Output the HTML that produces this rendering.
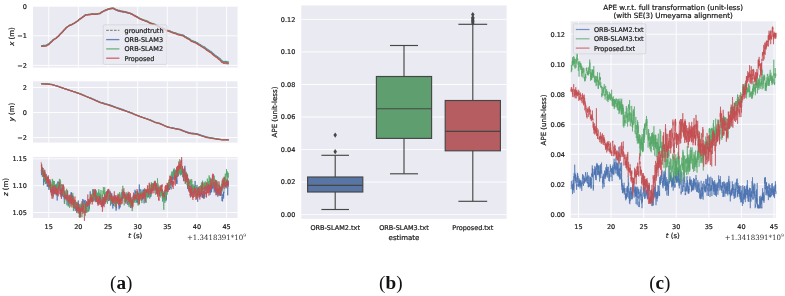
<!DOCTYPE html>
<html><head><meta charset="utf-8"><title>Figure</title>
<style>
html,body{margin:0;padding:0;background:#fff;}
svg{display:block;font-family:"DejaVu Sans","Liberation Sans",sans-serif;fill:#1c1c1c;}
text{stroke:#1c1c1c;stroke-width:0.22px;}
.cap{stroke:none;}
</style></head><body>
<svg width="785" height="296" viewBox="0 0 785 296">
<rect width="785" height="296" fill="#fff"/>
<rect x="33.0" y="6" width="204.5" height="61.5" fill="#EAEAF2"/>
<line x1="48.75" y1="6" x2="48.75" y2="67.5" stroke="#fff" stroke-width="0.9"/>
<line x1="78.39" y1="6" x2="78.39" y2="67.5" stroke="#fff" stroke-width="0.9"/>
<line x1="108.03" y1="6" x2="108.03" y2="67.5" stroke="#fff" stroke-width="0.9"/>
<line x1="137.68" y1="6" x2="137.68" y2="67.5" stroke="#fff" stroke-width="0.9"/>
<line x1="167.32" y1="6" x2="167.32" y2="67.5" stroke="#fff" stroke-width="0.9"/>
<line x1="196.96" y1="6" x2="196.96" y2="67.5" stroke="#fff" stroke-width="0.9"/>
<line x1="226.60" y1="6" x2="226.60" y2="67.5" stroke="#fff" stroke-width="0.9"/>
<line x1="33.0" y1="6.30" x2="237.5" y2="6.30" stroke="#fff" stroke-width="0.9"/>
<line x1="33.0" y1="35.80" x2="237.5" y2="35.80" stroke="#fff" stroke-width="0.9"/>
<line x1="33.0" y1="65.40" x2="237.5" y2="65.40" stroke="#fff" stroke-width="0.9"/>
<polyline points="41.2,46.4 42.0,46.3 42.8,46.2 43.5,46.2 44.2,46.0 45.0,45.8 45.8,45.6 46.5,45.4 47.2,45.2 48.0,44.7 48.8,44.2 49.5,43.6 50.2,43.1 51.0,42.5 51.8,42.0 52.5,41.4 53.2,40.8 54.0,40.2 54.8,39.5 55.5,38.9 56.2,38.3 57.0,37.7 57.8,37.0 58.5,36.3 59.2,35.5 60.0,34.8 60.8,34.0 61.5,33.3 62.2,32.5 63.0,31.6 63.8,30.6 64.5,29.7 65.2,28.8 66.0,27.8 66.8,27.0 67.5,26.6 68.2,26.1 69.0,25.6 69.8,25.3 70.5,24.9 71.2,24.6 72.0,24.3 72.8,23.8 73.5,23.3 74.2,22.8 75.0,22.3 75.8,21.8 76.5,21.2 77.2,20.7 78.0,20.2 78.8,19.6 79.5,19.0 80.2,18.4 81.0,17.8 81.8,17.2 82.5,16.7 83.2,16.3 84.0,15.9 84.8,15.4 85.5,15.0 86.2,14.8 87.0,14.7 87.8,14.6 88.5,14.5 89.2,14.4 90.0,14.4 90.8,14.3 91.5,14.2 92.2,14.2 93.0,14.1 93.8,14.0 94.5,14.0 95.2,13.9 96.0,13.8 96.8,13.7 97.5,13.6 98.2,13.5 99.0,13.4 99.8,13.2 100.5,12.9 101.2,12.4 102.0,12.0 102.8,11.5 103.5,11.1 104.2,10.6 105.0,10.2 105.8,9.7 106.5,9.3 107.2,8.9 108.0,8.8 108.8,8.6 109.5,8.4 110.2,8.3 111.0,8.4 111.8,8.5 112.5,8.6 113.2,8.8 114.0,9.0 114.8,9.2 115.5,9.4 116.2,9.6 117.0,9.8 117.8,10.0 118.5,10.2 119.2,10.4 120.0,10.6 120.8,10.8 121.5,11.0 122.2,11.2 123.0,11.4 123.8,11.5 124.5,11.7 125.2,11.9 126.0,12.0 126.8,12.2 127.5,12.4 128.2,12.5 129.0,12.7 129.8,13.2 130.5,13.6 131.2,14.1 132.0,14.6 132.8,15.0 133.5,15.4 134.2,15.7 135.0,16.0 135.8,16.3 136.5,16.6 137.2,16.9 138.0,17.3 138.8,17.7 139.5,18.1 140.2,18.4 141.0,18.8 141.8,19.2 142.5,19.6 143.2,19.9 144.0,20.3 144.8,20.7 145.5,21.0 146.2,21.3 147.0,21.6 147.8,21.9 148.5,22.2 149.2,22.5 150.0,22.8 150.8,23.1 151.5,23.4 152.2,23.7 153.0,24.0 153.8,24.3 154.5,24.6 155.2,24.9 156.0,25.3 156.8,25.7 157.5,26.1 158.2,26.4 159.0,26.8 159.8,27.2 160.5,27.5 161.2,27.9 162.0,28.2 162.8,28.6 163.5,28.9 164.2,29.3 165.0,29.6 165.8,30.0 166.5,30.3 167.2,30.7 168.0,31.0 168.8,31.2 169.5,31.5 170.2,31.7 171.0,32.0 171.8,32.2 172.5,32.5 173.2,32.7 174.0,33.0 174.8,33.2 175.5,33.4 176.2,33.6 177.0,33.9 177.8,34.1 178.5,34.3 179.2,34.5 180.0,34.7 180.8,34.9 181.5,35.1 182.2,35.3 183.0,35.5 183.8,35.7 184.5,36.1 185.2,36.6 186.0,37.0 186.8,37.5 187.5,37.9 188.2,38.4 189.0,38.9 189.8,39.3 190.5,39.8 191.2,40.2 192.0,40.7 192.8,41.1 193.5,41.6 194.2,42.1 195.0,42.6 195.8,43.0 196.5,43.5 197.2,44.0 198.0,44.5 198.8,44.9 199.5,45.4 200.2,45.9 201.0,46.4 201.8,46.8 202.5,47.3 203.2,47.8 204.0,48.3 204.8,48.8 205.5,49.3 206.2,49.8 207.0,50.4 207.8,50.9 208.5,51.4 209.2,51.9 210.0,52.4 210.8,52.9 211.5,53.4 212.2,53.9 213.0,54.4 213.8,54.9 214.5,55.5 215.2,56.0 216.0,56.7 216.8,57.3 217.5,58.0 218.2,58.6 219.0,59.3 219.8,59.9 220.5,60.6 221.2,61.2 222.0,61.9 222.8,62.5 223.5,63.2 224.2,63.6 225.0,63.7 225.8,63.8 226.5,63.9 227.2,63.9 228.0,64.0 228.8,64.1" fill="none" stroke="#8c8c8c" stroke-width="0.9" stroke-opacity="1" stroke-linejoin="round" stroke-dasharray="2.2,1.2"/>
<polyline points="41.2,45.7 42.0,45.6 42.8,45.6 43.5,45.5 44.2,45.4 45.0,45.3 45.8,45.3 46.5,45.1 47.2,44.6 48.0,44.2 48.8,43.9 49.5,43.2 50.2,42.5 51.0,41.8 51.8,41.2 52.5,40.4 53.2,39.7 54.0,39.2 54.8,38.7 55.5,38.4 56.2,38.0 57.0,37.3 57.8,36.6 58.5,36.1 59.2,35.3 60.0,34.3 60.8,33.5 61.5,33.0 62.2,32.1 63.0,31.4 63.8,30.3 64.5,29.6 65.2,28.9 66.0,28.0 66.8,27.3 67.5,26.7 68.2,26.3 69.0,25.7 69.8,25.2 70.5,25.2 71.2,24.7 72.0,24.4 72.8,23.9 73.5,23.5 74.2,23.3 75.0,22.7 75.8,22.2 76.5,21.6 77.2,21.2 78.0,20.7 78.8,19.9 79.5,19.2 80.2,18.8 81.0,18.4 81.8,17.7 82.5,17.2 83.2,16.6 84.0,16.2 84.8,15.5 85.5,14.8 86.2,14.8 87.0,14.7 87.8,14.8 88.5,14.5 89.2,14.5 90.0,14.6 90.8,14.3 91.5,14.1 92.2,13.8 93.0,14.1 93.8,14.2 94.5,14.0 95.2,14.2 96.0,14.1 96.8,14.3 97.5,13.9 98.2,13.7 99.0,13.6 99.8,13.6 100.5,13.2 101.2,12.4 102.0,12.0 102.8,11.6 103.5,11.2 104.2,10.9 105.0,10.5 105.8,10.3 106.5,9.9 107.2,9.8 108.0,9.4 108.8,9.3 109.5,8.9 110.2,8.8 111.0,8.8 111.8,8.5 112.5,8.5 113.2,8.5 114.0,8.9 114.8,9.4 115.5,9.8 116.2,10.2 117.0,10.5 117.8,10.9 118.5,11.1 119.2,10.9 120.0,11.3 120.8,11.7 121.5,11.7 122.2,11.8 123.0,12.0 123.8,12.0 124.5,12.1 125.2,12.1 126.0,12.5 126.8,12.7 127.5,12.8 128.2,13.1 129.0,13.1 129.8,13.4 130.5,13.6 131.2,14.0 132.0,14.2 132.8,14.8 133.5,14.9 134.2,15.6 135.0,15.9 135.8,16.3 136.5,16.9 137.2,16.8 138.0,17.6 138.8,18.1 139.5,18.6 140.2,18.8 141.0,19.1 141.8,19.6 142.5,19.9 143.2,20.0 144.0,20.4 144.8,20.7 145.5,20.9 146.2,21.2 147.0,21.5 147.8,21.9 148.5,22.3 149.2,22.7 150.0,23.0 150.8,23.4 151.5,23.5 152.2,23.8 153.0,23.9 153.8,24.1 154.5,24.3 155.2,24.5 156.0,25.2 156.8,25.5 157.5,25.7 158.2,26.2 159.0,27.0 159.8,27.2 160.5,27.3 161.2,27.6 162.0,27.9 162.8,28.3 163.5,28.4 164.2,29.0 165.0,29.2 165.8,29.7 166.5,30.2 167.2,30.4 168.0,30.5 168.8,30.6 169.5,31.1 170.2,31.2 171.0,31.6 171.8,31.8 172.5,32.2 173.2,32.5 174.0,32.6 174.8,32.9 175.5,33.0 176.2,33.2 177.0,33.7 177.8,34.0 178.5,34.2 179.2,34.4 180.0,34.4 180.8,34.7 181.5,34.9 182.2,34.9 183.0,35.2 183.8,35.5 184.5,36.2 185.2,36.7 186.0,36.9 186.8,37.6 187.5,37.8 188.2,38.2 189.0,38.6 189.8,39.1 190.5,39.8 191.2,40.3 192.0,40.7 192.8,40.8 193.5,41.3 194.2,41.5 195.0,41.7 195.8,42.1 196.5,42.5 197.2,42.9 198.0,43.2 198.8,43.8 199.5,44.3 200.2,44.6 201.0,45.2 201.8,45.7 202.5,46.1 203.2,46.5 204.0,46.8 204.8,47.3 205.5,47.9 206.2,48.7 207.0,49.1 207.8,49.6 208.5,50.2 209.2,50.5 210.0,51.1 210.8,51.4 211.5,52.1 212.2,52.7 213.0,53.6 213.8,54.1 214.5,54.7 215.2,55.3 216.0,55.9 216.8,56.3 217.5,56.5 218.2,57.5 219.0,58.0 219.8,58.6 220.5,59.2 221.2,60.2 222.0,60.9 222.8,61.2 223.5,61.7 224.2,61.9 225.0,61.5 225.8,61.3 226.5,61.6 227.2,62.0 228.0,62.0 228.8,62.2" fill="none" stroke="#4C72B0" stroke-width="1.3" stroke-opacity="0.92" stroke-linejoin="round"/>
<polyline points="41.2,46.2 42.0,46.1 42.8,46.2 43.5,46.1 44.2,46.0 45.0,45.9 45.8,45.9 46.5,45.7 47.2,45.1 48.0,44.7 48.8,44.4 49.5,43.6 50.2,42.9 51.0,42.1 51.8,41.5 52.5,40.6 53.2,39.9 54.0,39.3 54.8,38.8 55.5,38.4 56.2,38.0 57.0,37.3 57.8,36.6 58.5,36.0 59.2,35.2 60.0,34.2 60.8,33.4 61.5,32.9 62.2,32.1 63.0,31.3 63.8,30.2 64.5,29.5 65.2,28.8 66.0,27.9 66.8,27.2 67.5,26.6 68.2,26.2 69.0,25.6 69.8,25.1 70.5,25.1 71.2,24.6 72.0,24.3 72.8,23.8 73.5,23.4 74.2,23.2 75.0,22.6 75.8,22.1 76.5,21.5 77.2,21.1 78.0,20.6 78.8,19.8 79.5,19.1 80.2,18.7 81.0,18.3 81.8,17.6 82.5,17.1 83.2,16.5 84.0,16.1 84.8,15.4 85.5,14.7 86.2,14.7 87.0,14.6 87.8,14.7 88.5,14.4 89.2,14.4 90.0,14.5 90.8,14.2 91.5,14.0 92.2,13.7 93.0,14.0 93.8,14.1 94.5,13.9 95.2,14.1 96.0,14.0 96.8,14.1 97.5,13.8 98.2,13.5 99.0,13.5 99.8,13.4 100.5,13.1 101.2,12.3 102.0,11.9 102.8,11.4 103.5,11.0 104.2,10.7 105.0,10.3 105.8,10.1 106.5,9.6 107.2,9.5 108.0,9.2 108.8,9.0 109.5,8.6 110.2,8.5 111.0,8.4 111.8,8.0 112.5,8.1 113.2,8.0 114.0,8.4 114.8,8.9 115.5,9.2 116.2,9.6 117.0,9.9 117.8,10.3 118.5,10.5 119.2,10.3 120.0,10.7 120.8,11.1 121.5,11.1 122.2,11.2 123.0,11.4 123.8,11.5 124.5,11.6 125.2,11.6 126.0,12.0 126.8,12.2 127.5,12.4 128.2,12.6 129.0,12.8 129.8,13.1 130.5,13.2 131.2,13.7 132.0,13.9 132.8,14.5 133.5,14.7 134.2,15.4 135.0,15.7 135.8,16.1 136.5,16.7 137.2,16.6 138.0,17.4 138.8,17.9 139.5,18.3 140.2,18.5 141.0,18.8 141.8,19.2 142.5,19.5 143.2,19.6 144.0,19.9 144.8,20.1 145.5,20.4 146.2,20.6 147.0,20.9 147.8,21.3 148.5,21.7 149.2,22.2 150.0,22.5 150.8,23.0 151.5,23.1 152.2,23.5 153.0,23.6 153.8,23.9 154.5,24.1 155.2,24.4 156.0,25.1 156.8,25.4 157.5,25.7 158.2,26.2 159.0,26.9 159.8,27.2 160.5,27.3 161.2,27.6 162.0,27.9 162.8,28.3 163.5,28.4 164.2,29.0 165.0,29.3 165.8,29.8 166.5,30.3 167.2,30.5 168.0,30.6 168.8,30.7 169.5,31.2 170.2,31.3 171.0,31.7 171.8,31.9 172.5,32.3 173.2,32.6 174.0,32.8 174.8,33.0 175.5,33.2 176.2,33.4 177.0,33.8 177.8,34.2 178.5,34.4 179.2,34.5 180.0,34.6 180.8,34.9 181.5,35.1 182.2,35.1 183.0,35.4 183.8,35.8 184.5,36.4 185.2,36.9 186.0,37.1 186.8,37.8 187.5,38.0 188.2,38.5 189.0,38.9 189.8,39.3 190.5,40.1 191.2,40.6 192.0,41.0 192.8,41.1 193.5,41.6 194.2,41.8 195.0,42.0 195.8,42.4 196.5,42.8 197.2,43.2 198.0,43.6 198.8,44.2 199.5,44.6 200.2,45.0 201.0,45.6 201.8,46.1 202.5,46.5 203.2,46.9 204.0,47.2 204.8,47.8 205.5,48.4 206.2,49.1 207.0,49.5 207.8,50.1 208.5,50.7 209.2,51.0 210.0,51.5 210.8,51.9 211.5,52.5 212.2,53.2 213.0,54.1 213.8,54.6 214.5,55.2 215.2,55.8 216.0,56.4 216.8,56.8 217.5,57.1 218.2,58.0 219.0,58.5 219.8,59.2 220.5,59.8 221.2,60.8 222.0,61.5 222.8,61.7 223.5,62.3 224.2,62.5 225.0,62.1 225.8,61.9 226.5,62.2 227.2,62.6 228.0,62.6 228.8,62.8" fill="none" stroke="#55A868" stroke-width="1.3" stroke-opacity="0.92" stroke-linejoin="round"/>
<polyline points="41.2,46.4 42.0,46.3 42.8,46.4 43.5,46.3 44.2,46.2 45.0,46.1 45.8,46.1 46.5,45.9 47.2,45.3 48.0,45.0 48.8,44.6 49.5,43.8 50.2,43.1 51.0,42.3 51.8,41.7 52.5,40.8 53.2,40.1 54.0,39.5 54.8,39.0 55.5,38.7 56.2,38.2 57.0,37.5 57.8,36.8 58.5,36.2 59.2,35.4 60.0,34.4 60.8,33.7 61.5,33.1 62.2,32.3 63.0,31.5 63.8,30.4 64.5,29.7 65.2,29.0 66.0,28.1 66.8,27.4 67.5,26.8 68.2,26.4 69.0,25.8 69.8,25.4 70.5,25.3 71.2,24.8 72.0,24.6 72.8,24.1 73.5,23.6 74.2,23.4 75.0,22.8 75.8,22.3 76.5,21.7 77.2,21.3 78.0,20.8 78.8,20.0 79.5,19.3 80.2,19.0 81.0,18.6 81.8,17.8 82.5,17.4 83.2,16.8 84.0,16.4 84.8,15.7 85.5,15.0 86.2,14.9 87.0,14.8 87.8,14.9 88.5,14.6 89.2,14.6 90.0,14.7 90.8,14.4 91.5,14.2 92.2,13.9 93.0,14.2 93.8,14.4 94.5,14.1 95.2,14.3 96.0,14.2 96.8,14.4 97.5,14.0 98.2,13.8 99.0,13.7 99.8,13.7 100.5,13.3 101.2,12.5 102.0,12.1 102.8,11.6 103.5,11.3 104.2,10.9 105.0,10.5 105.8,10.3 106.5,9.8 107.2,9.7 108.0,9.4 108.8,9.2 109.5,8.8 110.2,8.7 111.0,8.6 111.8,8.3 112.5,8.3 113.2,8.2 114.0,8.7 114.8,9.1 115.5,9.5 116.2,9.9 117.0,10.1 117.8,10.5 118.5,10.7 119.2,10.5 120.0,11.0 120.8,11.3 121.5,11.3 122.2,11.5 123.0,11.7 123.8,11.7 124.5,11.8 125.2,11.8 126.0,12.2 126.8,12.5 127.5,12.6 128.2,12.9 129.0,13.0 129.8,13.3 130.5,13.4 131.2,13.9 132.0,14.1 132.8,14.8 133.5,14.9 134.2,15.6 135.0,15.9 135.8,16.3 136.5,16.9 137.2,16.9 138.0,17.7 138.8,18.2 139.5,18.7 140.2,18.9 141.0,19.2 141.8,19.7 142.5,20.0 143.2,20.1 144.0,20.5 144.8,20.8 145.5,21.0 146.2,21.3 147.0,21.6 147.8,22.0 148.5,22.4 149.2,22.8 150.0,23.1 150.8,23.6 151.5,23.6 152.2,23.9 153.0,24.0 153.8,24.3 154.5,24.5 155.2,24.8 156.0,25.4 156.8,25.7 157.5,26.0 158.2,26.5 159.0,27.2 159.8,27.5 160.5,27.6 161.2,28.0 162.0,28.2 162.8,28.6 163.5,28.8 164.2,29.3 165.0,29.6 165.8,30.1 166.5,30.6 167.2,30.9 168.0,31.0 168.8,31.1 169.5,31.6 170.2,31.7 171.0,32.1 171.8,32.4 172.5,32.7 173.2,33.1 174.0,33.2 174.8,33.5 175.5,33.6 176.2,33.9 177.0,34.3 177.8,34.7 178.5,34.9 179.2,35.0 180.0,35.1 180.8,35.4 181.5,35.6 182.2,35.7 183.0,35.9 183.8,36.3 184.5,37.0 185.2,37.4 186.0,37.7 186.8,38.4 187.5,38.6 188.2,39.1 189.0,39.5 189.8,39.9 190.5,40.7 191.2,41.2 192.0,41.6 192.8,41.7 193.5,42.3 194.2,42.5 195.0,42.7 195.8,43.0 196.5,43.4 197.2,43.9 198.0,44.3 198.8,44.9 199.5,45.3 200.2,45.7 201.0,46.3 201.8,46.8 202.5,47.2 203.2,47.6 204.0,47.9 204.8,48.5 205.5,49.1 206.2,49.9 207.0,50.3 207.8,50.8 208.5,51.4 209.2,51.8 210.0,52.3 210.8,52.6 211.5,53.3 212.2,54.0 213.0,54.9 213.8,55.4 214.5,56.0 215.2,56.6 216.0,57.2 216.8,57.6 217.5,57.9 218.2,58.9 219.0,59.4 219.8,60.1 220.5,60.7 221.2,61.7 222.0,62.4 222.8,62.6 223.5,63.2 224.2,63.4 225.0,63.0 225.8,62.9 226.5,63.1 227.2,63.5 228.0,63.5 228.8,63.8" fill="none" stroke="#C44E52" stroke-width="1.3" stroke-opacity="0.95" stroke-linejoin="round"/>
<text x="26.90" y="8.60" font-size="6.5" text-anchor="end" >0</text>
<text x="26.90" y="38.10" font-size="6.5" text-anchor="end" >−1</text>
<text x="26.90" y="67.70" font-size="6.5" text-anchor="end" >−2</text>
<text transform="translate(13.9,36.5) rotate(-90)" font-size="7" text-anchor="middle"><tspan font-style="italic">x</tspan> (m)</text>
<rect x="103.2" y="24.8" width="63.8" height="39.6" rx="1.3" fill="#EAEAF2" fill-opacity="0.8" stroke="#cccccc" stroke-width="0.6"/>
<line x1="106.2" y1="30.3" x2="119.4" y2="30.3" stroke="#8c8c8c" stroke-width="1.2" stroke-dasharray="2.6,1.3"/>
<line x1="106.2" y1="39.6" x2="119.4" y2="39.6" stroke="#4C72B0" stroke-width="1.3" stroke-opacity="0.85"/>
<line x1="106.2" y1="48.9" x2="119.4" y2="48.9" stroke="#55A868" stroke-width="1.3" stroke-opacity="0.85"/>
<line x1="106.2" y1="58.2" x2="119.4" y2="58.2" stroke="#C44E52" stroke-width="1.3" stroke-opacity="0.85"/>
<text x="124.50" y="32.70" font-size="6.5" text-anchor="start" >groundtruth</text>
<text x="124.50" y="42.00" font-size="6.5" text-anchor="start" >ORB-SLAM3</text>
<text x="124.50" y="51.30" font-size="6.5" text-anchor="start" >ORB-SLAM2</text>
<text x="124.50" y="60.60" font-size="6.5" text-anchor="start" >Proposed</text>
<rect x="33.0" y="81.3" width="204.5" height="61.3" fill="#EAEAF2"/>
<line x1="48.75" y1="81.3" x2="48.75" y2="142.6" stroke="#fff" stroke-width="0.9"/>
<line x1="78.39" y1="81.3" x2="78.39" y2="142.6" stroke="#fff" stroke-width="0.9"/>
<line x1="108.03" y1="81.3" x2="108.03" y2="142.6" stroke="#fff" stroke-width="0.9"/>
<line x1="137.68" y1="81.3" x2="137.68" y2="142.6" stroke="#fff" stroke-width="0.9"/>
<line x1="167.32" y1="81.3" x2="167.32" y2="142.6" stroke="#fff" stroke-width="0.9"/>
<line x1="196.96" y1="81.3" x2="196.96" y2="142.6" stroke="#fff" stroke-width="0.9"/>
<line x1="226.60" y1="81.3" x2="226.60" y2="142.6" stroke="#fff" stroke-width="0.9"/>
<line x1="33.0" y1="87.50" x2="237.5" y2="87.50" stroke="#fff" stroke-width="0.9"/>
<line x1="33.0" y1="112.50" x2="237.5" y2="112.50" stroke="#fff" stroke-width="0.9"/>
<line x1="33.0" y1="137.50" x2="237.5" y2="137.50" stroke="#fff" stroke-width="0.9"/>
<polyline points="41.2,83.7 42.0,83.7 42.8,83.8 43.5,83.8 44.2,83.8 45.0,83.8 45.8,83.9 46.5,83.9 47.2,83.9 48.0,84.0 48.8,84.1 49.5,84.2 50.2,84.3 51.0,84.4 51.8,84.5 52.5,84.6 53.2,84.9 54.0,85.1 54.8,85.3 55.5,85.5 56.2,85.7 57.0,85.9 57.8,86.1 58.5,86.4 59.2,86.6 60.0,86.9 60.8,87.1 61.5,87.4 62.2,87.7 63.0,87.9 63.8,88.2 64.5,88.4 65.2,88.7 66.0,88.9 66.8,89.2 67.5,89.4 68.2,89.7 69.0,89.9 69.8,90.2 70.5,90.4 71.2,90.7 72.0,90.9 72.8,91.2 73.5,91.4 74.2,91.7 75.0,92.0 75.8,92.2 76.5,92.5 77.2,92.7 78.0,93.0 78.8,93.3 79.5,93.5 80.2,93.8 81.0,94.1 81.8,94.4 82.5,94.8 83.2,95.1 84.0,95.4 84.8,95.7 85.5,96.0 86.2,96.3 87.0,96.6 87.8,97.0 88.5,97.3 89.2,97.6 90.0,97.9 90.8,98.2 91.5,98.6 92.2,98.9 93.0,99.2 93.8,99.6 94.5,99.9 95.2,100.3 96.0,100.6 96.8,100.9 97.5,101.3 98.2,101.6 99.0,102.0 99.8,102.3 100.5,102.6 101.2,102.8 102.0,103.0 102.8,103.2 103.5,103.5 104.2,103.7 105.0,103.9 105.8,104.1 106.5,104.4 107.2,104.6 108.0,104.8 108.8,105.0 109.5,105.2 110.2,105.5 111.0,105.8 111.8,106.0 112.5,106.3 113.2,106.5 114.0,106.8 114.8,107.1 115.5,107.3 116.2,107.6 117.0,107.9 117.8,108.1 118.5,108.4 119.2,108.6 120.0,108.9 120.8,109.2 121.5,109.4 122.2,109.7 123.0,110.0 123.8,110.2 124.5,110.5 125.2,110.7 126.0,111.0 126.8,111.3 127.5,111.5 128.2,111.8 129.0,112.1 129.8,112.3 130.5,112.6 131.2,112.9 132.0,113.2 132.8,113.5 133.5,113.8 134.2,114.1 135.0,114.4 135.8,114.7 136.5,115.0 137.2,115.3 138.0,115.6 138.8,115.9 139.5,116.2 140.2,116.5 141.0,116.8 141.8,117.0 142.5,117.3 143.2,117.5 144.0,117.8 144.8,118.1 145.5,118.3 146.2,118.6 147.0,118.9 147.8,119.1 148.5,119.4 149.2,119.6 150.0,119.9 150.8,120.2 151.5,120.6 152.2,120.9 153.0,121.3 153.8,121.6 154.5,122.0 155.2,122.3 156.0,122.5 156.8,122.7 157.5,122.8 158.2,123.0 159.0,123.2 159.8,123.4 160.5,123.7 161.2,124.1 162.0,124.4 162.8,124.7 163.5,125.1 164.2,125.4 165.0,125.8 165.8,126.1 166.5,126.4 167.2,126.8 168.0,127.0 168.8,127.2 169.5,127.3 170.2,127.5 171.0,127.6 171.8,127.8 172.5,128.0 173.2,128.1 174.0,128.3 174.8,128.4 175.5,128.6 176.2,128.8 177.0,128.9 177.8,129.1 178.5,129.2 179.2,129.3 180.0,129.5 180.8,129.8 181.5,130.1 182.2,130.4 183.0,130.7 183.8,131.0 184.5,131.3 185.2,131.6 186.0,131.9 186.8,132.1 187.5,132.4 188.2,132.6 189.0,132.9 189.8,133.1 190.5,133.3 191.2,133.4 192.0,133.5 192.8,133.6 193.5,133.7 194.2,133.7 195.0,133.8 195.8,133.9 196.5,134.0 197.2,134.2 198.0,134.5 198.8,134.7 199.5,135.0 200.2,135.3 201.0,135.5 201.8,135.8 202.5,136.1 203.2,136.3 204.0,136.5 204.8,136.7 205.5,137.0 206.2,137.2 207.0,137.4 207.8,137.5 208.5,137.6 209.2,137.8 210.0,137.9 210.8,138.0 211.5,138.1 212.2,138.3 213.0,138.4 213.8,138.5 214.5,138.6 215.2,138.7 216.0,138.8 216.8,139.0 217.5,139.1 218.2,139.2 219.0,139.3 219.8,139.4 220.5,139.5 221.2,139.6 222.0,139.7 222.8,139.7 223.5,139.7 224.2,139.7 225.0,139.7 225.8,139.7 226.5,139.7 227.2,139.7 228.0,139.7 228.8,139.7" fill="none" stroke="#8c8c8c" stroke-width="0.9" stroke-opacity="1" stroke-linejoin="round" stroke-dasharray="2.2,1.2"/>
<polyline points="41.2,83.6 42.0,83.6 42.8,83.6 43.5,83.7 44.2,83.7 45.0,83.7 45.8,83.8 46.5,83.8 47.2,83.9 48.0,84.0 48.8,84.1 49.5,84.2 50.2,84.3 51.0,84.4 51.8,84.5 52.5,84.7 53.2,84.9 54.0,85.1 54.8,85.4 55.5,85.6 56.2,85.8 57.0,86.0 57.8,86.2 58.5,86.5 59.2,86.8 60.0,87.0 60.8,87.3 61.5,87.5 62.2,87.8 63.0,88.1 63.8,88.3 64.5,88.6 65.2,88.8 66.0,89.1 66.8,89.3 67.5,89.6 68.2,89.8 69.0,90.1 69.8,90.3 70.5,90.5 71.2,90.8 72.0,91.0 72.8,91.3 73.5,91.5 74.2,91.8 75.0,92.0 75.8,92.3 76.5,92.6 77.2,92.8 78.0,93.1 78.8,93.3 79.5,93.6 80.2,93.8 81.0,94.1 81.8,94.4 82.5,94.7 83.2,95.0 84.0,95.3 84.8,95.7 85.5,96.0 86.2,96.3 87.0,96.6 87.8,96.9 88.5,97.2 89.2,97.5 90.0,97.8 90.8,98.1 91.5,98.4 92.2,98.7 93.0,99.1 93.8,99.4 94.5,99.7 95.2,100.0 96.0,100.4 96.8,100.7 97.5,101.0 98.2,101.3 99.0,101.7 99.8,102.0 100.5,102.3 101.2,102.5 102.0,102.7 102.8,102.9 103.5,103.1 104.2,103.3 105.0,103.6 105.8,103.8 106.5,104.0 107.2,104.2 108.0,104.5 108.8,104.7 109.5,104.9 110.2,105.1 111.0,105.4 111.8,105.7 112.5,105.9 113.2,106.2 114.0,106.5 114.8,106.7 115.5,107.0 116.2,107.3 117.0,107.5 117.8,107.8 118.5,108.1 119.2,108.3 120.0,108.6 120.8,108.9 121.5,109.2 122.2,109.4 123.0,109.7 123.8,110.0 124.5,110.2 125.2,110.5 126.0,110.8 126.8,111.1 127.5,111.3 128.2,111.6 129.0,111.9 129.8,112.2 130.5,112.5 131.2,112.8 132.0,113.1 132.8,113.4 133.5,113.7 134.2,114.0 135.0,114.4 135.8,114.7 136.5,115.0 137.2,115.3 138.0,115.6 138.8,115.9 139.5,116.2 140.2,116.5 141.0,116.8 141.8,117.1 142.5,117.3 143.2,117.6 144.0,117.9 144.8,118.2 145.5,118.4 146.2,118.7 147.0,119.0 147.8,119.2 148.5,119.5 149.2,119.8 150.0,120.0 150.8,120.4 151.5,120.7 152.2,121.1 153.0,121.4 153.8,121.8 154.5,122.1 155.2,122.4 156.0,122.6 156.8,122.8 157.5,123.0 158.2,123.2 159.0,123.4 159.8,123.6 160.5,123.8 161.2,124.2 162.0,124.5 162.8,124.8 163.5,125.2 164.2,125.5 165.0,125.8 165.8,126.2 166.5,126.5 167.2,126.8 168.0,127.0 168.8,127.2 169.5,127.3 170.2,127.5 171.0,127.6 171.8,127.8 172.5,127.9 173.2,128.1 174.0,128.2 174.8,128.4 175.5,128.5 176.2,128.6 177.0,128.8 177.8,128.9 178.5,129.1 179.2,129.2 180.0,129.3 180.8,129.6 181.5,129.9 182.2,130.2 183.0,130.5 183.8,130.8 184.5,131.1 185.2,131.3 186.0,131.6 186.8,131.9 187.5,132.1 188.2,132.3 189.0,132.6 189.8,132.8 190.5,132.9 191.2,133.0 192.0,133.1 192.8,133.2 193.5,133.3 194.2,133.4 195.0,133.5 195.8,133.6 196.5,133.7 197.2,133.8 198.0,134.1 198.8,134.4 199.5,134.7 200.2,134.9 201.0,135.2 201.8,135.5 202.5,135.7 203.2,135.9 204.0,136.2 204.8,136.4 205.5,136.6 206.2,136.9 207.0,137.1 207.8,137.2 208.5,137.4 209.2,137.5 210.0,137.6 210.8,137.8 211.5,137.9 212.2,138.0 213.0,138.2 213.8,138.3 214.5,138.4 215.2,138.6 216.0,138.7 216.8,138.8 217.5,138.9 218.2,139.0 219.0,139.2 219.8,139.3 220.5,139.4 221.2,139.5 222.0,139.6 222.8,139.7 223.5,139.7 224.2,139.7 225.0,139.7 225.8,139.7 226.5,139.7 227.2,139.7 228.0,139.7 228.8,139.7" fill="none" stroke="#4C72B0" stroke-width="1.25" stroke-opacity="0.92" stroke-linejoin="round"/>
<polyline points="41.2,83.6 42.0,83.6 42.8,83.6 43.5,83.6 44.2,83.7 45.0,83.7 45.8,83.7 46.5,83.8 47.2,83.8 48.0,83.9 48.8,84.0 49.5,84.1 50.2,84.2 51.0,84.3 51.8,84.4 52.5,84.6 53.2,84.8 54.0,85.1 54.8,85.3 55.5,85.5 56.2,85.7 57.0,86.0 57.8,86.2 58.5,86.5 59.2,86.7 60.0,87.0 60.8,87.3 61.5,87.6 62.2,87.8 63.0,88.1 63.8,88.4 64.5,88.6 65.2,88.9 66.0,89.2 66.8,89.4 67.5,89.7 68.2,89.9 69.0,90.2 69.8,90.4 70.5,90.7 71.2,90.9 72.0,91.1 72.8,91.4 73.5,91.7 74.2,91.9 75.0,92.2 75.8,92.4 76.5,92.7 77.2,92.9 78.0,93.2 78.8,93.4 79.5,93.7 80.2,94.0 81.0,94.3 81.8,94.6 82.5,94.9 83.2,95.1 84.0,95.4 84.8,95.7 85.5,96.0 86.2,96.3 87.0,96.6 87.8,96.9 88.5,97.2 89.2,97.5 90.0,97.8 90.8,98.2 91.5,98.5 92.2,98.8 93.0,99.1 93.8,99.5 94.5,99.8 95.2,100.1 96.0,100.5 96.8,100.8 97.5,101.1 98.2,101.5 99.0,101.8 99.8,102.1 100.5,102.4 101.2,102.6 102.0,102.9 102.8,103.1 103.5,103.3 104.2,103.6 105.0,103.8 105.8,104.0 106.5,104.3 107.2,104.5 108.0,104.7 108.8,105.0 109.5,105.2 110.2,105.5 111.0,105.8 111.8,106.0 112.5,106.3 113.2,106.6 114.0,106.9 114.8,107.1 115.5,107.4 116.2,107.7 117.0,108.0 117.8,108.3 118.5,108.5 119.2,108.8 120.0,109.1 120.8,109.4 121.5,109.6 122.2,109.9 123.0,110.2 123.8,110.4 124.5,110.7 125.2,111.0 126.0,111.2 126.8,111.5 127.5,111.8 128.2,112.0 129.0,112.3 129.8,112.6 130.5,112.8 131.2,113.1 132.0,113.4 132.8,113.7 133.5,114.0 134.2,114.3 135.0,114.6 135.8,114.9 136.5,115.2 137.2,115.4 138.0,115.7 138.8,116.0 139.5,116.3 140.2,116.6 141.0,116.8 141.8,117.1 142.5,117.3 143.2,117.5 144.0,117.8 144.8,118.0 145.5,118.3 146.2,118.5 147.0,118.8 147.8,119.0 148.5,119.3 149.2,119.5 150.0,119.8 150.8,120.1 151.5,120.5 152.2,120.8 153.0,121.1 153.8,121.5 154.5,121.8 155.2,122.1 156.0,122.3 156.8,122.5 157.5,122.7 158.2,122.9 159.0,123.1 159.8,123.3 160.5,123.6 161.2,124.0 162.0,124.3 162.8,124.7 163.5,125.0 164.2,125.4 165.0,125.7 165.8,126.1 166.5,126.4 167.2,126.8 168.0,127.0 168.8,127.2 169.5,127.4 170.2,127.6 171.0,127.7 171.8,127.9 172.5,128.1 173.2,128.3 174.0,128.4 174.8,128.6 175.5,128.8 176.2,128.9 177.0,129.1 177.8,129.3 178.5,129.4 179.2,129.6 180.0,129.7 180.8,130.0 181.5,130.3 182.2,130.6 183.0,130.9 183.8,131.2 184.5,131.5 185.2,131.8 186.0,132.1 186.8,132.4 187.5,132.6 188.2,132.9 189.0,133.1 189.8,133.3 190.5,133.5 191.2,133.5 192.0,133.6 192.8,133.7 193.5,133.8 194.2,133.9 195.0,134.0 195.8,134.0 196.5,134.1 197.2,134.3 198.0,134.5 198.8,134.8 199.5,135.0 200.2,135.3 201.0,135.5 201.8,135.8 202.5,136.0 203.2,136.2 204.0,136.4 204.8,136.6 205.5,136.9 206.2,137.1 207.0,137.3 207.8,137.4 208.5,137.5 209.2,137.6 210.0,137.7 210.8,137.9 211.5,138.0 212.2,138.1 213.0,138.2 213.8,138.4 214.5,138.5 215.2,138.6 216.0,138.7 216.8,138.8 217.5,138.9 218.2,139.1 219.0,139.2 219.8,139.3 220.5,139.4 221.2,139.5 222.0,139.7 222.8,139.7 223.5,139.7 224.2,139.7 225.0,139.7 225.8,139.7 226.5,139.8 227.2,139.8 228.0,139.8 228.8,139.8" fill="none" stroke="#55A868" stroke-width="1.25" stroke-opacity="0.92" stroke-linejoin="round"/>
<polyline points="41.2,83.9 42.0,83.9 42.8,84.0 43.5,84.0 44.2,84.0 45.0,84.0 45.8,84.1 46.5,84.1 47.2,84.1 48.0,84.2 48.8,84.3 49.5,84.4 50.2,84.5 51.0,84.6 51.8,84.7 52.5,84.8 53.2,85.1 54.0,85.3 54.8,85.5 55.5,85.7 56.2,85.9 57.0,86.1 57.8,86.3 58.5,86.6 59.2,86.8 60.0,87.1 60.8,87.3 61.5,87.6 62.2,87.9 63.0,88.1 63.8,88.4 64.5,88.6 65.2,88.9 66.0,89.1 66.8,89.4 67.5,89.6 68.2,89.9 69.0,90.1 69.8,90.4 70.5,90.6 71.2,90.9 72.0,91.1 72.8,91.4 73.5,91.6 74.2,91.9 75.0,92.1 75.8,92.4 76.5,92.7 77.2,92.9 78.0,93.2 78.8,93.5 79.5,93.7 80.2,94.0 81.0,94.3 81.8,94.6 82.5,94.9 83.2,95.3 84.0,95.6 84.8,95.9 85.5,96.2 86.2,96.5 87.0,96.8 87.8,97.2 88.5,97.5 89.2,97.8 90.0,98.1 90.8,98.4 91.5,98.8 92.2,99.1 93.0,99.4 93.8,99.8 94.5,100.1 95.2,100.5 96.0,100.8 96.8,101.1 97.5,101.5 98.2,101.8 99.0,102.1 99.8,102.5 100.5,102.8 101.2,103.0 102.0,103.2 102.8,103.4 103.5,103.6 104.2,103.9 105.0,104.1 105.8,104.3 106.5,104.5 107.2,104.8 108.0,105.0 108.8,105.2 109.5,105.4 110.2,105.7 111.0,105.9 111.8,106.2 112.5,106.5 113.2,106.7 114.0,107.0 114.8,107.3 115.5,107.5 116.2,107.8 117.0,108.0 117.8,108.3 118.5,108.6 119.2,108.8 120.0,109.1 120.8,109.4 121.5,109.6 122.2,109.9 123.0,110.1 123.8,110.4 124.5,110.7 125.2,110.9 126.0,111.2 126.8,111.5 127.5,111.7 128.2,112.0 129.0,112.2 129.8,112.5 130.5,112.8 131.2,113.1 132.0,113.4 132.8,113.7 133.5,114.0 134.2,114.3 135.0,114.6 135.8,114.9 136.5,115.2 137.2,115.5 138.0,115.8 138.8,116.1 139.5,116.4 140.2,116.7 141.0,116.9 141.8,117.2 142.5,117.5 143.2,117.7 144.0,118.0 144.8,118.3 145.5,118.5 146.2,118.8 147.0,119.0 147.8,119.3 148.5,119.6 149.2,119.8 150.0,120.1 150.8,120.4 151.5,120.8 152.2,121.1 153.0,121.5 153.8,121.8 154.5,122.2 155.2,122.5 156.0,122.7 156.8,122.9 157.5,123.0 158.2,123.2 159.0,123.4 159.8,123.6 160.5,123.9 161.2,124.3 162.0,124.6 162.8,124.9 163.5,125.3 164.2,125.6 165.0,126.0 165.8,126.3 166.5,126.6 167.2,127.0 168.0,127.2 168.8,127.4 169.5,127.5 170.2,127.7 171.0,127.8 171.8,128.0 172.5,128.2 173.2,128.3 174.0,128.5 174.8,128.6 175.5,128.8 176.2,128.9 177.0,129.1 177.8,129.2 178.5,129.4 179.2,129.5 180.0,129.7 180.8,130.0 181.5,130.3 182.2,130.6 183.0,130.9 183.8,131.2 184.5,131.5 185.2,131.8 186.0,132.1 186.8,132.3 187.5,132.6 188.2,132.8 189.0,133.1 189.8,133.3 190.5,133.5 191.2,133.6 192.0,133.7 192.8,133.8 193.5,133.8 194.2,133.9 195.0,134.0 195.8,134.1 196.5,134.2 197.2,134.4 198.0,134.7 198.8,134.9 199.5,135.2 200.2,135.5 201.0,135.7 201.8,136.0 202.5,136.2 203.2,136.5 204.0,136.7 204.8,136.9 205.5,137.2 206.2,137.4 207.0,137.6 207.8,137.7 208.5,137.8 209.2,138.0 210.0,138.1 210.8,138.2 211.5,138.3 212.2,138.5 213.0,138.6 213.8,138.7 214.5,138.8 215.2,138.9 216.0,139.0 216.8,139.2 217.5,139.3 218.2,139.4 219.0,139.5 219.8,139.6 220.5,139.7 221.2,139.8 222.0,139.9 222.8,139.9 223.5,139.9 224.2,139.9 225.0,139.9 225.8,139.9 226.5,139.9 227.2,139.9 228.0,139.9 228.8,139.9" fill="none" stroke="#C44E52" stroke-width="1.25" stroke-opacity="0.95" stroke-linejoin="round"/>
<text x="26.90" y="89.80" font-size="6.5" text-anchor="end" >2</text>
<text x="26.90" y="114.80" font-size="6.5" text-anchor="end" >0</text>
<text x="26.90" y="139.80" font-size="6.5" text-anchor="end" >−2</text>
<text transform="translate(13.9,112) rotate(-90)" font-size="7" text-anchor="middle"><tspan font-style="italic">y</tspan> (m)</text>
<rect x="33.0" y="157" width="204.5" height="61" fill="#EAEAF2"/>
<line x1="48.75" y1="157" x2="48.75" y2="218" stroke="#fff" stroke-width="0.9"/>
<line x1="78.39" y1="157" x2="78.39" y2="218" stroke="#fff" stroke-width="0.9"/>
<line x1="108.03" y1="157" x2="108.03" y2="218" stroke="#fff" stroke-width="0.9"/>
<line x1="137.68" y1="157" x2="137.68" y2="218" stroke="#fff" stroke-width="0.9"/>
<line x1="167.32" y1="157" x2="167.32" y2="218" stroke="#fff" stroke-width="0.9"/>
<line x1="196.96" y1="157" x2="196.96" y2="218" stroke="#fff" stroke-width="0.9"/>
<line x1="226.60" y1="157" x2="226.60" y2="218" stroke="#fff" stroke-width="0.9"/>
<line x1="33.0" y1="158.80" x2="237.5" y2="158.80" stroke="#fff" stroke-width="0.9"/>
<line x1="33.0" y1="185.70" x2="237.5" y2="185.70" stroke="#fff" stroke-width="0.9"/>
<line x1="33.0" y1="212.50" x2="237.5" y2="212.50" stroke="#fff" stroke-width="0.9"/>
<polyline points="41.2,170.6 41.4,170.6 41.5,170.5 41.6,170.3 41.7,171.3 41.8,170.8 42.0,169.6 42.1,168.7 42.2,170.4 42.3,168.6 42.4,170.7 42.6,168.9 42.7,170.3 42.8,171.9 42.9,170.7 43.0,175.2 43.2,175.0 43.3,172.4 43.4,174.2 43.5,173.8 43.6,169.7 43.8,173.7 43.9,174.9 44.0,177.0 44.1,175.6 44.2,177.1 44.4,176.9 44.5,178.6 44.6,177.3 44.7,177.1 44.8,179.6 45.0,177.5 45.1,177.3 45.2,176.2 45.3,180.8 45.4,180.5 45.6,179.2 45.7,179.4 45.8,179.2 45.9,179.3 46.0,179.6 46.2,179.3 46.3,180.6 46.4,182.3 46.5,181.6 46.6,181.0 46.8,180.3 46.9,179.8 47.0,182.0 47.1,180.7 47.2,180.8 47.4,180.5 47.5,180.4 47.6,181.6 47.7,183.6 47.8,181.2 48.0,182.4 48.1,181.4 48.2,182.5 48.3,180.7 48.4,182.3 48.6,180.5 48.7,182.4 48.8,180.0 48.9,182.1 49.0,184.0 49.2,182.1 49.3,182.1 49.4,185.2 49.5,184.9 49.6,183.9 49.8,186.9 49.9,189.6 50.0,186.8 50.1,186.4 50.2,184.9 50.4,186.3 50.5,184.9 50.6,185.2 50.7,188.1 50.8,185.6 51.0,187.9 51.1,188.8 51.2,186.4 51.3,186.3 51.4,187.5 51.6,184.2 51.7,183.4 51.8,182.3 51.9,185.2 52.0,187.7 52.2,187.9 52.3,186.1 52.4,187.8 52.5,187.5 52.6,187.9 52.8,187.3 52.9,188.5 53.0,187.9 53.1,187.4 53.2,188.7 53.4,188.6 53.5,188.8 53.6,189.1 53.7,191.9 53.8,189.6 54.0,189.4 54.1,187.2 54.2,190.6 54.3,185.7 54.4,186.3 54.6,188.6 54.7,187.7 54.8,186.1 54.9,184.3 55.0,185.9 55.2,185.8 55.3,186.9 55.4,189.5 55.5,188.0 55.6,186.2 55.8,185.6 55.9,187.0 56.0,187.1 56.1,185.6 56.2,187.8 56.4,186.3 56.5,190.4 56.6,190.4 56.7,190.5 56.8,188.6 57.0,189.9 57.1,188.6 57.2,188.3 57.3,189.1 57.4,187.3 57.6,186.7 57.7,190.5 57.8,188.5 57.9,188.5 58.0,190.5 58.2,187.5 58.3,187.7 58.4,188.7 58.5,188.4 58.6,186.1 58.8,186.0 58.9,185.7 59.0,184.0 59.1,184.2 59.2,187.0 59.4,186.8 59.5,184.0 59.6,188.7 59.7,189.1 59.8,189.6 60.0,187.7 60.1,187.4 60.2,186.9 60.3,191.6 60.4,188.0 60.6,190.8 60.7,189.5 60.8,189.9 60.9,188.0 61.0,190.7 61.2,192.8 61.3,190.1 61.4,192.3 61.5,190.8 61.6,188.7 61.8,190.8 61.9,191.3 62.0,191.6 62.1,191.2 62.2,191.5 62.4,190.6 62.5,189.0 62.6,189.6 62.7,191.2 62.8,192.8 63.0,189.9 63.1,193.0 63.2,193.0 63.3,192.0 63.4,193.5 63.6,192.0 63.7,194.7 63.8,191.7 63.9,193.6 64.0,194.2 64.2,193.7 64.3,195.8 64.4,195.2 64.5,196.8 64.6,196.2 64.8,195.4 64.9,196.1 65.0,196.5 65.1,198.0 65.2,196.0 65.4,196.8 65.5,196.1 65.6,199.6 65.7,196.7 65.8,194.9 66.0,197.0 66.1,197.3 66.2,194.6 66.3,195.8 66.4,195.0 66.6,193.6 66.7,196.2 66.8,194.1 66.9,192.7 67.0,194.5 67.2,193.4 67.3,194.4 67.4,194.4 67.5,195.4 67.6,194.0 67.8,198.6 67.9,195.9 68.0,196.1 68.1,196.2 68.2,196.9 68.4,196.7 68.5,199.9 68.6,197.4 68.7,197.2 68.8,198.7 69.0,199.3 69.1,201.3 69.2,202.0 69.3,200.6 69.4,200.1 69.6,201.0 69.7,201.9 69.8,196.8 69.9,200.5 70.0,200.2 70.2,202.5 70.3,200.6 70.4,201.6 70.5,199.3 70.6,199.3 70.8,202.2 70.9,201.0 71.0,200.0 71.1,199.5 71.2,198.6 71.4,200.1 71.5,201.1 71.6,201.8 71.7,201.2 71.8,201.3 72.0,203.4 72.1,204.3 72.2,204.2 72.3,205.7 72.4,203.4 72.6,202.2 72.7,203.4 72.8,204.0 72.9,203.8 73.0,205.3 73.2,204.5 73.3,206.9 73.4,205.5 73.5,206.8 73.6,205.3 73.8,204.6 73.9,204.7 74.0,205.8 74.1,205.6 74.2,206.3 74.4,206.9 74.5,205.8 74.6,207.5 74.7,204.8 74.8,206.8 75.0,207.7 75.1,205.6 75.2,207.1 75.3,207.4 75.4,206.3 75.6,206.1 75.7,204.9 75.8,204.5 75.9,205.6 76.0,205.4 76.2,205.4 76.3,204.7 76.4,206.5 76.5,206.8 76.6,206.5 76.8,207.3 76.9,208.6 77.0,206.1 77.1,206.9 77.2,206.4 77.4,206.5 77.5,206.3 77.6,205.9 77.7,207.6 77.8,207.7 78.0,207.6 78.1,206.8 78.2,205.2 78.3,208.5 78.4,209.9 78.6,209.8 78.7,209.8 78.8,208.0 78.9,210.9 79.0,210.5 79.2,207.1 79.3,211.9 79.4,209.1 79.5,209.1 79.6,209.9 79.8,212.9 79.9,209.6 80.0,210.5 80.1,211.3 80.2,210.6 80.4,208.3 80.5,208.5 80.6,207.6 80.7,208.5 80.8,210.2 81.0,209.4 81.1,209.7 81.2,210.5 81.3,207.7 81.4,208.2 81.6,209.8 81.7,207.8 81.8,208.9 81.9,207.2 82.0,205.9 82.2,205.2 82.3,203.9 82.4,202.7 82.5,205.0 82.6,204.5 82.8,205.2 82.9,203.9 83.0,205.1 83.1,205.3 83.2,204.2 83.4,203.1 83.5,205.2 83.6,206.2 83.7,205.3 83.8,204.0 84.0,204.2 84.1,205.3 84.2,201.2 84.3,204.5 84.4,206.1 84.6,207.0 84.7,208.7 84.8,207.5 84.9,205.1 85.0,203.9 85.2,204.8 85.3,202.7 85.4,203.9 85.5,205.2 85.6,207.0 85.8,204.8 85.9,205.1 86.0,206.2 86.1,207.6 86.2,205.8 86.4,206.3 86.5,203.0 86.6,203.9 86.7,203.0 86.8,203.5 87.0,205.0 87.1,202.1 87.2,203.8 87.3,206.0 87.4,203.9 87.6,201.8 87.7,204.8 87.8,202.8 87.9,203.5 88.0,201.7 88.2,203.5 88.3,201.9 88.4,204.2 88.5,201.2 88.6,202.3 88.8,203.0 88.9,201.6 89.0,203.9 89.1,202.6 89.2,201.3 89.4,203.3 89.5,202.4 89.6,204.4 89.7,202.5 89.8,202.0 90.0,202.7 90.1,203.1 90.2,203.1 90.3,200.3 90.4,200.4 90.6,200.8 90.7,198.4 90.8,197.2 90.9,198.6 91.0,198.9 91.2,198.3 91.3,196.5 91.4,195.8 91.5,198.2 91.6,197.3 91.8,197.5 91.9,197.9 92.0,198.5 92.1,197.7 92.2,198.7 92.4,195.3 92.5,196.9 92.6,196.7 92.7,199.4 92.8,197.7 93.0,197.6 93.1,197.8 93.2,197.2 93.3,198.8 93.4,195.4 93.6,194.8 93.7,194.7 93.8,199.0 93.9,196.8 94.0,195.4 94.2,196.2 94.3,198.3 94.4,196.3 94.5,197.0 94.6,200.2 94.8,199.4 94.9,199.5 95.0,197.2 95.1,198.6 95.2,197.3 95.4,195.9 95.5,196.1 95.6,192.4 95.7,196.7 95.8,196.3 96.0,197.6 96.1,198.0 96.2,196.6 96.3,195.1 96.4,198.0 96.6,195.9 96.7,196.5 96.8,196.4 96.9,197.0 97.0,195.3 97.2,199.4 97.3,198.7 97.4,199.8 97.5,201.2 97.6,198.9 97.8,197.2 97.9,199.5 98.0,199.4 98.1,199.2 98.2,200.4 98.4,198.7 98.5,200.6 98.6,199.0 98.7,201.6 98.8,200.8 99.0,200.5 99.1,201.4 99.2,200.3 99.3,200.4 99.4,198.7 99.6,200.8 99.7,203.2 99.8,203.0 99.9,201.2 100.0,200.0 100.2,197.9 100.3,200.6 100.4,199.5 100.5,201.4 100.6,201.3 100.8,202.5 100.9,201.5 101.0,201.5 101.1,199.5 101.2,200.2 101.4,203.7 101.5,200.6 101.6,200.8 101.7,202.0 101.8,202.5 102.0,199.9 102.1,200.7 102.2,202.3 102.3,201.3 102.4,200.8 102.6,202.7 102.7,200.0 102.8,199.7 102.9,198.8 103.0,202.4 103.2,198.7 103.3,200.1 103.4,199.3 103.5,202.1 103.6,201.3 103.8,202.3 103.9,198.7 104.0,201.3 104.1,198.0 104.2,197.2 104.4,198.4 104.5,196.9 104.6,195.7 104.7,197.6 104.8,195.5 105.0,196.1 105.1,197.4 105.2,199.0 105.3,202.7 105.4,200.7 105.6,199.6 105.7,199.9 105.8,197.0 105.9,194.9 106.0,196.6 106.2,195.8 106.3,194.8 106.4,200.1 106.5,199.3 106.6,199.9 106.8,200.3 106.9,199.9 107.0,199.2 107.1,199.7 107.2,199.6 107.4,199.0 107.5,200.1 107.6,197.7 107.7,200.1 107.8,198.3 108.0,198.9 108.1,196.7 108.2,200.4 108.3,198.0 108.4,196.5 108.6,195.9 108.7,197.6 108.8,197.4 108.9,196.5 109.0,197.8 109.2,196.5 109.3,198.2 109.4,196.4 109.5,197.1 109.6,198.4 109.8,199.8 109.9,195.5 110.0,197.0 110.1,196.4 110.2,197.3 110.4,195.6 110.5,196.4 110.6,196.6 110.7,196.4 110.8,197.1 111.0,198.0 111.1,196.2 111.2,198.1 111.3,198.4 111.4,199.1 111.6,199.2 111.7,197.1 111.8,198.0 111.9,199.1 112.0,199.5 112.2,199.2 112.3,198.3 112.4,200.3 112.5,199.7 112.6,199.9 112.8,200.2 112.9,203.1 113.0,202.1 113.1,202.3 113.2,199.7 113.4,200.4 113.5,199.5 113.6,200.0 113.7,203.4 113.8,201.2 114.0,199.9 114.1,199.8 114.2,200.5 114.3,200.9 114.4,198.5 114.6,197.3 114.7,199.9 114.8,200.5 114.9,201.4 115.0,203.6 115.2,202.6 115.3,203.0 115.4,200.5 115.5,202.6 115.6,203.0 115.8,201.1 115.9,200.1 116.0,199.7 116.1,201.9 116.2,198.0 116.4,198.6 116.5,198.4 116.6,198.2 116.7,196.9 116.8,197.8 117.0,198.3 117.1,200.1 117.2,200.0 117.3,199.6 117.4,202.6 117.6,203.0 117.7,201.4 117.8,203.0 117.9,203.5 118.0,200.6 118.2,202.6 118.3,200.1 118.4,201.6 118.5,202.2 118.6,201.7 118.8,198.7 118.9,199.7 119.0,199.5 119.1,199.3 119.2,201.2 119.4,197.6 119.5,200.6 119.6,198.6 119.7,200.3 119.8,198.2 120.0,198.3 120.1,199.8 120.2,200.4 120.3,199.2 120.4,200.1 120.6,198.1 120.7,196.7 120.8,199.2 120.9,199.3 121.0,198.7 121.2,199.0 121.3,200.4 121.4,198.4 121.5,197.6 121.6,198.2 121.8,199.6 121.9,196.2 122.0,198.9 122.1,195.6 122.2,194.8 122.4,197.7 122.5,194.6 122.6,192.5 122.7,193.9 122.8,195.6 123.0,196.6 123.1,193.9 123.2,194.8 123.3,195.4 123.4,193.8 123.6,194.4 123.7,193.5 123.8,192.9 123.9,193.2 124.0,193.2 124.2,192.9 124.3,193.9 124.4,195.6 124.5,197.0 124.6,197.2 124.8,199.0 124.9,200.4 125.0,199.3 125.1,201.9 125.2,199.0 125.4,201.2 125.5,198.5 125.6,201.6 125.7,201.4 125.8,195.9 126.0,198.3 126.1,200.6 126.2,199.8 126.3,200.2 126.4,199.1 126.6,198.1 126.7,198.6 126.8,197.8 126.9,199.1 127.0,196.8 127.2,200.7 127.3,199.6 127.4,202.3 127.5,200.7 127.6,199.4 127.8,200.8 127.9,199.3 128.0,199.2 128.1,199.2 128.2,200.1 128.4,201.9 128.5,201.7 128.6,200.6 128.7,202.3 128.8,201.2 129.0,201.6 129.1,203.1 129.2,203.4 129.3,202.5 129.4,202.7 129.6,202.5 129.7,202.2 129.8,201.1 129.9,202.0 130.0,200.4 130.2,202.3 130.3,201.3 130.4,203.0 130.5,203.7 130.6,202.7 130.8,205.3 130.9,203.0 131.0,204.9 131.1,204.0 131.2,202.3 131.4,201.9 131.5,203.3 131.6,202.4 131.7,201.3 131.8,198.9 132.0,197.1 132.1,198.9 132.2,196.8 132.3,200.5 132.4,200.8 132.6,200.2 132.7,200.7 132.8,200.4 132.9,197.0 133.0,195.8 133.2,197.4 133.3,194.5 133.4,196.6 133.5,199.8 133.6,195.6 133.8,197.5 133.9,195.0 134.0,196.6 134.1,196.0 134.2,197.7 134.4,197.7 134.5,199.4 134.6,198.7 134.7,199.6 134.8,196.5 135.0,198.6 135.1,198.0 135.2,200.2 135.3,198.2 135.4,200.8 135.6,197.4 135.7,199.1 135.8,200.2 135.9,198.7 136.0,198.7 136.2,198.7 136.3,197.2 136.4,198.1 136.5,200.8 136.6,198.5 136.8,195.1 136.9,194.6 137.0,195.9 137.1,197.4 137.2,195.1 137.4,194.8 137.5,196.4 137.6,196.6 137.7,194.9 137.8,194.7 138.0,193.6 138.1,194.5 138.2,192.7 138.3,196.7 138.4,194.6 138.6,196.7 138.7,198.2 138.8,197.6 138.9,194.4 139.0,195.2 139.2,196.1 139.3,194.5 139.4,194.3 139.5,195.4 139.6,195.2 139.8,197.7 139.9,192.7 140.0,193.6 140.1,194.3 140.2,193.6 140.4,194.5 140.5,193.8 140.6,194.1 140.7,197.1 140.8,192.6 141.0,195.2 141.1,193.6 141.2,194.6 141.3,194.3 141.4,193.2 141.6,192.8 141.7,194.7 141.8,192.7 141.9,191.5 142.0,196.0 142.2,195.9 142.3,190.8 142.4,193.6 142.5,196.2 142.6,193.2 142.8,191.9 142.9,191.5 143.0,189.7 143.1,189.4 143.2,189.6 143.4,192.0 143.5,191.1 143.6,193.3 143.7,192.8 143.8,193.7 144.0,192.6 144.1,192.5 144.2,191.9 144.3,190.8 144.4,190.4 144.6,190.4 144.7,190.7 144.8,191.1 144.9,190.6 145.0,191.2 145.2,189.6 145.3,193.0 145.4,192.7 145.5,192.8 145.6,193.7 145.8,193.7 145.9,194.1 146.0,193.6 146.1,196.0 146.2,193.6 146.4,191.3 146.5,193.8 146.6,189.9 146.7,191.3 146.8,192.5 147.0,192.1 147.1,189.2 147.2,191.4 147.3,194.2 147.4,192.1 147.6,191.1 147.7,191.9 147.8,193.5 147.9,191.8 148.0,190.9 148.2,191.2 148.3,192.7 148.4,190.0 148.5,189.8 148.6,189.7 148.8,188.4 148.9,188.8 149.0,190.1 149.1,192.1 149.2,189.5 149.4,190.4 149.5,190.6 149.6,191.2 149.7,192.9 149.8,190.0 150.0,190.4 150.1,189.8 150.2,190.4 150.3,191.7 150.4,190.8 150.6,188.2 150.7,189.1 150.8,189.7 150.9,190.2 151.0,189.2 151.2,190.7 151.3,188.3 151.4,188.9 151.5,193.0 151.6,188.9 151.8,190.6 151.9,191.3 152.0,190.1 152.1,188.2 152.2,188.8 152.4,188.5 152.5,188.6 152.6,187.3 152.7,190.1 152.8,189.2 153.0,189.3 153.1,188.9 153.2,189.1 153.3,188.5 153.4,186.1 153.6,187.7 153.7,188.1 153.8,187.4 153.9,187.8 154.0,186.1 154.2,185.9 154.3,188.0 154.4,185.0 154.5,185.9 154.6,184.7 154.8,186.4 154.9,183.8 155.0,185.7 155.1,188.0 155.2,189.2 155.4,188.1 155.5,188.3 155.6,187.8 155.7,186.8 155.8,187.6 156.0,187.4 156.1,187.6 156.2,189.0 156.3,187.4 156.4,185.6 156.6,185.9 156.7,185.6 156.8,186.6 156.9,189.3 157.0,187.9 157.2,187.3 157.3,189.3 157.4,190.4 157.5,187.6 157.6,187.8 157.8,187.6 157.9,187.0 158.0,186.3 158.1,187.9 158.2,187.5 158.4,187.5 158.5,189.1 158.6,189.5 158.7,187.1 158.8,189.1 159.0,190.2 159.1,189.3 159.2,190.4 159.3,188.2 159.4,188.8 159.6,192.8 159.7,191.2 159.8,190.7 159.9,191.4 160.0,191.3 160.2,189.7 160.3,187.4 160.4,190.7 160.5,191.5 160.6,191.3 160.8,192.1 160.9,193.0 161.0,190.6 161.1,191.4 161.2,195.9 161.4,193.5 161.5,191.5 161.6,193.2 161.7,191.8 161.8,189.8 162.0,191.8 162.1,191.3 162.2,191.1 162.3,193.1 162.4,193.7 162.6,192.3 162.7,193.0 162.8,192.7 162.9,197.4 163.0,193.4 163.2,197.0 163.3,195.8 163.4,195.8 163.5,195.1 163.6,195.5 163.8,195.9 163.9,195.3 164.0,194.1 164.1,195.0 164.2,196.2 164.4,195.6 164.5,195.6 164.6,194.5 164.7,194.8 164.8,194.9 165.0,193.7 165.1,192.2 165.2,192.3 165.3,191.3 165.4,195.9 165.6,192.8 165.7,195.5 165.8,195.8 165.9,197.3 166.0,194.9 166.2,193.2 166.3,192.3 166.4,191.9 166.5,190.8 166.6,190.4 166.8,189.5 166.9,191.9 167.0,187.5 167.1,189.7 167.2,187.6 167.4,189.6 167.5,190.3 167.6,189.7 167.7,190.8 167.8,187.4 168.0,189.7 168.1,187.6 168.2,187.9 168.3,186.8 168.4,182.4 168.6,184.3 168.7,184.5 168.8,186.6 168.9,184.9 169.0,184.4 169.2,182.3 169.3,184.7 169.4,183.7 169.5,182.5 169.6,181.4 169.8,178.7 169.9,182.8 170.0,184.7 170.1,182.0 170.2,182.8 170.4,182.5 170.5,180.8 170.6,184.6 170.7,180.2 170.8,182.5 171.0,181.4 171.1,181.5 171.2,179.7 171.3,179.8 171.4,178.7 171.6,177.5 171.7,178.3 171.8,177.6 171.9,175.7 172.0,175.7 172.2,177.0 172.3,175.3 172.4,175.9 172.5,175.3 172.6,176.7 172.8,177.1 172.9,179.6 173.0,176.0 173.1,176.8 173.2,179.0 173.4,177.1 173.5,177.7 173.6,179.3 173.7,177.1 173.8,174.9 174.0,175.2 174.1,177.0 174.2,177.7 174.3,176.9 174.4,178.3 174.6,179.2 174.7,179.8 174.8,177.2 174.9,178.0 175.0,177.2 175.2,174.1 175.3,175.4 175.4,177.6 175.5,176.3 175.6,173.7 175.8,176.0 175.9,177.8 176.0,177.8 176.1,172.7 176.2,177.3 176.4,172.9 176.5,174.5 176.6,173.8 176.7,173.3 176.8,172.9 177.0,171.2 177.1,174.0 177.2,172.4 177.3,170.2 177.4,175.3 177.6,172.0 177.7,172.7 177.8,169.9 177.9,174.2 178.0,174.7 178.2,174.5 178.3,172.4 178.4,170.7 178.5,170.9 178.6,168.4 178.8,168.3 178.9,170.5 179.0,169.5 179.1,170.5 179.2,170.0 179.4,172.1 179.5,169.8 179.6,168.1 179.7,169.5 179.8,166.6 180.0,168.0 180.1,169.3 180.2,164.8 180.3,165.0 180.4,163.9 180.6,165.8 180.7,167.1 180.8,164.9 180.9,167.2 181.0,167.1 181.2,165.8 181.3,166.0 181.4,169.4 181.5,169.9 181.6,167.3 181.8,167.3 181.9,168.8 182.0,167.5 182.1,169.6 182.2,170.1 182.4,170.3 182.5,169.9 182.6,169.1 182.7,170.2 182.8,168.2 183.0,169.9 183.1,170.1 183.2,171.1 183.3,170.0 183.4,170.5 183.6,171.6 183.7,168.9 183.8,170.6 183.9,171.0 184.0,174.0 184.2,175.4 184.3,174.6 184.4,172.1 184.5,173.1 184.6,169.5 184.8,173.1 184.9,170.2 185.0,168.7 185.1,175.4 185.2,173.9 185.4,172.1 185.5,172.1 185.6,171.8 185.7,173.7 185.8,172.5 186.0,173.4 186.1,176.9 186.2,177.3 186.3,177.0 186.4,176.2 186.6,179.7 186.7,176.4 186.8,177.5 186.9,175.5 187.0,176.8 187.2,180.5 187.3,177.6 187.4,179.5 187.5,178.3 187.6,177.5 187.8,178.8 187.9,179.4 188.0,179.6 188.1,181.0 188.2,181.6 188.4,180.4 188.5,180.1 188.6,181.3 188.7,181.4 188.8,182.6 189.0,184.7 189.1,182.4 189.2,182.3 189.3,180.6 189.4,179.9 189.6,179.9 189.7,179.7 189.8,179.1 189.9,180.3 190.0,181.7 190.2,181.6 190.3,182.9 190.4,182.6 190.5,185.4 190.6,184.9 190.8,186.2 190.9,185.7 191.0,186.6 191.1,185.0 191.2,187.1 191.4,189.5 191.5,184.6 191.6,187.0 191.7,187.9 191.8,185.8 192.0,186.8 192.1,188.2 192.2,186.5 192.3,187.9 192.4,186.9 192.6,186.9 192.7,188.4 192.8,189.0 192.9,190.7 193.0,191.5 193.2,189.8 193.3,192.5 193.4,190.1 193.5,188.0 193.6,186.1 193.8,187.6 193.9,188.4 194.0,190.5 194.1,187.2 194.2,190.2 194.4,191.2 194.5,186.1 194.6,188.4 194.7,189.2 194.8,188.7 195.0,191.2 195.1,188.7 195.2,191.0 195.3,192.9 195.4,191.0 195.6,192.0 195.7,192.8 195.8,192.0 195.9,193.4 196.0,190.4 196.2,192.4 196.3,190.4 196.4,193.4 196.5,192.9 196.6,189.4 196.8,192.3 196.9,190.4 197.0,191.7 197.1,194.3 197.2,190.5 197.4,189.6 197.5,192.0 197.6,189.7 197.7,191.6 197.8,190.0 198.0,189.0 198.1,190.8 198.2,191.5 198.3,191.3 198.4,190.0 198.6,190.5 198.7,189.6 198.8,189.6 198.9,192.6 199.0,189.9 199.2,187.0 199.3,187.3 199.4,189.1 199.5,189.0 199.6,188.3 199.8,189.0 199.9,190.6 200.0,188.5 200.1,188.8 200.2,191.1 200.4,189.0 200.5,190.0 200.6,190.7 200.7,190.7 200.8,190.1 201.0,191.6 201.1,188.0 201.2,186.5 201.3,188.1 201.4,189.0 201.6,187.9 201.7,189.4 201.8,189.7 201.9,187.7 202.0,189.0 202.2,189.2 202.3,188.4 202.4,185.7 202.5,187.5 202.6,188.8 202.8,188.8 202.9,187.7 203.0,190.2 203.1,187.2 203.2,188.7 203.4,190.2 203.5,187.2 203.6,187.2 203.7,190.2 203.8,188.9 204.0,189.4 204.1,190.0 204.2,190.5 204.3,185.3 204.4,186.1 204.6,186.2 204.7,186.1 204.8,187.6 204.9,187.9 205.0,189.8 205.2,188.1 205.3,189.7 205.4,190.0 205.5,188.6 205.6,188.8 205.8,190.8 205.9,190.1 206.0,188.5 206.1,188.4 206.2,187.0 206.4,187.9 206.5,187.5 206.6,185.5 206.7,185.9 206.8,188.7 207.0,188.7 207.1,188.9 207.2,188.1 207.3,188.5 207.4,188.1 207.6,189.5 207.7,187.3 207.8,187.2 207.9,187.6 208.0,187.5 208.2,188.6 208.3,188.7 208.4,190.3 208.5,187.6 208.6,190.5 208.8,188.8 208.9,188.5 209.0,185.2 209.1,186.6 209.2,185.4 209.4,185.0 209.5,182.8 209.6,185.7 209.7,184.3 209.8,184.8 210.0,184.9 210.1,184.4 210.2,187.0 210.3,184.1 210.4,183.2 210.6,184.3 210.7,184.7 210.8,183.6 210.9,183.6 211.0,184.5 211.2,184.9 211.3,186.0 211.4,182.1 211.5,184.1 211.6,182.7 211.8,181.3 211.9,183.1 212.0,180.5 212.1,180.3 212.2,181.1 212.4,181.5 212.5,181.3 212.6,182.0 212.7,182.8 212.8,180.2 213.0,184.3 213.1,181.9 213.2,182.7 213.3,183.0 213.4,182.0 213.6,181.4 213.7,182.0 213.8,181.1 213.9,181.4 214.0,181.7 214.2,179.1 214.3,179.7 214.4,179.4 214.5,182.2 214.6,179.7 214.8,183.2 214.9,182.3 215.0,183.2 215.1,184.8 215.2,185.7 215.4,185.1 215.5,186.3 215.6,184.8 215.7,187.1 215.8,187.5 216.0,186.4 216.1,187.6 216.2,187.0 216.3,186.6 216.4,186.5 216.6,187.4 216.7,189.1 216.8,185.1 216.9,187.6 217.0,186.8 217.2,187.7 217.3,185.6 217.4,189.1 217.5,189.5 217.6,187.6 217.8,187.8 217.9,184.8 218.0,188.8 218.1,189.1 218.2,191.6 218.4,188.0 218.5,189.8 218.6,188.1 218.7,189.4 218.8,187.4 219.0,189.4 219.1,192.6 219.2,189.6 219.3,189.4 219.4,190.0 219.6,189.0 219.7,191.7 219.8,191.9 219.9,189.7 220.0,189.8 220.2,192.0 220.3,192.0 220.4,191.7 220.5,191.8 220.6,187.7 220.8,188.9 220.9,187.5 221.0,187.1 221.1,189.2 221.2,187.4 221.4,191.2 221.5,187.6 221.6,187.3 221.7,189.3 221.8,190.5 222.0,188.6 222.1,186.3 222.2,187.2 222.3,187.4 222.4,185.0 222.6,183.9 222.7,185.6 222.8,185.8 222.9,185.3 223.0,185.2 223.2,185.9 223.3,187.6 223.4,187.0 223.5,188.2 223.6,188.4 223.8,184.6 223.9,187.3 224.0,187.5 224.1,186.1 224.2,186.2 224.4,184.2 224.5,183.1 224.6,185.8 224.7,184.5 224.8,182.4 225.0,186.4 225.1,184.6 225.2,184.7 225.3,181.6 225.4,181.8 225.6,182.3 225.7,182.5 225.8,183.3 225.9,181.4 226.0,185.1 226.2,182.8 226.3,182.5 226.4,183.9 226.5,182.3 226.6,179.7 226.8,183.6 226.9,180.4 227.0,182.7 227.1,183.6 227.2,185.0 227.4,183.5 227.5,185.4 227.6,183.0 227.7,183.8 227.8,182.5 228.0,183.1 228.1,185.6 228.2,182.5 228.3,182.3 228.4,184.7" fill="none" stroke="#8c8c8c" stroke-width="0.7" stroke-opacity="0.8" stroke-linejoin="round"/>
<polyline points="41.2,169.6 41.4,173.3 41.5,175.1 41.6,165.2 41.7,168.4 41.8,169.6 42.0,172.5 42.1,171.7 42.2,174.1 42.3,176.7 42.4,176.1 42.6,174.9 42.7,174.7 42.8,175.2 42.9,174.5 43.0,175.9 43.2,176.7 43.3,175.7 43.4,173.6 43.5,180.3 43.6,185.3 43.8,180.6 43.9,178.6 44.0,182.1 44.1,177.6 44.2,169.9 44.4,176.7 44.5,179.0 44.6,179.5 44.7,181.3 44.8,179.1 45.0,178.4 45.1,174.0 45.2,176.3 45.3,180.2 45.4,184.0 45.6,177.9 45.7,178.1 45.8,180.3 45.9,174.5 46.0,173.9 46.2,179.9 46.3,181.8 46.4,180.3 46.5,178.1 46.6,181.4 46.8,177.6 46.9,183.9 47.0,183.8 47.1,185.4 47.2,186.5 47.4,184.6 47.5,186.6 47.6,185.6 47.7,183.7 47.8,182.9 48.0,178.4 48.1,182.8 48.2,182.6 48.3,181.2 48.4,185.5 48.6,185.0 48.7,184.9 48.8,187.7 48.9,189.9 49.0,185.4 49.2,186.9 49.3,183.1 49.4,186.1 49.5,187.9 49.6,186.3 49.8,184.3 49.9,180.7 50.0,181.6 50.1,183.2 50.2,180.6 50.4,182.5 50.5,187.8 50.6,184.2 50.7,192.5 50.8,185.6 51.0,191.2 51.1,187.9 51.2,191.3 51.3,187.8 51.4,187.4 51.6,188.1 51.7,185.4 51.8,189.0 51.9,190.2 52.0,188.7 52.2,191.8 52.3,191.5 52.4,189.9 52.5,193.7 52.6,184.2 52.8,187.3 52.9,185.1 53.0,188.3 53.1,189.0 53.2,196.6 53.4,189.1 53.5,191.6 53.6,191.3 53.7,184.5 53.8,187.3 54.0,192.2 54.1,191.1 54.2,192.1 54.3,193.3 54.4,188.4 54.6,190.0 54.7,194.3 54.8,193.0 54.9,189.7 55.0,189.7 55.2,189.4 55.3,186.1 55.4,190.4 55.5,190.0 55.6,188.5 55.8,184.7 55.9,188.1 56.0,192.8 56.1,189.4 56.2,195.4 56.4,194.0 56.5,192.3 56.6,193.6 56.7,189.1 56.8,189.1 57.0,188.9 57.1,192.9 57.2,200.5 57.3,188.2 57.4,192.7 57.6,190.9 57.7,189.7 57.8,184.4 57.9,181.5 58.0,188.9 58.2,182.2 58.3,185.4 58.4,182.8 58.5,181.8 58.6,181.8 58.8,185.1 58.9,184.7 59.0,181.9 59.1,185.0 59.2,185.5 59.4,185.1 59.5,186.0 59.6,188.0 59.7,188.1 59.8,188.3 60.0,191.1 60.1,191.4 60.2,191.8 60.3,195.0 60.4,190.5 60.6,192.6 60.7,192.6 60.8,193.7 60.9,187.3 61.0,197.1 61.2,192.9 61.3,188.3 61.4,192.9 61.5,198.5 61.6,194.9 61.8,189.0 61.9,190.8 62.0,191.1 62.1,184.4 62.2,185.5 62.4,185.7 62.5,193.0 62.6,191.1 62.7,196.0 62.8,194.7 63.0,192.1 63.1,197.0 63.2,195.5 63.3,190.6 63.4,194.2 63.6,196.6 63.7,195.5 63.8,198.1 63.9,198.8 64.0,198.6 64.2,200.1 64.3,202.1 64.4,203.5 64.5,199.7 64.6,202.1 64.8,197.9 64.9,198.9 65.0,196.4 65.1,195.0 65.2,197.1 65.4,199.1 65.5,198.1 65.6,192.8 65.7,197.4 65.8,192.5 66.0,193.7 66.1,192.5 66.2,194.2 66.3,198.4 66.4,198.2 66.6,193.9 66.7,197.5 66.8,197.8 66.9,200.2 67.0,205.2 67.2,198.4 67.3,199.1 67.4,198.1 67.5,196.8 67.6,197.9 67.8,198.3 67.9,195.6 68.0,197.8 68.1,202.3 68.2,201.7 68.4,204.0 68.5,202.6 68.6,202.7 68.7,206.2 68.8,201.0 69.0,199.3 69.1,199.0 69.2,198.8 69.3,196.0 69.4,201.1 69.6,201.3 69.7,197.6 69.8,200.3 69.9,200.5 70.0,201.7 70.2,202.5 70.3,197.2 70.4,194.9 70.5,197.3 70.6,195.7 70.8,196.6 70.9,196.5 71.0,197.8 71.1,192.6 71.2,198.3 71.4,192.3 71.5,197.9 71.6,202.3 71.7,194.3 71.8,195.2 72.0,196.7 72.1,196.6 72.2,197.2 72.3,195.9 72.4,198.5 72.6,202.1 72.7,201.4 72.8,198.6 72.9,195.6 73.0,204.8 73.2,200.6 73.3,201.7 73.4,197.0 73.5,199.6 73.6,202.4 73.8,200.5 73.9,207.4 74.0,206.6 74.1,208.7 74.2,205.7 74.4,205.1 74.5,203.4 74.6,203.8 74.7,202.5 74.8,200.7 75.0,203.9 75.1,204.5 75.2,207.1 75.3,203.8 75.4,203.3 75.6,206.9 75.7,210.9 75.8,204.5 75.9,205.8 76.0,204.6 76.2,208.0 76.3,207.7 76.4,206.7 76.5,207.3 76.6,211.8 76.8,212.9 76.9,213.1 77.0,212.1 77.1,207.9 77.2,209.2 77.4,211.2 77.5,206.7 77.6,210.8 77.7,207.8 77.8,209.0 78.0,206.8 78.1,203.8 78.2,205.9 78.3,200.5 78.4,203.1 78.6,203.8 78.7,203.8 78.8,209.1 78.9,206.9 79.0,207.3 79.2,204.2 79.3,207.8 79.4,206.3 79.5,206.9 79.6,208.1 79.8,209.7 79.9,212.8 80.0,209.4 80.1,209.1 80.2,209.9 80.4,216.2 80.5,214.1 80.6,211.3 80.7,210.5 80.8,205.3 81.0,205.7 81.1,207.5 81.2,208.0 81.3,206.5 81.4,206.6 81.6,210.3 81.7,210.7 81.8,204.5 81.9,209.9 82.0,211.5 82.2,206.7 82.3,207.5 82.4,201.8 82.5,204.2 82.6,199.2 82.8,199.0 82.9,202.3 83.0,207.9 83.1,204.6 83.2,204.9 83.4,208.1 83.5,204.9 83.6,208.8 83.7,202.2 83.8,199.7 84.0,202.3 84.1,205.2 84.2,203.2 84.3,204.5 84.4,201.0 84.6,202.5 84.7,204.8 84.8,207.3 84.9,205.2 85.0,202.5 85.2,200.0 85.3,205.0 85.4,206.7 85.5,211.8 85.6,206.5 85.8,211.6 85.9,204.1 86.0,203.7 86.1,203.4 86.2,204.5 86.4,204.5 86.5,202.7 86.6,202.4 86.7,201.9 86.8,202.8 87.0,201.8 87.1,203.6 87.2,207.0 87.3,206.1 87.4,206.3 87.6,205.2 87.7,204.1 87.8,207.2 87.9,203.9 88.0,207.4 88.2,207.5 88.3,205.1 88.4,202.3 88.5,201.0 88.6,204.4 88.8,206.5 88.9,210.7 89.0,205.4 89.1,203.9 89.2,208.7 89.4,202.2 89.5,205.1 89.6,204.7 89.7,199.8 89.8,199.3 90.0,196.2 90.1,193.7 90.2,191.3 90.3,191.6 90.4,198.9 90.6,198.9 90.7,200.9 90.8,198.3 90.9,197.5 91.0,196.0 91.2,195.1 91.3,196.4 91.4,201.6 91.5,202.0 91.6,199.9 91.8,197.8 91.9,199.3 92.0,201.3 92.1,194.9 92.2,200.2 92.4,201.4 92.5,197.1 92.6,199.6 92.7,189.5 92.8,195.8 93.0,193.6 93.1,189.3 93.2,195.4 93.3,197.5 93.4,196.0 93.6,196.3 93.7,191.9 93.8,191.7 93.9,191.8 94.0,194.9 94.2,195.4 94.3,194.6 94.4,196.2 94.5,200.1 94.6,196.5 94.8,200.5 94.9,197.9 95.0,190.0 95.1,190.9 95.2,189.5 95.4,190.3 95.5,195.9 95.6,195.3 95.7,193.8 95.8,199.0 96.0,202.2 96.1,199.4 96.2,197.4 96.3,201.8 96.4,199.8 96.6,198.7 96.7,199.2 96.8,193.2 96.9,194.9 97.0,192.9 97.2,196.3 97.3,196.5 97.4,195.8 97.5,202.7 97.6,197.8 97.8,203.9 97.9,202.8 98.0,200.7 98.1,199.7 98.2,201.2 98.4,200.5 98.5,199.5 98.6,202.2 98.7,196.1 98.8,198.5 99.0,200.6 99.1,195.9 99.2,199.1 99.3,196.8 99.4,197.3 99.6,199.7 99.7,199.1 99.8,200.4 99.9,195.4 100.0,200.1 100.2,199.4 100.3,200.0 100.4,198.3 100.5,197.0 100.6,194.3 100.8,199.5 100.9,202.8 101.0,202.1 101.1,200.6 101.2,199.2 101.4,203.3 101.5,201.6 101.6,198.6 101.7,203.0 101.8,203.6 102.0,201.9 102.1,204.5 102.2,203.1 102.3,196.6 102.4,197.6 102.6,200.1 102.7,200.7 102.8,203.6 102.9,197.1 103.0,201.0 103.2,202.3 103.3,204.0 103.4,206.0 103.5,199.2 103.6,201.0 103.8,201.1 103.9,204.8 104.0,197.9 104.1,203.2 104.2,201.0 104.4,201.1 104.5,193.3 104.6,198.4 104.7,200.7 104.8,196.6 105.0,198.4 105.1,196.9 105.2,195.4 105.3,194.8 105.4,196.2 105.6,193.2 105.7,196.6 105.8,200.0 105.9,198.6 106.0,196.1 106.2,200.4 106.3,192.8 106.4,197.7 106.5,197.0 106.6,200.2 106.8,195.3 106.9,197.6 107.0,196.8 107.1,191.0 107.2,191.8 107.4,194.1 107.5,193.3 107.6,190.2 107.7,191.3 107.8,192.1 108.0,191.3 108.1,194.9 108.2,193.7 108.3,200.2 108.4,199.0 108.6,201.1 108.7,195.3 108.8,193.2 108.9,198.8 109.0,194.8 109.2,200.2 109.3,198.7 109.4,199.8 109.5,199.1 109.6,198.4 109.8,200.3 109.9,196.2 110.0,190.8 110.1,197.8 110.2,192.1 110.4,199.0 110.5,196.5 110.6,199.3 110.7,205.6 110.8,199.8 111.0,197.5 111.1,198.1 111.2,195.6 111.3,199.6 111.4,194.3 111.6,194.3 111.7,197.6 111.8,193.4 111.9,197.0 112.0,201.6 112.2,199.6 112.3,198.3 112.4,203.1 112.5,203.2 112.6,205.8 112.8,208.5 112.9,208.0 113.0,204.5 113.1,202.1 113.2,201.9 113.4,205.7 113.5,199.7 113.6,205.5 113.7,201.7 113.8,199.7 114.0,200.4 114.1,202.9 114.2,194.9 114.3,195.9 114.4,197.7 114.6,200.0 114.7,196.1 114.8,200.6 114.9,197.3 115.0,198.7 115.2,197.7 115.3,198.5 115.4,198.4 115.5,204.7 115.6,203.4 115.8,203.9 115.9,208.4 116.0,208.4 116.1,210.7 116.2,207.9 116.4,205.4 116.5,208.4 116.6,200.7 116.7,202.3 116.8,198.5 117.0,201.5 117.1,203.5 117.2,203.9 117.3,201.0 117.4,200.6 117.6,200.7 117.7,198.7 117.8,198.4 117.9,202.8 118.0,202.4 118.2,196.4 118.3,198.5 118.4,199.8 118.5,199.1 118.6,199.0 118.8,202.1 118.9,200.7 119.0,206.3 119.1,209.3 119.2,203.1 119.4,207.8 119.5,205.4 119.6,203.8 119.7,201.7 119.8,205.0 120.0,204.1 120.1,205.6 120.2,207.4 120.3,204.8 120.4,202.1 120.6,200.1 120.7,198.6 120.8,197.0 120.9,196.9 121.0,199.5 121.2,196.5 121.3,192.4 121.4,199.7 121.5,200.7 121.6,195.2 121.8,197.2 121.9,200.3 122.0,200.3 122.1,198.2 122.2,197.7 122.4,195.9 122.5,195.8 122.6,196.0 122.7,193.1 122.8,198.0 123.0,196.0 123.1,195.0 123.2,192.4 123.3,194.8 123.4,193.2 123.6,197.9 123.7,192.8 123.8,193.2 123.9,198.4 124.0,195.8 124.2,198.3 124.3,192.7 124.4,201.5 124.5,199.7 124.6,196.3 124.8,194.4 124.9,197.0 125.0,198.1 125.1,195.3 125.2,193.8 125.4,195.9 125.5,199.6 125.6,199.5 125.7,195.3 125.8,197.6 126.0,198.5 126.1,200.0 126.2,194.6 126.3,195.9 126.4,199.7 126.6,196.1 126.7,197.0 126.8,196.7 126.9,193.1 127.0,194.1 127.2,194.0 127.3,196.5 127.4,199.0 127.5,196.4 127.6,196.0 127.8,205.0 127.9,200.1 128.0,203.3 128.1,200.1 128.2,198.8 128.4,199.3 128.5,199.1 128.6,193.2 128.7,199.7 128.8,195.2 129.0,197.6 129.1,203.2 129.2,199.0 129.3,202.3 129.4,199.0 129.6,201.9 129.7,202.2 129.8,203.7 129.9,201.8 130.0,200.3 130.2,205.5 130.3,201.2 130.4,204.7 130.5,207.8 130.6,207.0 130.8,207.6 130.9,206.9 131.0,205.5 131.1,203.8 131.2,202.3 131.4,199.6 131.5,204.9 131.6,201.1 131.7,200.4 131.8,204.2 132.0,205.2 132.1,204.7 132.2,200.9 132.3,203.9 132.4,201.3 132.6,201.3 132.7,199.2 132.8,202.0 132.9,199.9 133.0,203.2 133.2,198.4 133.3,196.7 133.4,201.0 133.5,199.3 133.6,201.3 133.8,199.5 133.9,202.9 134.0,200.9 134.1,201.6 134.2,201.6 134.4,200.5 134.5,199.7 134.6,198.5 134.7,197.5 134.8,194.1 135.0,189.8 135.1,192.4 135.2,195.3 135.3,195.1 135.4,193.3 135.6,191.7 135.7,192.7 135.8,191.2 135.9,195.4 136.0,199.2 136.2,200.2 136.3,200.4 136.4,201.5 136.5,200.7 136.6,202.2 136.8,200.3 136.9,201.1 137.0,195.8 137.1,197.4 137.2,201.5 137.4,202.7 137.5,196.5 137.6,203.2 137.7,196.8 137.8,202.2 138.0,199.2 138.1,200.7 138.2,194.7 138.3,194.2 138.4,195.9 138.6,195.0 138.7,193.3 138.8,196.8 138.9,193.3 139.0,191.0 139.2,188.9 139.3,184.5 139.4,190.7 139.5,188.8 139.6,192.8 139.8,196.5 139.9,195.8 140.0,193.8 140.1,196.4 140.2,198.9 140.4,193.3 140.5,194.4 140.6,192.5 140.7,189.2 140.8,189.5 141.0,190.0 141.1,192.9 141.2,192.4 141.3,196.2 141.4,194.1 141.6,199.0 141.7,201.0 141.8,195.2 141.9,199.0 142.0,196.0 142.2,199.7 142.3,194.5 142.4,192.9 142.5,195.1 142.6,194.1 142.8,195.9 142.9,197.7 143.0,194.5 143.1,195.0 143.2,189.6 143.4,193.2 143.5,189.9 143.6,196.2 143.7,195.5 143.8,199.0 144.0,196.4 144.1,203.4 144.2,193.6 144.3,193.6 144.4,190.6 144.6,196.0 144.7,193.8 144.8,196.7 144.9,194.5 145.0,198.0 145.2,194.4 145.3,194.8 145.4,191.7 145.5,189.9 145.6,191.2 145.8,189.5 145.9,192.2 146.0,195.8 146.1,192.0 146.2,197.1 146.4,195.5 146.5,193.3 146.6,194.5 146.7,195.3 146.8,192.2 147.0,191.5 147.1,195.4 147.2,194.0 147.3,192.7 147.4,191.5 147.6,192.4 147.7,192.3 147.8,197.0 147.9,194.9 148.0,193.0 148.2,196.2 148.3,192.3 148.4,192.3 148.5,191.9 148.6,197.3 148.8,189.2 148.9,192.1 149.0,191.0 149.1,191.9 149.2,194.8 149.4,192.7 149.5,192.3 149.6,190.5 149.7,192.8 149.8,193.8 150.0,193.5 150.1,194.5 150.2,192.7 150.3,197.3 150.4,195.1 150.6,193.8 150.7,194.6 150.8,188.2 150.9,195.6 151.0,196.6 151.2,191.7 151.3,188.1 151.4,191.3 151.5,184.9 151.6,190.2 151.8,186.9 151.9,185.3 152.0,188.1 152.1,187.4 152.2,189.1 152.4,191.0 152.5,187.8 152.6,190.6 152.7,187.6 152.8,189.5 153.0,188.5 153.1,186.9 153.2,185.8 153.3,183.2 153.4,185.6 153.6,186.2 153.7,190.6 153.8,190.9 153.9,185.2 154.0,189.5 154.2,187.3 154.3,185.4 154.4,186.2 154.5,186.9 154.6,183.8 154.8,184.6 154.9,185.1 155.0,180.9 155.1,186.9 155.2,186.9 155.4,186.9 155.5,187.8 155.6,190.5 155.7,189.7 155.8,188.8 156.0,185.7 156.1,189.6 156.2,189.1 156.3,192.7 156.4,193.5 156.6,188.2 156.7,189.4 156.8,188.2 156.9,185.6 157.0,192.4 157.2,189.9 157.3,184.9 157.4,189.5 157.5,187.7 157.6,189.7 157.8,188.3 157.9,185.3 158.0,187.1 158.1,188.9 158.2,187.9 158.4,187.9 158.5,190.9 158.6,191.8 158.7,188.2 158.8,190.1 159.0,190.5 159.1,189.6 159.2,194.9 159.3,192.1 159.4,194.4 159.6,194.3 159.7,195.9 159.8,192.6 159.9,192.2 160.0,191.1 160.2,186.7 160.3,192.5 160.4,189.6 160.5,189.8 160.6,191.8 160.8,193.0 160.9,192.9 161.0,192.5 161.1,190.3 161.2,188.9 161.4,188.2 161.5,189.9 161.6,193.4 161.7,191.3 161.8,189.9 162.0,192.6 162.1,195.3 162.2,196.2 162.3,193.9 162.4,191.3 162.6,197.4 162.7,201.5 162.8,198.5 162.9,192.9 163.0,196.2 163.2,192.0 163.3,199.3 163.4,196.6 163.5,194.4 163.6,199.3 163.8,195.7 163.9,197.2 164.0,196.2 164.1,195.0 164.2,198.5 164.4,194.5 164.5,200.3 164.6,196.6 164.7,193.7 164.8,191.8 165.0,198.2 165.1,198.0 165.2,191.4 165.3,197.4 165.4,194.3 165.6,193.9 165.7,195.7 165.8,197.3 165.9,201.3 166.0,197.4 166.2,193.3 166.3,199.7 166.4,197.1 166.5,192.4 166.6,194.0 166.8,192.2 166.9,191.8 167.0,191.5 167.1,192.1 167.2,189.1 167.4,185.6 167.5,188.7 167.6,186.6 167.7,190.8 167.8,185.4 168.0,187.7 168.1,185.3 168.2,184.2 168.3,187.7 168.4,184.6 168.6,182.5 168.7,184.5 168.8,189.3 168.9,183.4 169.0,189.8 169.2,190.0 169.3,186.4 169.4,187.6 169.5,189.4 169.6,185.7 169.8,184.3 169.9,188.0 170.0,188.0 170.1,185.1 170.2,187.9 170.4,185.8 170.5,185.8 170.6,184.2 170.7,187.5 170.8,187.3 171.0,187.2 171.1,189.5 171.2,186.7 171.3,186.0 171.4,183.3 171.6,181.3 171.7,180.3 171.8,178.7 171.9,180.8 172.0,185.2 172.2,177.3 172.3,178.2 172.4,175.6 172.5,177.5 172.6,174.2 172.8,179.9 172.9,177.9 173.0,173.7 173.1,175.0 173.2,174.6 173.4,171.4 173.5,169.6 173.6,170.0 173.7,174.1 173.8,175.8 174.0,176.4 174.1,175.8 174.2,171.3 174.3,176.4 174.4,171.7 174.6,171.6 174.7,174.2 174.8,171.4 174.9,177.6 175.0,177.0 175.2,175.0 175.3,173.6 175.4,174.2 175.5,169.8 175.6,177.6 175.8,176.0 175.9,175.0 176.0,176.4 176.1,180.8 176.2,183.5 176.4,178.1 176.5,183.2 176.6,177.9 176.7,182.0 176.8,180.5 177.0,184.0 177.1,176.2 177.2,174.1 177.3,174.1 177.4,176.8 177.6,171.1 177.7,177.0 177.8,174.3 177.9,172.3 178.0,171.2 178.2,175.7 178.3,174.2 178.4,172.8 178.5,172.5 178.6,174.8 178.8,171.1 178.9,173.2 179.0,169.4 179.1,171.0 179.2,170.3 179.4,169.7 179.5,169.3 179.6,167.4 179.7,169.8 179.8,170.3 180.0,173.1 180.1,170.6 180.2,170.3 180.3,172.9 180.4,175.0 180.6,172.5 180.7,174.1 180.8,172.9 180.9,173.3 181.0,170.5 181.2,172.3 181.3,170.5 181.4,174.0 181.5,169.7 181.6,172.5 181.8,172.8 181.9,169.4 182.0,174.7 182.1,173.7 182.2,168.7 182.4,175.4 182.5,170.4 182.6,171.5 182.7,174.4 182.8,176.3 183.0,177.4 183.1,176.0 183.2,176.9 183.3,175.2 183.4,178.3 183.6,181.2 183.7,175.5 183.8,170.2 183.9,175.5 184.0,173.5 184.2,174.1 184.3,174.8 184.4,172.5 184.5,170.4 184.6,174.8 184.8,175.9 184.9,165.8 185.0,174.8 185.1,175.0 185.2,174.1 185.4,175.6 185.5,175.4 185.6,177.7 185.7,179.7 185.8,180.3 186.0,179.0 186.1,178.4 186.2,176.8 186.3,181.6 186.4,180.5 186.6,175.9 186.7,173.4 186.8,174.6 186.9,174.2 187.0,180.9 187.2,181.9 187.3,178.6 187.4,179.7 187.5,188.9 187.6,187.7 187.8,181.9 187.9,186.4 188.0,185.2 188.1,181.9 188.2,183.8 188.4,189.5 188.5,185.1 188.6,182.9 188.7,181.6 188.8,183.5 189.0,186.5 189.1,183.4 189.2,180.9 189.3,190.1 189.4,186.9 189.6,188.2 189.7,186.3 189.8,191.6 189.9,185.9 190.0,189.7 190.2,193.1 190.3,191.9 190.4,190.3 190.5,194.4 190.6,192.5 190.8,192.0 190.9,195.8 191.0,197.1 191.1,193.8 191.2,187.3 191.4,190.8 191.5,189.3 191.6,187.6 191.7,185.3 191.8,194.0 192.0,195.1 192.1,193.0 192.2,187.7 192.3,188.4 192.4,194.8 192.6,194.1 192.7,192.3 192.8,190.8 192.9,190.3 193.0,191.1 193.2,191.3 193.3,191.7 193.4,192.0 193.5,190.8 193.6,192.8 193.8,192.3 193.9,187.2 194.0,193.0 194.1,186.3 194.2,189.7 194.4,191.1 194.5,193.7 194.6,186.1 194.7,191.5 194.8,193.1 195.0,190.9 195.1,181.0 195.2,184.3 195.3,187.5 195.4,185.5 195.6,191.6 195.7,189.4 195.8,190.4 195.9,189.3 196.0,186.7 196.2,189.9 196.3,190.6 196.4,195.2 196.5,196.6 196.6,194.1 196.8,194.0 196.9,190.5 197.0,184.9 197.1,190.8 197.2,192.3 197.4,192.6 197.5,192.2 197.6,197.6 197.7,201.8 197.8,194.1 198.0,192.7 198.1,189.1 198.2,192.4 198.3,188.0 198.4,189.9 198.6,190.9 198.7,193.0 198.8,188.7 198.9,193.6 199.0,193.7 199.2,193.9 199.3,197.5 199.4,193.9 199.5,194.5 199.6,192.1 199.8,195.3 199.9,191.9 200.0,195.6 200.1,191.8 200.2,195.2 200.4,194.8 200.5,193.6 200.6,193.1 200.7,192.9 200.8,190.9 201.0,185.1 201.1,194.1 201.2,189.8 201.3,189.7 201.4,188.4 201.6,195.1 201.7,190.0 201.8,194.3 201.9,196.1 202.0,197.3 202.2,197.6 202.3,197.6 202.4,193.6 202.5,197.6 202.6,197.3 202.8,195.7 202.9,193.7 203.0,192.4 203.1,191.4 203.2,197.3 203.4,197.8 203.5,193.5 203.6,197.3 203.7,196.3 203.8,195.8 204.0,195.9 204.1,198.2 204.2,198.7 204.3,197.0 204.4,193.7 204.6,196.8 204.7,193.9 204.8,189.4 204.9,191.5 205.0,186.6 205.2,189.3 205.3,189.6 205.4,186.2 205.5,189.6 205.6,187.6 205.8,189.8 205.9,186.1 206.0,189.1 206.1,189.0 206.2,188.3 206.4,185.8 206.5,187.4 206.6,186.3 206.7,189.5 206.8,192.4 207.0,190.1 207.1,190.7 207.2,187.5 207.3,187.3 207.4,186.4 207.6,188.2 207.7,189.7 207.8,185.2 207.9,185.8 208.0,185.5 208.2,182.8 208.3,183.4 208.4,186.7 208.5,183.4 208.6,182.9 208.8,185.5 208.9,184.4 209.0,189.6 209.1,186.8 209.2,185.7 209.4,186.1 209.5,187.6 209.6,186.6 209.7,186.3 209.8,186.7 210.0,189.5 210.1,194.8 210.2,188.4 210.3,190.4 210.4,191.6 210.6,188.0 210.7,193.0 210.8,182.6 210.9,190.2 211.0,183.6 211.2,186.8 211.3,190.3 211.4,181.9 211.5,183.7 211.6,192.2 211.8,187.5 211.9,183.6 212.0,185.9 212.1,182.6 212.2,183.1 212.4,187.7 212.5,185.3 212.6,184.6 212.7,186.7 212.8,189.1 213.0,184.4 213.1,185.5 213.2,184.9 213.3,185.5 213.4,187.6 213.6,184.1 213.7,182.4 213.8,181.4 213.9,186.1 214.0,189.5 214.2,192.5 214.3,188.4 214.4,189.0 214.5,188.5 214.6,185.0 214.8,183.2 214.9,186.7 215.0,190.9 215.1,186.5 215.2,185.2 215.4,183.6 215.5,190.4 215.6,188.0 215.7,192.2 215.8,188.9 216.0,191.1 216.1,189.9 216.2,192.9 216.3,188.7 216.4,195.0 216.6,190.3 216.7,190.5 216.8,190.9 216.9,190.8 217.0,189.8 217.2,184.0 217.3,186.7 217.4,187.5 217.5,185.7 217.6,187.2 217.8,196.7 217.9,192.8 218.0,189.4 218.1,194.0 218.2,188.2 218.4,187.0 218.5,184.5 218.6,186.7 218.7,189.2 218.8,189.7 219.0,187.0 219.1,190.9 219.2,191.8 219.3,192.4 219.4,193.7 219.6,194.4 219.7,192.7 219.8,195.4 219.9,192.2 220.0,196.0 220.2,192.3 220.3,192.7 220.4,192.9 220.5,193.0 220.6,195.1 220.8,195.6 220.9,191.6 221.0,190.3 221.1,194.0 221.2,191.1 221.4,190.0 221.5,192.4 221.6,191.9 221.7,192.5 221.8,195.0 222.0,201.0 222.1,199.7 222.2,198.8 222.3,197.0 222.4,198.9 222.6,201.4 222.7,194.4 222.8,195.2 222.9,196.0 223.0,195.6 223.2,196.3 223.3,193.8 223.4,196.1 223.5,191.8 223.6,198.6 223.8,193.1 223.9,192.3 224.0,192.8 224.1,187.8 224.2,187.0 224.4,184.6 224.5,184.3 224.6,183.3 224.7,186.5 224.8,184.1 225.0,181.6 225.1,182.2 225.2,183.7 225.3,182.2 225.4,186.3 225.6,187.0 225.7,186.3 225.8,182.7 225.9,186.9 226.0,183.0 226.2,185.3 226.3,184.4 226.4,180.2 226.5,180.1 226.6,180.0 226.8,186.0 226.9,181.3 227.0,182.4 227.1,184.5 227.2,183.1 227.4,184.6 227.5,182.3 227.6,183.4 227.7,195.3 227.8,189.0 228.0,186.8 228.1,186.1 228.2,186.6 228.3,180.5 228.4,183.3" fill="none" stroke="#4C72B0" stroke-width="1.0" stroke-opacity="0.75" stroke-linejoin="round"/>
<polyline points="41.2,165.7 41.4,165.3 41.5,171.2 41.6,167.7 41.7,172.9 41.8,172.4 42.0,169.2 42.1,171.0 42.2,167.5 42.3,169.2 42.4,171.0 42.6,175.1 42.7,171.2 42.8,175.6 42.9,174.2 43.0,176.9 43.2,168.0 43.3,168.9 43.4,168.4 43.5,171.2 43.6,171.1 43.8,172.4 43.9,178.7 44.0,176.7 44.1,176.1 44.2,175.8 44.4,178.6 44.5,178.8 44.6,179.1 44.7,177.1 44.8,179.9 45.0,181.7 45.1,176.1 45.2,172.2 45.3,179.8 45.4,178.5 45.6,179.0 45.7,177.1 45.8,184.0 45.9,176.0 46.0,174.9 46.2,176.2 46.3,182.3 46.4,179.4 46.5,181.5 46.6,183.3 46.8,177.2 46.9,179.0 47.0,180.1 47.1,176.6 47.2,176.6 47.4,177.8 47.5,182.1 47.6,177.0 47.7,180.4 47.8,176.6 48.0,178.8 48.1,177.0 48.2,183.9 48.3,181.3 48.4,184.2 48.6,179.9 48.7,180.3 48.8,182.3 48.9,180.8 49.0,186.7 49.2,183.2 49.3,184.9 49.4,185.3 49.5,184.4 49.6,186.5 49.8,181.5 49.9,184.3 50.0,188.3 50.1,187.1 50.2,187.0 50.4,187.9 50.5,188.7 50.6,188.9 50.7,187.1 50.8,186.3 51.0,188.6 51.1,188.3 51.2,189.9 51.3,186.2 51.4,189.6 51.6,185.9 51.7,184.1 51.8,187.2 51.9,186.0 52.0,186.5 52.2,185.3 52.3,178.9 52.4,185.0 52.5,186.5 52.6,183.4 52.8,179.9 52.9,188.5 53.0,185.1 53.1,187.3 53.2,189.3 53.4,187.1 53.5,182.3 53.6,183.8 53.7,181.1 53.8,182.0 54.0,181.1 54.1,186.2 54.2,184.0 54.3,184.6 54.4,181.3 54.6,184.8 54.7,185.5 54.8,187.4 54.9,184.5 55.0,188.7 55.2,186.8 55.3,189.2 55.4,190.8 55.5,190.1 55.6,189.8 55.8,188.9 55.9,189.8 56.0,189.9 56.1,188.1 56.2,187.0 56.4,186.6 56.5,186.8 56.6,184.1 56.7,190.3 56.8,187.3 57.0,183.3 57.1,186.7 57.2,186.7 57.3,188.4 57.4,189.9 57.6,195.8 57.7,187.3 57.8,187.6 57.9,188.3 58.0,188.4 58.2,188.5 58.3,185.8 58.4,186.8 58.5,188.4 58.6,189.2 58.8,185.4 58.9,182.2 59.0,187.6 59.1,186.9 59.2,187.7 59.4,178.9 59.5,182.0 59.6,183.4 59.7,185.1 59.8,181.7 60.0,182.0 60.1,183.7 60.2,179.5 60.3,179.9 60.4,181.0 60.6,181.3 60.7,183.8 60.8,185.9 60.9,185.6 61.0,188.7 61.2,187.1 61.3,184.5 61.4,185.1 61.5,184.0 61.6,187.8 61.8,188.4 61.9,187.6 62.0,188.7 62.1,189.5 62.2,185.3 62.4,185.8 62.5,186.0 62.6,186.1 62.7,188.1 62.8,192.9 63.0,189.7 63.1,188.4 63.2,188.4 63.3,188.3 63.4,188.5 63.6,190.3 63.7,195.3 63.8,190.9 63.9,195.5 64.0,194.4 64.2,190.9 64.3,196.1 64.4,196.9 64.5,194.8 64.6,204.0 64.8,199.9 64.9,196.2 65.0,196.7 65.1,195.1 65.2,198.3 65.4,198.0 65.5,194.7 65.6,191.8 65.7,191.2 65.8,190.8 66.0,191.6 66.1,190.5 66.2,196.0 66.3,195.9 66.4,194.7 66.6,188.8 66.7,192.3 66.8,191.6 66.9,191.8 67.0,193.2 67.2,194.6 67.3,190.9 67.4,190.0 67.5,197.2 67.6,195.7 67.8,199.4 67.9,200.4 68.0,199.6 68.1,206.4 68.2,198.4 68.4,201.1 68.5,196.3 68.6,202.1 68.7,200.3 68.8,204.5 69.0,202.1 69.1,197.7 69.2,200.1 69.3,203.5 69.4,202.2 69.6,207.8 69.7,204.9 69.8,202.9 69.9,202.4 70.0,202.5 70.2,203.3 70.3,197.0 70.4,200.5 70.5,199.4 70.6,197.4 70.8,198.7 70.9,195.6 71.0,196.9 71.1,198.3 71.2,199.2 71.4,197.5 71.5,203.4 71.6,198.0 71.7,203.8 71.8,203.8 72.0,207.7 72.1,205.4 72.2,203.7 72.3,201.3 72.4,202.9 72.6,199.1 72.7,204.3 72.8,192.9 72.9,201.7 73.0,196.0 73.2,205.6 73.3,202.9 73.4,210.8 73.5,205.7 73.6,208.6 73.8,208.1 73.9,210.8 74.0,206.8 74.1,200.1 74.2,203.6 74.4,200.4 74.5,207.6 74.6,207.0 74.7,205.0 74.8,205.8 75.0,203.8 75.1,200.6 75.2,208.5 75.3,205.4 75.4,204.5 75.6,201.0 75.7,204.7 75.8,205.4 75.9,205.0 76.0,205.5 76.2,207.1 76.3,203.2 76.4,205.7 76.5,203.0 76.6,203.8 76.8,202.2 76.9,204.1 77.0,203.9 77.1,206.9 77.2,201.8 77.4,205.2 77.5,207.5 77.6,208.8 77.7,203.6 77.8,208.3 78.0,210.4 78.1,213.3 78.2,212.9 78.3,212.5 78.4,207.2 78.6,212.8 78.7,207.8 78.8,209.3 78.9,211.7 79.0,213.9 79.2,217.0 79.3,215.7 79.4,217.9 79.5,214.7 79.6,215.6 79.8,214.8 79.9,208.7 80.0,205.4 80.1,204.3 80.2,209.5 80.4,210.1 80.5,208.6 80.6,209.2 80.7,208.9 80.8,210.5 81.0,203.5 81.1,205.2 81.2,207.8 81.3,209.9 81.4,210.2 81.6,211.3 81.7,211.1 81.8,204.7 81.9,217.3 82.0,212.5 82.2,210.2 82.3,206.6 82.4,208.2 82.5,211.3 82.6,210.1 82.8,206.4 82.9,203.5 83.0,208.6 83.1,208.0 83.2,212.6 83.4,208.3 83.5,211.3 83.6,210.3 83.7,208.7 83.8,209.3 84.0,204.9 84.1,202.6 84.2,203.6 84.3,208.1 84.4,203.7 84.6,203.3 84.7,208.9 84.8,210.2 84.9,208.2 85.0,211.6 85.2,212.5 85.3,215.7 85.4,212.4 85.5,209.0 85.6,208.8 85.8,208.5 85.9,208.8 86.0,209.5 86.1,207.0 86.2,207.6 86.4,208.3 86.5,210.0 86.6,207.2 86.7,212.5 86.8,209.4 87.0,212.4 87.1,209.9 87.2,209.7 87.3,211.5 87.4,211.8 87.6,208.5 87.7,209.0 87.8,207.3 87.9,204.8 88.0,203.8 88.2,208.2 88.3,209.2 88.4,201.9 88.5,211.3 88.6,211.9 88.8,209.3 88.9,204.8 89.0,203.9 89.1,199.7 89.2,200.9 89.4,202.7 89.5,199.7 89.6,201.1 89.7,204.5 89.8,200.1 90.0,203.2 90.1,198.5 90.2,199.3 90.3,197.4 90.4,197.7 90.6,196.1 90.7,197.2 90.8,193.5 90.9,198.6 91.0,199.0 91.2,201.8 91.3,197.4 91.4,197.1 91.5,201.2 91.6,200.3 91.8,195.3 91.9,199.8 92.0,199.4 92.1,196.5 92.2,194.9 92.4,194.3 92.5,195.2 92.6,198.4 92.7,190.1 92.8,196.1 93.0,196.9 93.1,191.6 93.2,194.2 93.3,201.0 93.4,197.5 93.6,197.7 93.7,196.9 93.8,197.4 93.9,195.9 94.0,201.5 94.2,192.2 94.3,190.2 94.4,193.2 94.5,196.0 94.6,195.3 94.8,197.5 94.9,195.5 95.0,198.1 95.1,196.7 95.2,195.3 95.4,194.0 95.5,194.6 95.6,197.8 95.7,193.2 95.8,194.5 96.0,197.3 96.1,191.6 96.2,192.8 96.3,195.9 96.4,190.5 96.6,195.0 96.7,197.7 96.8,192.4 96.9,196.0 97.0,201.7 97.2,197.9 97.3,195.4 97.4,196.0 97.5,195.1 97.6,194.2 97.8,197.8 97.9,194.2 98.0,197.3 98.1,196.1 98.2,198.1 98.4,195.0 98.5,199.3 98.6,191.6 98.7,195.0 98.8,189.2 99.0,192.9 99.1,195.2 99.2,200.8 99.3,199.4 99.4,199.9 99.6,196.7 99.7,198.5 99.8,192.8 99.9,199.6 100.0,203.7 100.2,204.8 100.3,202.8 100.4,198.8 100.5,199.9 100.6,197.5 100.8,195.8 100.9,195.8 101.0,190.0 101.1,201.2 101.2,200.2 101.4,202.4 101.5,201.9 101.6,203.8 101.7,203.3 101.8,198.4 102.0,197.0 102.1,197.1 102.2,194.7 102.3,194.4 102.4,194.6 102.6,200.5 102.7,193.8 102.8,194.2 102.9,193.4 103.0,190.6 103.2,192.6 103.3,193.8 103.4,187.0 103.5,190.2 103.6,193.3 103.8,190.5 103.9,191.2 104.0,190.6 104.1,191.9 104.2,193.7 104.4,193.4 104.5,196.6 104.6,192.6 104.7,187.2 104.8,191.9 105.0,195.4 105.1,194.6 105.2,193.6 105.3,196.4 105.4,191.9 105.6,194.5 105.7,199.1 105.8,196.2 105.9,196.0 106.0,198.8 106.2,198.3 106.3,195.4 106.4,196.8 106.5,192.8 106.6,196.8 106.8,197.2 106.9,191.6 107.0,200.0 107.1,202.6 107.2,201.1 107.4,202.7 107.5,204.0 107.6,197.8 107.7,198.6 107.8,197.6 108.0,192.7 108.1,193.0 108.2,192.5 108.3,197.0 108.4,193.1 108.6,195.2 108.7,190.5 108.8,191.4 108.9,197.3 109.0,200.0 109.2,195.0 109.3,194.3 109.4,197.3 109.5,195.4 109.6,196.4 109.8,194.3 109.9,199.6 110.0,199.8 110.1,198.0 110.2,198.7 110.4,196.4 110.5,197.9 110.6,201.1 110.7,197.7 110.8,202.9 111.0,200.2 111.1,202.6 111.2,200.9 111.3,202.6 111.4,204.0 111.6,196.9 111.7,203.7 111.8,202.3 111.9,200.7 112.0,199.7 112.2,198.1 112.3,200.7 112.4,199.9 112.5,198.1 112.6,201.4 112.8,201.2 112.9,198.9 113.0,201.9 113.1,203.0 113.2,201.6 113.4,203.6 113.5,198.7 113.6,201.6 113.7,204.1 113.8,200.4 114.0,198.9 114.1,203.1 114.2,201.1 114.3,201.3 114.4,201.7 114.6,203.1 114.7,200.9 114.8,199.9 114.9,206.6 115.0,203.0 115.2,199.1 115.3,199.1 115.4,203.3 115.5,196.9 115.6,203.8 115.8,200.9 115.9,206.1 116.0,200.9 116.1,199.9 116.2,202.9 116.4,203.1 116.5,199.5 116.6,202.8 116.7,201.6 116.8,204.2 117.0,198.6 117.1,202.6 117.2,197.7 117.3,202.6 117.4,197.3 117.6,199.2 117.7,197.7 117.8,195.8 117.9,195.5 118.0,193.5 118.2,197.2 118.3,194.5 118.4,198.6 118.5,198.4 118.6,196.8 118.8,195.9 118.9,199.9 119.0,198.3 119.1,201.5 119.2,201.4 119.4,200.3 119.5,199.0 119.6,192.1 119.7,197.5 119.8,195.6 120.0,202.3 120.1,194.3 120.2,204.7 120.3,200.6 120.4,203.9 120.6,200.7 120.7,201.4 120.8,198.8 120.9,199.7 121.0,197.3 121.2,196.4 121.3,199.1 121.4,200.4 121.5,195.4 121.6,196.3 121.8,194.3 121.9,196.2 122.0,192.5 122.1,193.3 122.2,189.2 122.4,196.1 122.5,190.0 122.6,191.5 122.7,192.8 122.8,185.8 123.0,193.2 123.1,190.3 123.2,193.8 123.3,190.3 123.4,192.6 123.6,191.7 123.7,197.0 123.8,198.7 123.9,196.4 124.0,195.8 124.2,205.4 124.3,201.2 124.4,199.9 124.5,197.1 124.6,200.3 124.8,198.4 124.9,195.3 125.0,195.6 125.1,201.1 125.2,197.7 125.4,196.4 125.5,197.8 125.6,197.5 125.7,203.3 125.8,199.7 126.0,198.1 126.1,195.4 126.2,194.4 126.3,192.8 126.4,194.0 126.6,192.5 126.7,194.4 126.8,197.2 126.9,197.5 127.0,200.3 127.2,200.2 127.3,201.9 127.4,201.0 127.5,198.6 127.6,197.5 127.8,198.5 127.9,201.9 128.0,199.6 128.1,195.3 128.2,198.8 128.4,200.8 128.5,200.7 128.6,199.3 128.7,205.3 128.8,201.6 129.0,202.5 129.1,207.1 129.2,204.1 129.3,198.5 129.4,200.4 129.6,197.7 129.7,194.4 129.8,197.3 129.9,201.7 130.0,196.3 130.2,202.3 130.3,202.8 130.4,203.1 130.5,205.9 130.6,202.9 130.8,200.7 130.9,205.5 131.0,202.7 131.1,198.4 131.2,202.4 131.4,200.1 131.5,197.7 131.6,204.8 131.7,205.9 131.8,201.1 132.0,206.7 132.1,203.1 132.2,211.1 132.3,208.5 132.4,207.1 132.6,208.5 132.7,205.8 132.8,204.0 132.9,205.3 133.0,200.1 133.2,202.4 133.3,200.4 133.4,200.8 133.5,201.3 133.6,201.3 133.8,198.3 133.9,202.6 134.0,197.0 134.1,201.3 134.2,195.8 134.4,195.9 134.5,195.3 134.6,201.2 134.7,198.4 134.8,199.5 135.0,195.5 135.1,197.4 135.2,199.8 135.3,197.4 135.4,193.9 135.6,198.7 135.7,196.1 135.8,200.5 135.9,195.1 136.0,203.1 136.2,198.8 136.3,199.1 136.4,197.4 136.5,198.6 136.6,199.0 136.8,191.8 136.9,197.7 137.0,194.2 137.1,197.0 137.2,191.0 137.4,198.8 137.5,198.2 137.6,196.4 137.7,196.1 137.8,196.7 138.0,198.8 138.1,205.6 138.2,201.8 138.3,204.5 138.4,204.3 138.6,200.3 138.7,199.9 138.8,198.1 138.9,195.8 139.0,204.5 139.2,197.8 139.3,201.4 139.4,201.2 139.5,194.0 139.6,196.2 139.8,197.7 139.9,198.4 140.0,192.4 140.1,193.5 140.2,191.0 140.4,193.9 140.5,192.9 140.6,194.9 140.7,198.5 140.8,197.5 141.0,199.3 141.1,193.8 141.2,194.8 141.3,195.4 141.4,199.5 141.6,192.1 141.7,194.2 141.8,198.2 141.9,203.0 142.0,196.4 142.2,198.0 142.3,193.1 142.4,199.2 142.5,195.2 142.6,193.9 142.8,195.5 142.9,196.1 143.0,196.5 143.1,194.0 143.2,194.1 143.4,192.3 143.5,195.6 143.6,193.7 143.7,198.2 143.8,191.4 144.0,197.7 144.1,197.7 144.2,197.3 144.3,191.2 144.4,188.7 144.6,188.4 144.7,193.6 144.8,191.6 144.9,190.6 145.0,190.8 145.2,191.9 145.3,192.3 145.4,191.1 145.5,196.1 145.6,199.6 145.8,202.7 145.9,200.7 146.0,198.1 146.1,202.8 146.2,199.3 146.4,194.7 146.5,194.9 146.6,196.2 146.7,195.1 146.8,190.8 147.0,194.3 147.1,193.9 147.2,196.3 147.3,198.2 147.4,196.9 147.6,195.2 147.7,196.4 147.8,193.8 147.9,185.5 148.0,196.8 148.2,193.9 148.3,193.6 148.4,193.9 148.5,194.8 148.6,194.2 148.8,190.2 148.9,194.6 149.0,195.2 149.1,195.5 149.2,190.9 149.4,193.5 149.5,188.4 149.6,194.1 149.7,198.6 149.8,196.2 150.0,196.1 150.1,196.7 150.2,194.1 150.3,193.7 150.4,190.7 150.6,192.0 150.7,184.6 150.8,189.4 150.9,188.2 151.0,187.7 151.2,189.3 151.3,184.1 151.4,182.2 151.5,186.4 151.6,185.0 151.8,185.9 151.9,185.8 152.0,184.4 152.1,183.2 152.2,187.4 152.4,189.0 152.5,183.3 152.6,185.9 152.7,188.3 152.8,184.3 153.0,183.0 153.1,185.0 153.2,187.3 153.3,183.9 153.4,187.7 153.6,188.7 153.7,185.5 153.8,188.7 153.9,188.9 154.0,190.4 154.2,188.3 154.3,181.4 154.4,186.5 154.5,185.2 154.6,187.1 154.8,183.5 154.9,185.3 155.0,184.9 155.1,182.4 155.2,189.4 155.4,186.5 155.5,190.1 155.6,194.7 155.7,191.8 155.8,191.6 156.0,190.2 156.1,187.9 156.2,186.0 156.3,185.7 156.4,189.5 156.6,189.6 156.7,185.9 156.8,189.0 156.9,187.3 157.0,183.7 157.2,184.9 157.3,188.0 157.4,182.8 157.5,178.3 157.6,183.3 157.8,182.9 157.9,184.9 158.0,186.9 158.1,184.5 158.2,190.2 158.4,188.7 158.5,186.4 158.6,191.6 158.7,190.6 158.8,191.8 159.0,191.8 159.1,192.2 159.2,191.9 159.3,187.4 159.4,188.2 159.6,194.1 159.7,191.3 159.8,195.8 159.9,194.8 160.0,187.2 160.2,190.4 160.3,197.4 160.4,189.2 160.5,194.5 160.6,192.4 160.8,191.3 160.9,188.6 161.0,191.8 161.1,191.2 161.2,186.0 161.4,189.6 161.5,189.7 161.6,192.0 161.7,193.4 161.8,192.8 162.0,195.4 162.1,192.6 162.2,195.1 162.3,198.5 162.4,191.1 162.6,197.3 162.7,200.2 162.8,193.8 162.9,197.4 163.0,198.1 163.2,190.9 163.3,195.8 163.4,201.2 163.5,203.7 163.6,206.4 163.8,209.8 163.9,206.8 164.0,201.0 164.1,200.9 164.2,199.6 164.4,195.0 164.5,197.4 164.6,193.1 164.7,198.6 164.8,203.0 165.0,194.0 165.1,200.3 165.2,195.0 165.3,197.3 165.4,196.1 165.6,198.5 165.7,196.5 165.8,195.3 165.9,191.1 166.0,191.2 166.2,196.0 166.3,190.2 166.4,194.4 166.5,194.8 166.6,189.2 166.8,194.8 166.9,191.6 167.0,194.5 167.1,191.9 167.2,186.8 167.4,187.9 167.5,186.3 167.6,183.1 167.7,190.3 167.8,189.0 168.0,187.7 168.1,187.9 168.2,189.3 168.3,186.9 168.4,183.8 168.6,183.2 168.7,183.3 168.8,187.7 168.9,179.6 169.0,182.9 169.2,187.5 169.3,185.9 169.4,187.9 169.5,187.6 169.6,188.0 169.8,181.8 169.9,185.7 170.0,184.9 170.1,187.2 170.2,185.1 170.4,187.0 170.5,183.5 170.6,183.8 170.7,180.8 170.8,179.8 171.0,177.2 171.1,174.4 171.2,179.7 171.3,176.6 171.4,180.8 171.6,175.4 171.7,171.6 171.8,174.4 171.9,174.9 172.0,175.6 172.2,173.6 172.3,176.7 172.4,175.7 172.5,172.0 172.6,171.6 172.8,171.7 172.9,172.9 173.0,172.5 173.1,173.3 173.2,177.0 173.4,174.1 173.5,176.7 173.6,173.0 173.7,177.0 173.8,174.8 174.0,171.8 174.1,170.5 174.2,168.3 174.3,170.1 174.4,174.2 174.6,169.7 174.7,173.6 174.8,172.1 174.9,170.8 175.0,172.5 175.2,172.3 175.3,174.3 175.4,173.9 175.5,172.9 175.6,171.4 175.8,171.5 175.9,178.5 176.0,172.1 176.1,170.9 176.2,176.3 176.4,170.3 176.5,176.8 176.6,176.0 176.7,174.6 176.8,176.3 177.0,172.0 177.1,171.2 177.2,172.1 177.3,173.3 177.4,173.1 177.6,172.9 177.7,170.1 177.8,166.5 177.9,170.9 178.0,169.6 178.2,171.9 178.3,174.9 178.4,171.5 178.5,173.7 178.6,169.7 178.8,173.5 178.9,168.3 179.0,166.6 179.1,168.7 179.2,162.3 179.4,166.1 179.5,168.1 179.6,171.6 179.7,159.1 179.8,165.0 180.0,173.9 180.1,166.0 180.2,167.0 180.3,172.4 180.4,175.4 180.6,170.5 180.7,168.3 180.8,166.7 180.9,169.1 181.0,166.9 181.2,166.7 181.3,168.7 181.4,168.9 181.5,170.8 181.6,170.1 181.8,168.4 181.9,174.6 182.0,174.2 182.1,171.5 182.2,172.1 182.4,174.8 182.5,174.6 182.6,171.8 182.7,173.9 182.8,174.9 183.0,169.8 183.1,171.0 183.2,170.6 183.3,175.8 183.4,175.1 183.6,177.9 183.7,175.4 183.8,176.4 183.9,171.9 184.0,173.6 184.2,170.5 184.3,175.9 184.4,177.5 184.5,177.5 184.6,181.2 184.8,180.4 184.9,179.6 185.0,177.4 185.1,178.9 185.2,184.0 185.4,181.2 185.5,183.5 185.6,182.0 185.7,180.3 185.8,173.6 186.0,176.6 186.1,174.4 186.2,175.5 186.3,171.8 186.4,175.5 186.6,177.7 186.7,178.6 186.8,175.0 186.9,178.2 187.0,185.3 187.2,182.0 187.3,179.2 187.4,173.9 187.5,176.7 187.6,179.5 187.8,181.3 187.9,184.3 188.0,182.8 188.1,184.5 188.2,186.7 188.4,179.9 188.5,190.4 188.6,185.4 188.7,183.5 188.8,188.2 189.0,186.2 189.1,186.7 189.2,184.0 189.3,186.1 189.4,187.6 189.6,181.3 189.7,183.0 189.8,183.3 189.9,184.5 190.0,180.5 190.2,180.0 190.3,184.6 190.4,181.0 190.5,183.5 190.6,183.5 190.8,181.2 190.9,179.4 191.0,183.4 191.1,182.5 191.2,185.1 191.4,187.6 191.5,184.9 191.6,180.6 191.7,179.2 191.8,181.6 192.0,181.0 192.1,189.0 192.2,184.3 192.3,184.3 192.4,188.9 192.6,191.3 192.7,185.4 192.8,191.6 192.9,186.4 193.0,187.0 193.2,185.8 193.3,187.3 193.4,186.0 193.5,190.4 193.6,187.1 193.8,184.6 193.9,184.4 194.0,188.2 194.1,188.7 194.2,190.7 194.4,190.1 194.5,196.9 194.6,195.1 194.7,192.4 194.8,191.4 195.0,190.8 195.1,190.0 195.2,189.9 195.3,185.5 195.4,188.9 195.6,185.7 195.7,189.1 195.8,189.8 195.9,187.3 196.0,189.5 196.2,188.7 196.3,188.6 196.4,195.8 196.5,194.0 196.6,193.9 196.8,188.9 196.9,192.5 197.0,192.8 197.1,195.1 197.2,193.0 197.4,196.7 197.5,194.7 197.6,188.9 197.7,197.7 197.8,194.5 198.0,191.7 198.1,192.7 198.2,195.3 198.3,193.0 198.4,193.6 198.6,192.8 198.7,192.9 198.8,195.1 198.9,194.0 199.0,187.3 199.2,191.6 199.3,188.5 199.4,186.0 199.5,186.0 199.6,186.9 199.8,190.2 199.9,191.0 200.0,189.0 200.1,188.7 200.2,193.7 200.4,192.0 200.5,188.4 200.6,185.8 200.7,188.9 200.8,189.1 201.0,185.3 201.1,189.3 201.2,186.2 201.3,188.8 201.4,183.4 201.6,184.8 201.7,184.3 201.8,182.2 201.9,185.0 202.0,184.1 202.2,184.9 202.3,188.8 202.4,186.9 202.5,193.0 202.6,180.6 202.8,189.8 202.9,182.4 203.0,185.8 203.1,187.4 203.2,185.7 203.4,183.8 203.5,184.7 203.6,185.9 203.7,186.3 203.8,187.0 204.0,187.6 204.1,188.0 204.2,182.5 204.3,190.3 204.4,182.9 204.6,186.0 204.7,183.9 204.8,182.7 204.9,185.9 205.0,185.4 205.2,186.3 205.3,181.2 205.4,182.3 205.5,183.7 205.6,184.4 205.8,185.8 205.9,183.0 206.0,185.7 206.1,185.1 206.2,190.2 206.4,188.2 206.5,183.1 206.6,186.3 206.7,185.0 206.8,183.8 207.0,182.8 207.1,184.6 207.2,183.0 207.3,178.6 207.4,180.4 207.6,179.9 207.7,182.8 207.8,187.0 207.9,183.8 208.0,182.5 208.2,187.2 208.3,182.6 208.4,184.8 208.5,185.1 208.6,181.0 208.8,184.5 208.9,181.7 209.0,177.6 209.1,175.4 209.2,177.0 209.4,182.0 209.5,184.7 209.6,181.1 209.7,183.1 209.8,177.0 210.0,182.8 210.1,184.1 210.2,184.0 210.3,178.2 210.4,183.1 210.6,180.9 210.7,183.7 210.8,181.2 210.9,184.1 211.0,182.4 211.2,183.6 211.3,180.6 211.4,182.9 211.5,180.8 211.6,181.7 211.8,179.2 211.9,182.5 212.0,182.7 212.1,185.3 212.2,183.1 212.4,184.3 212.5,183.4 212.6,181.4 212.7,181.3 212.8,176.8 213.0,184.1 213.1,181.9 213.2,179.0 213.3,185.3 213.4,178.7 213.6,182.0 213.7,182.5 213.8,182.8 213.9,186.2 214.0,183.2 214.2,180.6 214.3,175.7 214.4,177.0 214.5,177.8 214.6,181.8 214.8,184.9 214.9,185.6 215.0,185.0 215.1,187.0 215.2,186.5 215.4,180.0 215.5,184.4 215.6,186.8 215.7,183.4 215.8,182.6 216.0,188.1 216.1,185.8 216.2,186.7 216.3,184.6 216.4,186.5 216.6,182.2 216.7,186.3 216.8,180.6 216.9,183.6 217.0,183.6 217.2,182.2 217.3,184.6 217.4,188.8 217.5,187.8 217.6,186.1 217.8,186.4 217.9,181.3 218.0,184.7 218.1,188.6 218.2,187.4 218.4,185.4 218.5,188.9 218.6,193.1 218.7,189.7 218.8,190.6 219.0,191.1 219.1,193.6 219.2,192.0 219.3,192.2 219.4,188.1 219.6,188.3 219.7,188.9 219.8,187.9 219.9,192.8 220.0,192.4 220.2,190.0 220.3,190.6 220.4,192.1 220.5,190.5 220.6,188.5 220.8,193.9 220.9,194.4 221.0,187.7 221.1,191.0 221.2,185.6 221.4,184.0 221.5,187.8 221.6,185.3 221.7,190.0 221.8,185.2 222.0,191.8 222.1,187.7 222.2,182.7 222.3,184.0 222.4,179.6 222.6,184.4 222.7,185.8 222.8,180.8 222.9,179.5 223.0,181.1 223.2,181.2 223.3,180.6 223.4,185.3 223.5,186.1 223.6,187.4 223.8,179.9 223.9,180.9 224.0,183.4 224.1,183.5 224.2,176.6 224.4,182.6 224.5,188.9 224.6,182.3 224.7,182.2 224.8,182.1 225.0,180.2 225.1,180.3 225.2,177.6 225.3,173.6 225.4,181.1 225.6,180.4 225.7,176.8 225.8,177.4 225.9,182.2 226.0,174.8 226.2,174.8 226.3,174.4 226.4,174.9 226.5,169.2 226.6,173.6 226.8,174.7 226.9,171.5 227.0,176.9 227.1,171.4 227.2,176.4 227.4,179.8 227.5,182.0 227.6,177.0 227.7,173.0 227.8,177.1 228.0,176.7 228.1,176.9 228.2,172.8 228.3,178.2 228.4,178.4" fill="none" stroke="#55A868" stroke-width="1.0" stroke-opacity="0.75" stroke-linejoin="round"/>
<polyline points="41.2,162.1 41.4,165.2 41.5,169.1 41.6,163.9 41.7,164.6 41.8,171.2 42.0,169.5 42.1,172.9 42.2,167.4 42.3,168.3 42.4,169.0 42.6,167.8 42.7,169.2 42.8,171.4 42.9,174.4 43.0,173.9 43.2,172.7 43.3,172.8 43.4,176.2 43.5,176.9 43.6,174.9 43.8,175.0 43.9,174.7 44.0,171.4 44.1,173.3 44.2,173.3 44.4,175.5 44.5,173.7 44.6,176.0 44.7,177.1 44.8,169.9 45.0,174.4 45.1,175.5 45.2,177.3 45.3,175.4 45.4,179.7 45.6,177.7 45.7,176.1 45.8,177.6 45.9,174.3 46.0,179.9 46.2,178.7 46.3,178.4 46.4,183.1 46.5,182.0 46.6,180.1 46.8,177.6 46.9,178.7 47.0,182.1 47.1,178.5 47.2,183.8 47.4,181.6 47.5,179.5 47.6,182.2 47.7,178.0 47.8,176.8 48.0,180.8 48.1,179.2 48.2,177.9 48.3,175.4 48.4,176.3 48.6,181.7 48.7,179.2 48.8,187.4 48.9,180.8 49.0,184.1 49.2,181.3 49.3,182.3 49.4,183.8 49.5,181.5 49.6,184.3 49.8,183.3 49.9,179.1 50.0,186.9 50.1,183.6 50.2,182.8 50.4,185.8 50.5,187.2 50.6,187.2 50.7,191.6 50.8,189.7 51.0,190.6 51.1,187.4 51.2,193.3 51.3,194.7 51.4,189.7 51.6,195.9 51.7,195.3 51.8,192.4 51.9,193.1 52.0,198.6 52.2,191.1 52.3,188.9 52.4,188.3 52.5,188.0 52.6,185.4 52.8,192.1 52.9,196.0 53.0,198.6 53.1,193.3 53.2,190.5 53.4,193.1 53.5,189.9 53.6,190.2 53.7,187.4 53.8,189.1 54.0,186.2 54.1,187.0 54.2,185.5 54.3,193.6 54.4,190.3 54.6,189.6 54.7,190.0 54.8,192.0 54.9,191.0 55.0,189.3 55.2,193.8 55.3,194.0 55.4,187.2 55.5,192.8 55.6,190.7 55.8,190.5 55.9,185.6 56.0,193.0 56.1,188.1 56.2,194.6 56.4,190.4 56.5,192.6 56.6,188.6 56.7,193.7 56.8,188.8 57.0,189.3 57.1,189.4 57.2,191.3 57.3,194.6 57.4,192.8 57.6,191.0 57.7,193.6 57.8,195.2 57.9,188.8 58.0,194.0 58.2,196.4 58.3,187.6 58.4,187.7 58.5,188.6 58.6,187.7 58.8,186.2 58.9,189.5 59.0,194.0 59.1,191.2 59.2,186.7 59.4,183.2 59.5,184.1 59.6,184.3 59.7,182.7 59.8,181.8 60.0,186.7 60.1,185.4 60.2,184.7 60.3,188.3 60.4,193.6 60.6,190.2 60.7,191.2 60.8,192.8 60.9,195.3 61.0,190.7 61.2,191.8 61.3,193.0 61.4,198.9 61.5,197.7 61.6,188.8 61.8,191.6 61.9,191.7 62.0,191.4 62.1,193.2 62.2,191.7 62.4,189.7 62.5,195.7 62.6,194.8 62.7,190.7 62.8,187.5 63.0,191.1 63.1,184.5 63.2,190.0 63.3,184.7 63.4,190.2 63.6,185.5 63.7,188.0 63.8,190.9 63.9,186.7 64.0,187.5 64.2,194.4 64.3,190.7 64.4,197.7 64.5,195.5 64.6,194.6 64.8,198.5 64.9,199.2 65.0,198.9 65.1,195.1 65.2,198.3 65.4,197.4 65.5,197.6 65.6,195.5 65.7,196.6 65.8,194.9 66.0,197.8 66.1,197.3 66.2,195.3 66.3,195.9 66.4,198.8 66.6,199.1 66.7,199.2 66.8,195.4 66.9,200.1 67.0,200.9 67.2,198.6 67.3,198.1 67.4,198.3 67.5,200.2 67.6,190.8 67.8,199.2 67.9,196.3 68.0,194.7 68.1,196.9 68.2,200.7 68.4,200.0 68.5,202.1 68.6,202.7 68.7,200.8 68.8,201.9 69.0,203.6 69.1,200.1 69.2,198.7 69.3,199.7 69.4,201.7 69.6,194.8 69.7,196.9 69.8,197.0 69.9,199.9 70.0,196.8 70.2,198.3 70.3,203.5 70.4,200.0 70.5,197.2 70.6,201.4 70.8,203.2 70.9,206.6 71.0,198.7 71.1,199.7 71.2,202.4 71.4,194.7 71.5,198.3 71.6,202.2 71.7,204.2 71.8,201.8 72.0,204.7 72.1,197.0 72.2,197.5 72.3,202.0 72.4,195.3 72.6,197.9 72.7,197.5 72.8,199.4 72.9,199.8 73.0,201.5 73.2,203.6 73.3,204.2 73.4,199.4 73.5,202.2 73.6,208.2 73.8,206.7 73.9,201.1 74.0,199.7 74.1,200.9 74.2,207.8 74.4,207.9 74.5,206.2 74.6,198.4 74.7,198.5 74.8,198.3 75.0,196.5 75.1,201.3 75.2,199.9 75.3,203.4 75.4,204.4 75.6,205.3 75.7,209.0 75.8,207.6 75.9,207.2 76.0,207.3 76.2,207.4 76.3,204.3 76.4,202.5 76.5,205.4 76.6,208.7 76.8,212.2 76.9,209.2 77.0,207.3 77.1,209.9 77.2,207.9 77.4,210.9 77.5,209.7 77.6,208.3 77.7,203.8 77.8,203.4 78.0,205.2 78.1,203.0 78.2,209.3 78.3,205.2 78.4,208.8 78.6,206.9 78.7,211.3 78.8,206.9 78.9,207.9 79.0,209.6 79.2,213.9 79.3,210.7 79.4,207.7 79.5,212.8 79.6,216.6 79.8,216.4 79.9,217.4 80.0,214.0 80.1,214.3 80.2,213.0 80.4,208.2 80.5,217.4 80.6,209.7 80.7,212.4 80.8,208.0 81.0,210.3 81.1,211.6 81.2,209.7 81.3,206.0 81.4,207.7 81.6,210.8 81.7,208.1 81.8,208.6 81.9,210.2 82.0,201.3 82.2,207.3 82.3,209.7 82.4,211.4 82.5,210.3 82.6,207.5 82.8,210.6 82.9,213.8 83.0,210.7 83.1,208.7 83.2,208.9 83.4,209.0 83.5,205.8 83.6,204.3 83.7,210.7 83.8,211.5 84.0,212.8 84.1,211.9 84.2,214.3 84.3,217.4 84.4,220.9 84.6,216.1 84.7,210.4 84.8,212.7 84.9,211.0 85.0,209.9 85.2,209.6 85.3,209.4 85.4,203.7 85.5,203.5 85.6,208.2 85.8,210.0 85.9,212.9 86.0,209.9 86.1,207.8 86.2,206.3 86.4,205.5 86.5,202.2 86.6,201.1 86.7,204.5 86.8,205.0 87.0,203.6 87.1,206.1 87.2,206.3 87.3,205.1 87.4,206.4 87.6,206.6 87.7,205.0 87.8,194.5 87.9,200.8 88.0,200.7 88.2,199.0 88.3,202.0 88.4,203.3 88.5,203.6 88.6,199.8 88.8,205.3 88.9,206.0 89.0,201.3 89.1,203.3 89.2,205.1 89.4,202.4 89.5,202.5 89.6,199.8 89.7,201.2 89.8,202.6 90.0,203.8 90.1,200.9 90.2,198.4 90.3,200.8 90.4,199.3 90.6,198.9 90.7,196.6 90.8,197.5 90.9,194.0 91.0,196.6 91.2,199.2 91.3,201.9 91.4,197.7 91.5,198.6 91.6,201.0 91.8,199.4 91.9,199.4 92.0,200.6 92.1,197.2 92.2,204.5 92.4,198.1 92.5,197.5 92.6,201.5 92.7,197.6 92.8,202.1 93.0,199.4 93.1,197.7 93.2,198.2 93.3,194.2 93.4,192.8 93.6,195.6 93.7,194.5 93.8,190.2 93.9,189.8 94.0,189.2 94.2,189.2 94.3,191.0 94.4,193.8 94.5,191.1 94.6,195.9 94.8,196.4 94.9,196.6 95.0,190.9 95.1,195.3 95.2,197.4 95.4,189.3 95.5,194.5 95.6,195.9 95.7,197.3 95.8,197.3 96.0,201.9 96.1,199.2 96.2,197.0 96.3,201.2 96.4,200.3 96.6,195.4 96.7,199.9 96.8,201.8 96.9,199.2 97.0,196.3 97.2,199.9 97.3,201.0 97.4,202.3 97.5,201.5 97.6,200.2 97.8,202.0 97.9,203.1 98.0,205.8 98.1,201.7 98.2,204.1 98.4,205.0 98.5,201.9 98.6,198.2 98.7,201.3 98.8,201.7 99.0,204.2 99.1,200.5 99.2,195.9 99.3,198.2 99.4,196.6 99.6,201.6 99.7,200.2 99.8,203.3 99.9,197.1 100.0,202.7 100.2,204.9 100.3,197.2 100.4,200.0 100.5,200.6 100.6,201.4 100.8,200.7 100.9,200.4 101.0,204.3 101.1,204.2 101.2,203.7 101.4,207.0 101.5,205.6 101.6,206.1 101.7,201.4 101.8,200.8 102.0,205.2 102.1,200.9 102.2,207.3 102.3,203.0 102.4,211.7 102.6,209.7 102.7,204.4 102.8,202.0 102.9,197.2 103.0,200.0 103.2,201.7 103.3,199.9 103.4,197.4 103.5,203.0 103.6,202.0 103.8,202.7 103.9,200.4 104.0,203.2 104.1,207.2 104.2,201.5 104.4,194.1 104.5,197.2 104.6,200.6 104.7,199.9 104.8,197.1 105.0,200.7 105.1,198.3 105.2,204.1 105.3,198.0 105.4,199.5 105.6,197.9 105.7,196.1 105.8,200.2 105.9,202.0 106.0,196.2 106.2,194.8 106.3,199.6 106.4,192.1 106.5,191.4 106.6,191.9 106.8,199.8 106.9,194.8 107.0,197.3 107.1,195.7 107.2,192.5 107.4,195.2 107.5,190.7 107.6,190.1 107.7,189.8 107.8,189.3 108.0,189.3 108.1,193.3 108.2,192.0 108.3,191.7 108.4,193.1 108.6,188.9 108.7,193.6 108.8,192.8 108.9,189.5 109.0,192.9 109.2,193.5 109.3,194.4 109.4,196.5 109.5,200.0 109.6,200.4 109.8,195.0 109.9,196.2 110.0,197.0 110.1,195.6 110.2,195.8 110.4,197.0 110.5,195.3 110.6,198.4 110.7,194.7 110.8,192.8 111.0,192.8 111.1,197.6 111.2,200.4 111.3,197.9 111.4,200.5 111.6,197.2 111.7,201.3 111.8,199.0 111.9,198.4 112.0,202.6 112.2,196.9 112.3,195.8 112.4,197.8 112.5,203.5 112.6,200.9 112.8,201.3 112.9,198.1 113.0,198.9 113.1,200.4 113.2,197.4 113.4,201.9 113.5,196.4 113.6,202.8 113.7,199.7 113.8,197.6 114.0,198.2 114.1,197.0 114.2,197.0 114.3,191.3 114.4,193.6 114.6,195.8 114.7,196.8 114.8,196.1 114.9,203.6 115.0,195.3 115.2,198.1 115.3,198.8 115.4,198.1 115.5,195.6 115.6,201.2 115.8,201.0 115.9,200.4 116.0,207.1 116.1,200.5 116.2,199.3 116.4,201.3 116.5,197.3 116.6,197.6 116.7,200.8 116.8,195.2 117.0,195.7 117.1,198.9 117.2,202.5 117.3,197.0 117.4,198.8 117.6,201.5 117.7,195.8 117.8,197.6 117.9,198.5 118.0,196.3 118.2,196.8 118.3,200.0 118.4,202.4 118.5,202.3 118.6,204.6 118.8,194.3 118.9,203.9 119.0,205.5 119.1,201.1 119.2,199.4 119.4,204.3 119.5,201.3 119.6,201.6 119.7,198.7 119.8,202.7 120.0,201.6 120.1,200.1 120.2,198.8 120.3,201.9 120.4,198.2 120.6,203.2 120.7,203.6 120.8,203.8 120.9,199.4 121.0,203.4 121.2,203.2 121.3,204.4 121.4,199.9 121.5,200.3 121.6,199.8 121.8,200.9 121.9,196.5 122.0,199.0 122.1,197.3 122.2,203.7 122.4,198.8 122.5,191.7 122.6,193.3 122.7,193.2 122.8,195.1 123.0,194.6 123.1,196.0 123.2,191.3 123.3,193.9 123.4,193.8 123.6,194.4 123.7,191.3 123.8,188.9 123.9,188.3 124.0,193.0 124.2,198.1 124.3,195.2 124.4,194.3 124.5,197.9 124.6,196.7 124.8,191.9 124.9,197.8 125.0,196.1 125.1,195.9 125.2,197.5 125.4,199.2 125.5,202.2 125.6,196.7 125.7,195.8 125.8,195.3 126.0,197.2 126.1,203.8 126.2,200.2 126.3,199.0 126.4,198.9 126.6,198.3 126.7,199.5 126.8,196.9 126.9,200.3 127.0,200.3 127.2,199.9 127.3,196.3 127.4,195.8 127.5,194.3 127.6,196.0 127.8,194.5 127.9,196.1 128.0,197.5 128.1,198.9 128.2,191.7 128.4,194.7 128.5,193.9 128.6,201.4 128.7,196.2 128.8,201.7 129.0,196.7 129.1,198.0 129.2,192.0 129.3,192.5 129.4,194.8 129.6,195.9 129.7,195.8 129.8,200.5 129.9,203.5 130.0,202.9 130.2,199.4 130.3,197.3 130.4,200.6 130.5,193.3 130.6,200.2 130.8,201.3 130.9,198.3 131.0,202.4 131.1,200.3 131.2,206.1 131.4,201.7 131.5,200.3 131.6,201.7 131.7,203.7 131.8,201.0 132.0,208.2 132.1,201.4 132.2,206.5 132.3,200.4 132.4,200.0 132.6,199.4 132.7,202.9 132.8,205.5 132.9,206.9 133.0,203.1 133.2,199.5 133.3,197.7 133.4,197.0 133.5,192.6 133.6,199.2 133.8,195.8 133.9,198.5 134.0,197.7 134.1,196.7 134.2,197.5 134.4,200.4 134.5,199.3 134.6,198.9 134.7,193.9 134.8,194.1 135.0,199.4 135.1,195.3 135.2,198.8 135.3,198.7 135.4,197.7 135.6,197.1 135.7,194.9 135.8,198.3 135.9,194.8 136.0,198.4 136.2,194.8 136.3,198.6 136.4,199.6 136.5,197.2 136.6,196.4 136.8,195.9 136.9,195.3 137.0,189.1 137.1,189.9 137.2,192.5 137.4,192.9 137.5,191.9 137.6,190.7 137.7,194.8 137.8,192.6 138.0,194.4 138.1,194.5 138.2,200.2 138.3,193.5 138.4,199.5 138.6,195.0 138.7,196.3 138.8,197.4 138.9,196.5 139.0,203.6 139.2,199.5 139.3,195.9 139.4,204.3 139.5,194.9 139.6,196.0 139.8,195.6 139.9,195.9 140.0,196.8 140.1,200.5 140.2,193.4 140.4,196.8 140.5,196.5 140.6,193.8 140.7,193.2 140.8,197.0 141.0,194.0 141.1,195.4 141.2,196.0 141.3,195.0 141.4,194.6 141.6,193.7 141.7,195.4 141.8,197.7 141.9,199.6 142.0,198.6 142.2,198.9 142.3,196.3 142.4,195.1 142.5,199.2 142.6,193.9 142.8,192.4 142.9,198.2 143.0,194.9 143.1,193.9 143.2,194.3 143.4,197.9 143.5,193.5 143.6,196.0 143.7,191.7 143.8,192.4 144.0,197.2 144.1,193.7 144.2,193.5 144.3,196.3 144.4,194.6 144.6,191.5 144.7,196.3 144.8,188.6 144.9,192.6 145.0,193.6 145.2,201.6 145.3,201.4 145.4,196.7 145.5,196.4 145.6,196.6 145.8,192.9 145.9,189.5 146.0,190.5 146.1,192.8 146.2,189.7 146.4,189.5 146.5,191.9 146.6,191.2 146.7,190.4 146.8,191.8 147.0,190.6 147.1,192.4 147.2,191.6 147.3,190.6 147.4,185.4 147.6,187.5 147.7,187.7 147.8,191.0 147.9,189.3 148.0,191.4 148.2,192.4 148.3,190.9 148.4,195.3 148.5,195.7 148.6,191.3 148.8,194.9 148.9,190.1 149.0,189.1 149.1,186.8 149.2,182.7 149.4,187.6 149.5,189.0 149.6,183.4 149.7,190.0 149.8,191.2 150.0,192.6 150.1,192.4 150.2,192.8 150.3,190.2 150.4,193.2 150.6,189.5 150.7,188.8 150.8,188.6 150.9,188.9 151.0,188.9 151.2,190.3 151.3,193.9 151.4,185.4 151.5,185.0 151.6,183.8 151.8,188.2 151.9,189.0 152.0,190.7 152.1,189.2 152.2,193.4 152.4,187.1 152.5,187.0 152.6,187.3 152.7,188.5 152.8,190.7 153.0,188.8 153.1,185.1 153.2,184.3 153.3,188.0 153.4,184.4 153.6,183.9 153.7,187.5 153.8,190.5 153.9,193.4 154.0,193.2 154.2,187.4 154.3,186.1 154.4,182.1 154.5,185.1 154.6,182.4 154.8,186.4 154.9,183.4 155.0,180.8 155.1,181.4 155.2,183.2 155.4,183.1 155.5,189.6 155.6,182.7 155.7,184.2 155.8,188.8 156.0,189.6 156.1,184.2 156.2,190.2 156.3,185.4 156.4,185.1 156.6,183.2 156.7,187.5 156.8,194.0 156.9,192.2 157.0,189.4 157.2,187.4 157.3,195.0 157.4,195.0 157.5,191.0 157.6,196.8 157.8,189.1 157.9,189.3 158.0,192.7 158.1,187.4 158.2,192.0 158.4,192.7 158.5,192.6 158.6,196.9 158.7,200.2 158.8,197.4 159.0,200.8 159.1,199.0 159.2,191.5 159.3,196.5 159.4,195.0 159.6,190.4 159.7,191.3 159.8,189.0 159.9,188.1 160.0,185.6 160.2,187.6 160.3,190.1 160.4,191.0 160.5,190.1 160.6,190.7 160.8,188.3 160.9,190.9 161.0,185.0 161.1,188.7 161.2,191.1 161.4,189.0 161.5,191.5 161.6,192.3 161.7,190.5 161.8,185.2 162.0,186.9 162.1,184.3 162.2,190.7 162.3,191.0 162.4,189.2 162.6,193.5 162.7,193.4 162.8,196.9 162.9,193.1 163.0,194.0 163.2,194.2 163.3,193.8 163.4,195.4 163.5,194.5 163.6,193.0 163.8,194.6 163.9,197.1 164.0,193.2 164.1,194.3 164.2,196.9 164.4,197.3 164.5,196.8 164.6,195.5 164.7,194.0 164.8,189.8 165.0,191.5 165.1,186.7 165.2,186.3 165.3,191.7 165.4,188.5 165.6,185.0 165.7,191.0 165.8,187.6 165.9,187.4 166.0,189.9 166.2,186.6 166.3,190.6 166.4,191.4 166.5,190.3 166.6,187.7 166.8,185.8 166.9,185.0 167.0,189.2 167.1,182.9 167.2,187.4 167.4,187.1 167.5,189.1 167.6,184.6 167.7,191.7 167.8,187.8 168.0,191.9 168.1,190.2 168.2,184.9 168.3,189.1 168.4,188.4 168.6,190.1 168.7,186.5 168.8,185.2 168.9,185.8 169.0,182.4 169.2,182.0 169.3,182.4 169.4,180.5 169.5,179.8 169.6,179.8 169.8,175.7 169.9,180.8 170.0,180.2 170.1,182.4 170.2,179.2 170.4,184.7 170.5,176.6 170.6,177.4 170.7,176.0 170.8,177.1 171.0,179.6 171.1,178.6 171.2,180.7 171.3,182.1 171.4,180.9 171.6,177.0 171.7,183.3 171.8,179.9 171.9,183.1 172.0,184.3 172.2,181.4 172.3,182.1 172.4,187.1 172.5,181.1 172.6,180.9 172.8,183.7 172.9,184.3 173.0,182.5 173.1,182.2 173.2,188.9 173.4,181.9 173.5,181.3 173.6,182.5 173.7,181.4 173.8,181.6 174.0,184.5 174.1,179.7 174.2,180.4 174.3,179.9 174.4,177.8 174.6,179.5 174.7,175.0 174.8,177.8 174.9,171.6 175.0,180.2 175.2,180.8 175.3,185.7 175.4,177.0 175.5,180.3 175.6,179.6 175.8,175.4 175.9,179.5 176.0,179.6 176.1,178.9 176.2,176.1 176.4,177.9 176.5,171.5 176.6,167.3 176.7,171.3 176.8,167.6 177.0,172.6 177.1,172.0 177.2,167.7 177.3,166.0 177.4,167.0 177.6,166.7 177.7,169.2 177.8,171.4 177.9,176.1 178.0,165.5 178.2,167.2 178.3,168.3 178.4,168.9 178.5,171.1 178.6,165.9 178.8,169.4 178.9,161.4 179.0,165.5 179.1,168.3 179.2,170.0 179.4,164.9 179.5,166.1 179.6,164.7 179.7,167.2 179.8,164.7 180.0,168.4 180.1,164.6 180.2,166.9 180.3,165.9 180.4,163.9 180.6,168.9 180.7,166.9 180.8,160.5 180.9,166.3 181.0,164.6 181.2,165.6 181.3,163.7 181.4,160.0 181.5,163.6 181.6,157.0 181.8,160.3 181.9,163.3 182.0,167.3 182.1,167.3 182.2,169.0 182.4,171.1 182.5,166.0 182.6,172.7 182.7,169.8 182.8,169.8 183.0,168.9 183.1,172.2 183.2,172.6 183.3,176.5 183.4,171.8 183.6,174.8 183.7,178.7 183.8,180.9 183.9,177.7 184.0,172.9 184.2,168.9 184.3,171.0 184.4,172.0 184.5,167.4 184.6,173.3 184.8,177.9 184.9,172.5 185.0,173.2 185.1,175.5 185.2,175.3 185.4,182.7 185.5,177.6 185.6,182.8 185.7,181.0 185.8,179.6 186.0,173.1 186.1,177.6 186.2,177.3 186.3,179.5 186.4,178.0 186.6,174.4 186.7,179.4 186.8,181.6 186.9,180.4 187.0,175.2 187.2,178.5 187.3,175.8 187.4,175.5 187.5,180.3 187.6,175.2 187.8,186.9 187.9,183.4 188.0,179.9 188.1,178.4 188.2,178.5 188.4,179.6 188.5,178.7 188.6,184.0 188.7,182.0 188.8,185.1 189.0,191.8 189.1,188.2 189.2,185.7 189.3,190.7 189.4,187.5 189.6,189.5 189.7,186.7 189.8,193.0 189.9,192.4 190.0,195.4 190.2,194.0 190.3,197.3 190.4,197.4 190.5,192.4 190.6,189.1 190.8,189.7 190.9,187.9 191.0,193.0 191.1,188.7 191.2,185.4 191.4,192.7 191.5,196.0 191.6,192.2 191.7,193.2 191.8,187.0 192.0,190.2 192.1,188.1 192.2,191.8 192.3,195.0 192.4,192.9 192.6,197.9 192.7,195.8 192.8,197.7 192.9,200.0 193.0,195.1 193.2,195.2 193.3,197.8 193.4,196.2 193.5,193.6 193.6,192.6 193.8,196.6 193.9,193.6 194.0,194.4 194.1,190.0 194.2,193.1 194.4,187.3 194.5,190.6 194.6,191.2 194.7,189.1 194.8,189.6 195.0,189.3 195.1,188.6 195.2,196.2 195.3,188.2 195.4,191.6 195.6,196.5 195.7,196.3 195.8,199.8 195.9,198.8 196.0,196.5 196.2,195.2 196.3,193.5 196.4,194.3 196.5,199.3 196.6,196.9 196.8,197.2 196.9,190.6 197.0,192.7 197.1,191.2 197.2,191.1 197.4,187.6 197.5,192.7 197.6,195.2 197.7,197.7 197.8,192.8 198.0,196.4 198.1,195.4 198.2,193.4 198.3,192.4 198.4,195.6 198.6,187.7 198.7,189.9 198.8,186.7 198.9,191.4 199.0,188.9 199.2,190.1 199.3,192.9 199.4,191.3 199.5,196.2 199.6,194.5 199.8,199.5 199.9,190.9 200.0,192.2 200.1,194.3 200.2,193.4 200.4,195.6 200.5,193.1 200.6,195.8 200.7,195.0 200.8,197.1 201.0,189.1 201.1,189.2 201.2,187.6 201.3,189.4 201.4,186.1 201.6,191.4 201.7,188.4 201.8,193.9 201.9,194.1 202.0,187.6 202.2,190.3 202.3,182.6 202.4,189.9 202.5,182.6 202.6,187.2 202.8,189.5 202.9,187.8 203.0,187.7 203.1,194.4 203.2,191.3 203.4,193.7 203.5,190.8 203.6,198.6 203.7,191.8 203.8,195.2 204.0,192.6 204.1,192.1 204.2,193.8 204.3,190.7 204.4,192.0 204.6,194.6 204.7,188.3 204.8,187.1 204.9,189.2 205.0,185.5 205.2,188.2 205.3,190.3 205.4,192.1 205.5,193.8 205.6,193.8 205.8,192.3 205.9,194.1 206.0,192.5 206.1,191.9 206.2,197.3 206.4,192.7 206.5,197.4 206.6,191.8 206.7,193.8 206.8,182.2 207.0,189.4 207.1,186.0 207.2,192.5 207.3,193.2 207.4,190.2 207.6,191.8 207.7,192.7 207.8,189.4 207.9,188.1 208.0,190.3 208.2,184.3 208.3,193.0 208.4,192.0 208.5,184.1 208.6,187.5 208.8,189.9 208.9,195.7 209.0,189.6 209.1,186.3 209.2,192.5 209.4,191.0 209.5,188.1 209.6,192.3 209.7,185.5 209.8,186.8 210.0,190.2 210.1,189.7 210.2,188.9 210.3,184.9 210.4,188.1 210.6,179.9 210.7,179.3 210.8,184.7 210.9,185.6 211.0,188.2 211.2,189.9 211.3,188.0 211.4,183.1 211.5,186.0 211.6,187.1 211.8,182.3 211.9,187.4 212.0,185.7 212.1,178.0 212.2,181.6 212.4,175.1 212.5,177.9 212.6,177.0 212.7,176.4 212.8,173.6 213.0,178.4 213.1,175.6 213.2,176.5 213.3,174.0 213.4,180.3 213.6,185.0 213.7,182.1 213.8,183.8 213.9,182.0 214.0,186.1 214.2,186.3 214.3,183.8 214.4,185.8 214.5,187.9 214.6,189.8 214.8,187.4 214.9,189.9 215.0,190.4 215.1,188.4 215.2,183.1 215.4,179.7 215.5,185.1 215.6,185.7 215.7,189.7 215.8,189.0 216.0,195.4 216.1,185.3 216.2,185.6 216.3,181.7 216.4,180.3 216.6,185.2 216.7,188.4 216.8,191.3 216.9,183.1 217.0,192.7 217.2,192.4 217.3,191.9 217.4,190.4 217.5,188.7 217.6,190.3 217.8,194.2 217.9,189.0 218.0,194.1 218.1,193.0 218.2,189.9 218.4,195.5 218.5,190.2 218.6,189.9 218.7,189.1 218.8,188.6 219.0,190.7 219.1,181.6 219.2,184.3 219.3,188.6 219.4,189.7 219.6,184.9 219.7,193.6 219.8,186.1 219.9,192.7 220.0,186.5 220.2,188.4 220.3,193.9 220.4,190.0 220.5,190.1 220.6,192.2 220.8,195.9 220.9,189.9 221.0,189.6 221.1,190.6 221.2,187.1 221.4,186.4 221.5,190.3 221.6,190.8 221.7,187.2 221.8,188.2 222.0,189.8 222.1,188.5 222.2,180.6 222.3,184.9 222.4,184.2 222.6,188.6 222.7,186.6 222.8,187.0 222.9,183.6 223.0,181.7 223.2,177.9 223.3,185.6 223.4,184.0 223.5,185.0 223.6,182.9 223.8,184.9 223.9,186.3 224.0,180.0 224.1,182.2 224.2,177.2 224.4,179.1 224.5,177.7 224.6,178.8 224.7,184.8 224.8,183.7 225.0,184.5 225.1,186.7 225.2,187.1 225.3,185.4 225.4,182.4 225.6,182.6 225.7,183.9 225.8,185.2 225.9,181.9 226.0,188.4 226.2,187.3 226.3,187.8 226.4,183.5 226.5,182.6 226.6,186.1 226.8,181.7 226.9,182.1 227.0,181.4 227.1,182.8 227.2,179.3 227.4,183.3 227.5,184.7 227.6,181.9 227.7,184.9 227.8,183.7 228.0,181.3 228.1,186.0 228.2,185.4 228.3,183.0 228.4,183.4" fill="none" stroke="#C44E52" stroke-width="1.0" stroke-opacity="0.7" stroke-linejoin="round"/>
<text x="26.90" y="161.10" font-size="6.5" text-anchor="end" >1.15</text>
<text x="26.90" y="188.00" font-size="6.5" text-anchor="end" >1.10</text>
<text x="26.90" y="214.80" font-size="6.5" text-anchor="end" >1.05</text>
<text transform="translate(7.5,187) rotate(-90)" font-size="7" text-anchor="middle"><tspan font-style="italic">z</tspan> (m)</text>
<text x="48.75" y="229.20" font-size="6.5" text-anchor="middle" >15</text>
<text x="78.39" y="229.20" font-size="6.5" text-anchor="middle" >20</text>
<text x="108.03" y="229.20" font-size="6.5" text-anchor="middle" >25</text>
<text x="137.68" y="229.20" font-size="6.5" text-anchor="middle" >30</text>
<text x="167.32" y="229.20" font-size="6.5" text-anchor="middle" >35</text>
<text x="196.96" y="229.20" font-size="6.5" text-anchor="middle" >40</text>
<text x="226.60" y="229.20" font-size="6.5" text-anchor="middle" >45</text>
<text x="135.3" y="238" font-size="7" text-anchor="middle"><tspan font-style="italic">t</tspan> (s)</text>
<text x="187" y="239.6" class="cap" fill="#2a2a2a" font-size="7.3" text-anchor="start" font-family="'DejaVu Serif','Liberation Serif',serif" textLength="59" lengthAdjust="spacingAndGlyphs">+1.3418391*10<tspan font-size="4.6" dy="-3">9</tspan></text>
<rect x="301.3" y="5.5" width="205.3" height="213.3" fill="#EAEAF2"/>
<line x1="301.3" y1="214.60" x2="506.6" y2="214.60" stroke="#fff" stroke-width="0.9"/>
<line x1="301.3" y1="182.07" x2="506.6" y2="182.07" stroke="#fff" stroke-width="0.9"/>
<line x1="301.3" y1="149.54" x2="506.6" y2="149.54" stroke="#fff" stroke-width="0.9"/>
<line x1="301.3" y1="117.01" x2="506.6" y2="117.01" stroke="#fff" stroke-width="0.9"/>
<line x1="301.3" y1="84.48" x2="506.6" y2="84.48" stroke="#fff" stroke-width="0.9"/>
<line x1="301.3" y1="51.95" x2="506.6" y2="51.95" stroke="#fff" stroke-width="0.9"/>
<line x1="301.3" y1="19.42" x2="506.6" y2="19.42" stroke="#fff" stroke-width="0.9"/>
<line x1="335.2" y1="209.5" x2="335.2" y2="155.3" stroke="#464646" stroke-width="1.15"/>
<line x1="321.4" y1="209.5" x2="349.0" y2="209.5" stroke="#464646" stroke-width="1.15"/>
<line x1="321.4" y1="155.3" x2="349.0" y2="155.3" stroke="#464646" stroke-width="1.15"/>
<rect x="307.59999999999997" y="177" width="55.2" height="15" fill="#5875A4" stroke="#464646" stroke-width="1.15"/>
<line x1="307.59999999999997" y1="185.4" x2="362.8" y2="185.4" stroke="#464646" stroke-width="1.15"/>
<path d="M335.2 149.075L336.95 151.7L335.2 154.325L333.45 151.7Z" fill="#464646"/>
<path d="M335.2 132.375L336.95 135L335.2 137.625L333.45 135Z" fill="#464646"/>
<line x1="404" y1="173.8" x2="404" y2="45.5" stroke="#464646" stroke-width="1.15"/>
<line x1="390" y1="173.8" x2="418" y2="173.8" stroke="#464646" stroke-width="1.15"/>
<line x1="390" y1="45.5" x2="418" y2="45.5" stroke="#464646" stroke-width="1.15"/>
<rect x="376.4" y="76.5" width="55.2" height="61.900000000000006" fill="#5F9E6E" stroke="#464646" stroke-width="1.15"/>
<line x1="376.4" y1="108.7" x2="431.6" y2="108.7" stroke="#464646" stroke-width="1.15"/>
<line x1="472.8" y1="201.3" x2="472.8" y2="24.3" stroke="#464646" stroke-width="1.15"/>
<line x1="458.40000000000003" y1="201.3" x2="487.2" y2="201.3" stroke="#464646" stroke-width="1.15"/>
<line x1="458.40000000000003" y1="24.3" x2="487.2" y2="24.3" stroke="#464646" stroke-width="1.15"/>
<rect x="445.2" y="100.5" width="55.2" height="50.30000000000001" fill="#B55D60" stroke="#464646" stroke-width="1.15"/>
<line x1="445.2" y1="131.4" x2="500.40000000000003" y2="131.4" stroke="#464646" stroke-width="1.15"/>
<path d="M472.8 20.375L474.55 23L472.8 25.625L471.05 23Z" fill="#464646"/>
<path d="M472.8 18.975L474.55 21.6L472.8 24.225L471.05 21.6Z" fill="#464646"/>
<path d="M472.8 17.575L474.55 20.2L472.8 22.825L471.05 20.2Z" fill="#464646"/>
<path d="M472.8 16.175L474.55 18.8L472.8 21.425L471.05 18.8Z" fill="#464646"/>
<path d="M472.8 14.975000000000001L474.55 17.6L472.8 20.225L471.05 17.6Z" fill="#464646"/>
<path d="M472.8 11.975L474.55 14.6L472.8 17.225L471.05 14.6Z" fill="#464646"/>
<text x="295.30" y="217.00" font-size="6.5" text-anchor="end" >0.00</text>
<text x="295.30" y="184.47" font-size="6.5" text-anchor="end" >0.02</text>
<text x="295.30" y="151.94" font-size="6.5" text-anchor="end" >0.04</text>
<text x="295.30" y="119.41" font-size="6.5" text-anchor="end" >0.06</text>
<text x="295.30" y="86.88" font-size="6.5" text-anchor="end" >0.08</text>
<text x="295.30" y="54.35" font-size="6.5" text-anchor="end" >0.10</text>
<text x="295.30" y="21.82" font-size="6.5" text-anchor="end" >0.12</text>
<text transform="translate(277.3,112) rotate(-90)" font-size="7" text-anchor="middle">APE (unit-less)</text>
<text x="335.20" y="230.20" font-size="6.5" text-anchor="middle" >ORB-SLAM2.txt</text>
<text x="404.00" y="230.20" font-size="6.5" text-anchor="middle" >ORB-SLAM3.txt</text>
<text x="472.80" y="230.20" font-size="6.5" text-anchor="middle" >Proposed.txt</text>
<text x="404.00" y="239.50" font-size="7" text-anchor="middle" >estimate</text>
<rect x="570.8" y="21.3" width="205.0" height="196.7" fill="#EAEAF2"/>
<line x1="578.50" y1="21.3" x2="578.50" y2="218" stroke="#fff" stroke-width="0.9"/>
<line x1="611.08" y1="21.3" x2="611.08" y2="218" stroke="#fff" stroke-width="0.9"/>
<line x1="643.67" y1="21.3" x2="643.67" y2="218" stroke="#fff" stroke-width="0.9"/>
<line x1="676.25" y1="21.3" x2="676.25" y2="218" stroke="#fff" stroke-width="0.9"/>
<line x1="708.83" y1="21.3" x2="708.83" y2="218" stroke="#fff" stroke-width="0.9"/>
<line x1="741.42" y1="21.3" x2="741.42" y2="218" stroke="#fff" stroke-width="0.9"/>
<line x1="774.00" y1="21.3" x2="774.00" y2="218" stroke="#fff" stroke-width="0.9"/>
<line x1="570.8" y1="214.25" x2="775.8" y2="214.25" stroke="#fff" stroke-width="0.9"/>
<line x1="570.8" y1="184.25" x2="775.8" y2="184.25" stroke="#fff" stroke-width="0.9"/>
<line x1="570.8" y1="154.25" x2="775.8" y2="154.25" stroke="#fff" stroke-width="0.9"/>
<line x1="570.8" y1="124.25" x2="775.8" y2="124.25" stroke="#fff" stroke-width="0.9"/>
<line x1="570.8" y1="94.25" x2="775.8" y2="94.25" stroke="#fff" stroke-width="0.9"/>
<line x1="570.8" y1="64.25" x2="775.8" y2="64.25" stroke="#fff" stroke-width="0.9"/>
<line x1="570.8" y1="34.25" x2="775.8" y2="34.25" stroke="#fff" stroke-width="0.9"/>
<polyline points="571.0,189.1 571.1,188.3 571.2,187.8 571.3,181.7 571.4,180.9 571.5,181.8 571.6,185.8 571.7,186.4 571.8,185.4 571.9,185.0 572.0,189.2 572.2,188.0 572.3,187.1 572.4,186.4 572.5,194.1 572.6,184.0 572.7,187.4 572.8,187.5 572.9,190.5 573.0,186.2 573.1,179.9 573.2,188.4 573.3,190.0 573.4,182.9 573.5,185.1 573.6,183.6 573.7,188.5 573.8,179.2 573.9,176.2 574.0,192.8 574.1,177.9 574.2,172.9 574.3,178.2 574.4,177.3 574.6,171.6 574.7,164.7 574.8,169.8 574.9,170.4 575.0,174.2 575.1,176.4 575.2,180.5 575.3,173.6 575.4,181.1 575.5,174.8 575.6,176.0 575.7,174.9 575.8,176.9 575.9,182.6 576.0,183.2 576.1,176.7 576.2,184.0 576.3,184.7 576.4,186.4 576.5,184.7 576.6,189.8 576.7,184.8 576.8,184.2 576.9,186.4 577.1,178.2 577.2,182.5 577.3,180.1 577.4,172.8 577.5,176.6 577.6,178.9 577.7,173.6 577.8,178.4 577.9,179.9 578.0,175.9 578.1,186.0 578.2,185.9 578.3,183.5 578.4,187.1 578.5,184.8 578.6,184.1 578.7,183.3 578.8,180.5 578.9,179.5 579.0,182.9 579.1,178.2 579.2,182.9 579.3,181.2 579.5,186.5 579.6,180.4 579.7,185.6 579.8,184.7 579.9,183.7 580.0,180.4 580.1,188.6 580.2,185.4 580.3,181.4 580.4,185.3 580.5,182.4 580.6,183.7 580.7,179.8 580.8,182.1 580.9,185.2 581.0,186.1 581.1,184.3 581.2,187.2 581.3,184.1 581.4,183.2 581.5,183.5 581.6,182.5 581.7,190.9 581.8,189.5 582.0,184.9 582.1,180.7 582.2,184.0 582.3,181.0 582.4,177.6 582.5,174.2 582.6,177.8 582.7,179.0 582.8,178.0 582.9,177.8 583.0,179.3 583.1,174.8 583.2,185.7 583.3,186.0 583.4,183.9 583.5,185.2 583.6,182.2 583.7,182.8 583.8,175.8 583.9,176.1 584.0,181.3 584.1,183.7 584.2,178.2 584.4,179.7 584.5,182.9 584.6,177.6 584.7,181.2 584.8,180.0 584.9,181.1 585.0,180.1 585.1,180.8 585.2,179.4 585.3,179.6 585.4,181.5 585.5,172.1 585.6,175.2 585.7,174.4 585.8,175.0 585.9,176.6 586.0,180.2 586.1,180.0 586.2,182.5 586.3,177.9 586.4,180.7 586.5,178.1 586.6,177.6 586.8,178.9 586.9,177.4 587.0,176.2 587.1,177.2 587.2,179.6 587.3,172.1 587.4,183.6 587.5,182.0 587.6,182.8 587.7,181.6 587.8,180.2 587.9,181.0 588.0,181.1 588.1,175.2 588.2,187.1 588.3,182.3 588.4,183.1 588.5,185.9 588.6,187.3 588.7,179.8 588.8,176.1 588.9,175.8 589.0,179.5 589.1,182.7 589.3,183.4 589.4,186.5 589.5,185.4 589.6,186.1 589.7,186.5 589.8,186.6 589.9,180.9 590.0,177.4 590.1,186.3 590.2,177.2 590.3,176.7 590.4,177.8 590.5,184.5 590.6,185.4 590.7,177.7 590.8,183.8 590.9,187.0 591.0,188.8 591.1,182.8 591.2,178.5 591.3,187.9 591.4,180.2 591.5,179.8 591.7,176.4 591.8,173.5 591.9,175.5 592.0,173.6 592.1,177.0 592.2,168.0 592.3,165.4 592.4,176.5 592.5,168.0 592.6,172.2 592.7,177.4 592.8,171.8 592.9,175.9 593.0,174.9 593.1,186.9 593.2,189.2 593.3,190.6 593.4,185.0 593.5,188.7 593.6,181.7 593.7,174.0 593.8,173.3 593.9,169.1 594.0,170.0 594.2,169.8 594.3,171.2 594.4,174.6 594.5,170.8 594.6,174.3 594.7,173.7 594.8,172.1 594.9,165.9 595.0,175.1 595.1,173.3 595.2,167.3 595.3,171.2 595.4,174.3 595.5,177.5 595.6,170.3 595.7,174.8 595.8,179.8 595.9,168.7 596.0,173.4 596.1,179.4 596.2,180.2 596.3,167.8 596.4,169.3 596.6,166.5 596.7,164.4 596.8,167.4 596.9,162.9 597.0,164.4 597.1,170.0 597.2,165.1 597.3,164.2 597.4,168.7 597.5,169.6 597.6,175.1 597.7,171.0 597.8,170.0 597.9,174.7 598.0,165.2 598.1,168.5 598.2,165.8 598.3,165.7 598.4,167.6 598.5,165.8 598.6,173.2 598.7,167.6 598.8,174.9 598.9,172.3 599.1,172.2 599.2,173.6 599.3,176.5 599.4,173.0 599.5,171.0 599.6,181.6 599.7,178.1 599.8,171.6 599.9,165.4 600.0,170.7 600.1,170.0 600.2,165.6 600.3,169.6 600.4,178.2 600.5,172.2 600.6,165.5 600.7,164.1 600.8,173.2 600.9,173.5 601.0,171.0 601.1,170.2 601.2,173.7 601.3,170.6 601.5,162.6 601.6,162.6 601.7,171.1 601.8,171.1 601.9,173.1 602.0,177.2 602.1,177.6 602.2,177.7 602.3,178.2 602.4,176.9 602.5,177.5 602.6,182.9 602.7,180.3 602.8,188.6 602.9,179.5 603.0,183.4 603.1,175.8 603.2,181.4 603.3,180.6 603.4,179.4 603.5,173.8 603.6,180.9 603.7,180.3 603.8,183.8 604.0,183.1 604.1,187.1 604.2,180.0 604.3,177.9 604.4,177.9 604.5,172.2 604.6,170.9 604.7,170.5 604.8,178.3 604.9,176.9 605.0,174.6 605.1,171.4 605.2,179.1 605.3,178.6 605.4,173.1 605.5,173.1 605.6,175.3 605.7,176.7 605.8,173.5 605.9,167.4 606.0,168.4 606.1,176.4 606.2,167.6 606.4,171.8 606.5,174.4 606.6,164.3 606.7,165.0 606.8,171.0 606.9,174.9 607.0,169.5 607.1,173.7 607.2,171.8 607.3,170.5 607.4,177.5 607.5,169.1 607.6,169.1 607.7,171.9 607.8,166.9 607.9,167.9 608.0,167.7 608.1,170.4 608.2,166.8 608.3,170.7 608.4,172.8 608.5,173.9 608.6,175.8 608.8,181.0 608.9,170.8 609.0,174.1 609.1,173.8 609.2,173.9 609.3,177.6 609.4,177.3 609.5,174.5 609.6,181.5 609.7,176.3 609.8,173.9 609.9,171.3 610.0,170.8 610.1,171.5 610.2,165.7 610.3,164.4 610.4,165.3 610.5,168.5 610.6,171.4 610.7,166.1 610.8,168.1 610.9,174.5 611.0,177.2 611.1,174.9 611.3,172.7 611.4,170.5 611.5,168.1 611.6,169.1 611.7,172.9 611.8,169.7 611.9,168.6 612.0,170.3 612.1,181.1 612.2,170.8 612.3,169.1 612.4,174.0 612.5,166.6 612.6,166.4 612.7,167.6 612.8,173.5 612.9,164.7 613.0,164.8 613.1,165.3 613.2,172.2 613.3,173.5 613.4,172.0 613.5,174.2 613.7,167.1 613.8,175.1 613.9,167.4 614.0,165.6 614.1,158.8 614.2,166.1 614.3,162.5 614.4,163.6 614.5,168.6 614.6,163.5 614.7,162.4 614.8,169.4 614.9,163.8 615.0,169.1 615.1,172.1 615.2,173.5 615.3,170.7 615.4,170.9 615.5,166.3 615.6,165.3 615.7,166.3 615.8,169.9 615.9,157.8 616.0,163.6 616.2,162.7 616.3,164.5 616.4,162.8 616.5,163.7 616.6,169.6 616.7,168.1 616.8,164.0 616.9,173.7 617.0,166.6 617.1,166.4 617.2,168.0 617.3,175.5 617.4,167.7 617.5,169.9 617.6,162.6 617.7,171.4 617.8,169.1 617.9,164.0 618.0,175.1 618.1,170.0 618.2,168.8 618.3,176.5 618.4,172.4 618.6,171.1 618.7,171.2 618.8,168.1 618.9,146.9 619.0,176.4 619.1,171.6 619.2,174.1 619.3,172.6 619.4,177.8 619.5,168.4 619.6,170.8 619.7,177.9 619.8,177.3 619.9,179.8 620.0,178.4 620.1,173.4 620.2,179.0 620.3,167.6 620.4,171.0 620.5,169.8 620.6,168.9 620.7,162.8 620.8,168.5 620.9,171.0 621.1,170.0 621.2,170.9 621.3,173.8 621.4,175.9 621.5,182.7 621.6,162.5 621.7,186.5 621.8,179.5 621.9,184.4 622.0,189.9 622.1,183.8 622.2,183.1 622.3,185.6 622.4,192.7 622.5,193.2 622.6,189.2 622.7,185.4 622.8,192.6 622.9,192.6 623.0,191.7 623.1,192.8 623.2,185.4 623.3,191.5 623.5,188.4 623.6,190.5 623.7,188.5 623.8,190.3 623.9,191.4 624.0,188.9 624.1,182.8 624.2,188.9 624.3,194.6 624.4,188.9 624.5,191.9 624.6,187.9 624.7,188.2 624.8,192.8 624.9,189.8 625.0,188.1 625.1,190.6 625.2,193.5 625.3,193.8 625.4,198.1 625.5,194.9 625.6,193.9 625.7,200.3 625.9,196.7 626.0,193.3 626.1,197.1 626.2,193.1 626.3,198.5 626.4,199.2 626.5,194.8 626.6,193.5 626.7,197.9 626.8,188.4 626.9,188.5 627.0,192.3 627.1,188.6 627.2,186.8 627.3,191.5 627.4,185.9 627.5,192.9 627.6,196.9 627.7,187.8 627.8,193.2 627.9,189.7 628.0,187.1 628.1,187.4 628.2,176.6 628.4,177.4 628.5,186.5 628.6,185.4 628.7,182.7 628.8,198.6 628.9,188.3 629.0,191.5 629.1,192.5 629.2,191.3 629.3,194.4 629.4,202.8 629.5,198.8 629.6,198.9 629.7,192.7 629.8,204.2 629.9,196.8 630.0,196.8 630.1,193.5 630.2,191.7 630.3,200.9 630.4,189.0 630.5,188.4 630.6,190.1 630.8,187.1 630.9,192.2 631.0,187.3 631.1,188.1 631.2,194.4 631.3,191.9 631.4,193.3 631.5,195.1 631.6,195.0 631.7,191.3 631.8,199.3 631.9,192.8 632.0,199.2 632.1,192.7 632.2,198.4 632.3,198.2 632.4,191.9 632.5,195.4 632.6,188.3 632.7,194.1 632.8,184.4 632.9,188.1 633.0,190.7 633.1,189.1 633.3,187.1 633.4,178.4 633.5,182.5 633.6,185.5 633.7,182.6 633.8,187.0 633.9,187.9 634.0,193.4 634.1,197.6 634.2,194.4 634.3,193.7 634.4,189.7 634.5,192.9 634.6,191.3 634.7,189.1 634.8,185.6 634.9,187.9 635.0,191.9 635.1,188.7 635.2,195.5 635.3,195.9 635.4,187.4 635.5,196.6 635.7,186.8 635.8,193.1 635.9,192.0 636.0,197.4 636.1,204.1 636.2,200.9 636.3,198.3 636.4,190.7 636.5,196.5 636.6,196.4 636.7,187.4 636.8,195.8 636.9,194.3 637.0,190.3 637.1,186.6 637.2,201.5 637.3,205.3 637.4,198.6 637.5,196.1 637.6,196.0 637.7,196.2 637.8,197.5 637.9,187.6 638.0,191.3 638.2,193.5 638.3,190.3 638.4,189.5 638.5,194.1 638.6,189.4 638.7,198.8 638.8,196.3 638.9,207.0 639.0,201.8 639.1,201.6 639.2,205.4 639.3,207.1 639.4,205.2 639.5,204.5 639.6,201.8 639.7,196.1 639.8,191.8 639.9,197.4 640.0,195.3 640.1,195.1 640.2,191.0 640.3,189.6 640.4,195.5 640.6,194.2 640.7,194.9 640.8,194.4 640.9,197.6 641.0,200.3 641.1,190.7 641.2,186.2 641.3,194.1 641.4,196.3 641.5,195.0 641.6,194.6 641.7,203.5 641.8,199.2 641.9,200.3 642.0,208.2 642.1,203.0 642.2,196.7 642.3,196.7 642.4,199.2 642.5,202.0 642.6,197.3 642.7,196.8 642.8,195.7 642.9,192.5 643.1,196.5 643.2,193.5 643.3,192.4 643.4,187.2 643.5,190.7 643.6,182.7 643.7,193.5 643.8,191.8 643.9,187.9 644.0,189.4 644.1,188.4 644.2,191.8 644.3,192.6 644.4,197.7 644.5,198.9 644.6,193.9 644.7,197.2 644.8,194.2 644.9,186.8 645.0,189.2 645.1,183.9 645.2,185.7 645.3,191.3 645.5,195.6 645.6,195.4 645.7,197.8 645.8,198.5 645.9,188.6 646.0,188.7 646.1,192.2 646.2,195.2 646.3,190.9 646.4,193.7 646.5,190.2 646.6,194.1 646.7,190.6 646.8,193.5 646.9,191.6 647.0,192.2 647.1,196.4 647.2,192.3 647.3,194.6 647.4,196.6 647.5,198.8 647.6,194.6 647.7,199.4 647.9,189.8 648.0,189.8 648.1,189.5 648.2,185.3 648.3,188.4 648.4,190.4 648.5,185.4 648.6,190.9 648.7,187.2 648.8,195.4 648.9,189.9 649.0,187.6 649.1,186.4 649.2,188.7 649.3,184.9 649.4,189.8 649.5,189.4 649.6,189.2 649.7,191.2 649.8,192.1 649.9,193.5 650.0,201.7 650.1,203.4 650.2,196.1 650.4,201.9 650.5,197.2 650.6,200.6 650.7,201.2 650.8,196.6 650.9,200.2 651.0,198.7 651.1,201.1 651.2,201.8 651.3,201.5 651.4,202.2 651.5,200.4 651.6,202.5 651.7,199.8 651.8,198.6 651.9,198.7 652.0,206.1 652.1,195.4 652.2,205.8 652.3,198.4 652.4,197.0 652.5,193.2 652.6,198.0 652.8,197.4 652.9,191.5 653.0,193.0 653.1,197.9 653.2,198.2 653.3,198.5 653.4,205.5 653.5,191.5 653.6,195.9 653.7,192.5 653.8,189.0 653.9,194.6 654.0,187.9 654.1,194.1 654.2,197.9 654.3,192.5 654.4,196.0 654.5,195.1 654.6,193.1 654.7,186.6 654.8,186.9 654.9,190.4 655.0,191.6 655.1,183.4 655.3,190.7 655.4,197.1 655.5,189.1 655.6,197.0 655.7,199.5 655.8,201.1 655.9,202.3 656.0,205.2 656.1,201.9 656.2,199.0 656.3,192.1 656.4,197.1 656.5,197.5 656.6,198.9 656.7,197.1 656.8,195.1 656.9,192.0 657.0,201.5 657.1,200.2 657.2,195.2 657.3,191.2 657.4,198.7 657.5,192.4 657.7,196.0 657.8,197.6 657.9,194.4 658.0,185.1 658.1,190.0 658.2,192.7 658.3,195.6 658.4,189.8 658.5,190.5 658.6,189.1 658.7,186.0 658.8,186.3 658.9,187.1 659.0,188.6 659.1,190.2 659.2,192.1 659.3,196.1 659.4,194.3 659.5,191.0 659.6,195.8 659.7,177.0 659.8,182.8 659.9,183.7 660.0,183.6 660.2,179.4 660.3,184.9 660.4,184.3 660.5,175.4 660.6,181.5 660.7,181.3 660.8,181.3 660.9,183.0 661.0,182.6 661.1,177.4 661.2,180.7 661.3,180.0 661.4,179.3 661.5,172.8 661.6,177.0 661.7,175.6 661.8,177.2 661.9,176.0 662.0,170.4 662.1,178.2 662.2,178.8 662.3,177.7 662.4,178.3 662.6,186.3 662.7,186.8 662.8,181.0 662.9,183.8 663.0,183.6 663.1,188.3 663.2,180.6 663.3,185.3 663.4,177.7 663.5,182.3 663.6,178.9 663.7,179.8 663.8,181.0 663.9,171.5 664.0,179.3 664.1,174.0 664.2,179.9 664.3,179.9 664.4,175.1 664.5,178.6 664.6,179.2 664.7,186.1 664.8,179.0 665.0,170.6 665.1,183.4 665.2,181.0 665.3,185.5 665.4,172.0 665.5,189.2 665.6,187.4 665.7,191.1 665.8,183.2 665.9,184.9 666.0,183.9 666.1,185.0 666.2,177.3 666.3,177.3 666.4,177.3 666.5,190.1 666.6,182.6 666.7,182.0 666.8,183.6 666.9,195.4 667.0,183.5 667.1,186.2 667.2,179.1 667.3,187.0 667.5,183.7 667.6,182.5 667.7,184.1 667.8,185.2 667.9,190.1 668.0,180.9 668.1,184.3 668.2,192.9 668.3,196.0 668.4,184.3 668.5,194.4 668.6,186.7 668.7,187.2 668.8,181.4 668.9,165.8 669.0,173.7 669.1,176.9 669.2,183.7 669.3,176.8 669.4,173.8 669.5,181.6 669.6,175.6 669.7,182.1 669.9,182.3 670.0,178.5 670.1,179.6 670.2,175.0 670.3,175.1 670.4,180.7 670.5,172.3 670.6,176.4 670.7,177.2 670.8,178.0 670.9,180.2 671.0,177.8 671.1,179.0 671.2,181.7 671.3,178.9 671.4,177.2 671.5,181.5 671.6,175.8 671.7,187.3 671.8,180.1 671.9,181.6 672.0,181.6 672.1,185.5 672.2,184.3 672.4,177.6 672.5,183.9 672.6,179.4 672.7,184.7 672.8,186.8 672.9,181.1 673.0,184.5 673.1,178.3 673.2,190.6 673.3,182.5 673.4,181.6 673.5,172.8 673.6,181.7 673.7,185.3 673.8,175.5 673.9,176.9 674.0,177.6 674.1,176.6 674.2,175.4 674.3,177.7 674.4,179.4 674.5,183.0 674.6,180.9 674.8,187.9 674.9,184.4 675.0,187.0 675.1,186.5 675.2,183.7 675.3,182.6 675.4,176.1 675.5,179.2 675.6,171.1 675.7,174.5 675.8,164.6 675.9,172.7 676.0,178.2 676.1,180.6 676.2,176.0 676.3,169.2 676.4,182.2 676.5,181.1 676.6,174.7 676.7,173.0 676.8,181.9 676.9,183.1 677.0,178.8 677.1,182.2 677.3,178.7 677.4,176.2 677.5,181.1 677.6,180.6 677.7,181.2 677.8,179.7 677.9,171.1 678.0,175.1 678.1,167.4 678.2,172.9 678.3,176.1 678.4,169.1 678.5,182.5 678.6,174.9 678.7,178.7 678.8,180.0 678.9,179.2 679.0,185.9 679.1,179.3 679.2,178.5 679.3,188.4 679.4,177.4 679.5,176.7 679.7,176.3 679.8,173.3 679.9,174.1 680.0,175.7 680.1,175.5 680.2,184.8 680.3,179.1 680.4,181.9 680.5,182.9 680.6,179.1 680.7,172.1 680.8,177.0 680.9,173.5 681.0,187.8 681.1,194.5 681.2,191.8 681.3,192.9 681.4,186.8 681.5,187.0 681.6,186.7 681.7,181.0 681.8,180.4 681.9,172.1 682.0,180.7 682.2,179.9 682.3,183.5 682.4,186.5 682.5,188.4 682.6,192.0 682.7,187.8 682.8,187.0 682.9,191.2 683.0,185.6 683.1,186.9 683.2,186.1 683.3,180.6 683.4,177.8 683.5,177.2 683.6,181.2 683.7,186.9 683.8,185.6 683.9,186.0 684.0,186.5 684.1,182.7 684.2,183.5 684.3,178.5 684.4,181.9 684.6,176.1 684.7,176.2 684.8,180.7 684.9,182.6 685.0,191.4 685.1,186.6 685.2,194.8 685.3,193.6 685.4,195.1 685.5,193.9 685.6,193.7 685.7,194.4 685.8,188.5 685.9,191.7 686.0,188.3 686.1,183.1 686.2,184.9 686.3,186.2 686.4,190.8 686.5,185.1 686.6,184.1 686.7,180.8 686.8,177.5 687.0,177.5 687.1,176.2 687.2,191.5 687.3,185.6 687.4,187.2 687.5,180.1 687.6,185.4 687.7,186.2 687.8,183.1 687.9,184.5 688.0,188.1 688.1,193.4 688.2,186.9 688.3,188.7 688.4,187.5 688.5,192.8 688.6,188.9 688.7,193.9 688.8,185.9 688.9,190.3 689.0,192.7 689.1,188.9 689.2,190.2 689.3,182.5 689.5,183.8 689.6,179.2 689.7,184.5 689.8,179.7 689.9,176.5 690.0,179.5 690.1,179.8 690.2,185.4 690.3,180.9 690.4,181.1 690.5,180.4 690.6,185.4 690.7,183.4 690.8,184.5 690.9,179.9 691.0,179.4 691.1,179.9 691.2,187.0 691.3,179.9 691.4,191.8 691.5,185.2 691.6,190.2 691.7,186.8 691.9,189.4 692.0,186.6 692.1,190.8 692.2,189.1 692.3,185.3 692.4,189.9 692.5,188.1 692.6,189.5 692.7,185.4 692.8,182.8 692.9,188.8 693.0,185.7 693.1,180.8 693.2,186.3 693.3,185.4 693.4,190.3 693.5,178.2 693.6,183.4 693.7,188.1 693.8,180.7 693.9,186.5 694.0,181.0 694.1,185.7 694.2,185.9 694.4,178.9 694.5,181.1 694.6,179.7 694.7,179.9 694.8,184.3 694.9,185.7 695.0,186.2 695.1,189.7 695.2,184.6 695.3,182.7 695.4,185.1 695.5,182.6 695.6,185.5 695.7,187.4 695.8,179.6 695.9,178.8 696.0,175.0 696.1,179.6 696.2,177.9 696.3,182.8 696.4,182.9 696.5,184.0 696.6,191.9 696.8,189.0 696.9,184.9 697.0,182.3 697.1,187.2 697.2,191.1 697.3,186.1 697.4,186.8 697.5,187.9 697.6,192.2 697.7,190.1 697.8,180.2 697.9,181.7 698.0,186.8 698.1,184.3 698.2,185.5 698.3,188.4 698.4,187.4 698.5,191.2 698.6,193.1 698.7,186.6 698.8,183.4 698.9,187.5 699.0,182.1 699.1,182.5 699.3,187.4 699.4,188.9 699.5,192.2 699.6,188.3 699.7,192.2 699.8,198.5 699.9,194.1 700.0,191.7 700.1,191.6 700.2,197.8 700.3,193.9 700.4,196.4 700.5,199.2 700.6,193.4 700.7,190.1 700.8,190.1 700.9,190.4 701.0,197.2 701.1,180.8 701.2,190.7 701.3,187.9 701.4,187.3 701.5,189.1 701.7,187.3 701.8,199.0 701.9,194.3 702.0,193.4 702.1,193.3 702.2,196.8 702.3,187.3 702.4,194.3 702.5,186.3 702.6,183.5 702.7,193.1 702.8,194.4 702.9,193.5 703.0,196.7 703.1,197.3 703.2,199.6 703.3,194.8 703.4,193.0 703.5,193.1 703.6,190.3 703.7,184.1 703.8,181.2 703.9,186.0 704.1,189.3 704.2,186.9 704.3,184.0 704.4,186.1 704.5,189.5 704.6,191.2 704.7,187.8 704.8,186.8 704.9,190.2 705.0,186.9 705.1,192.5 705.2,186.5 705.3,185.6 705.4,191.5 705.5,192.0 705.6,186.3 705.7,192.0 705.8,187.1 705.9,178.8 706.0,184.2 706.1,179.0 706.2,181.7 706.3,188.4 706.4,187.7 706.6,184.9 706.7,182.7 706.8,185.5 706.9,186.7 707.0,189.1 707.1,195.9 707.2,187.7 707.3,190.7 707.4,183.2 707.5,179.7 707.6,185.8 707.7,174.5 707.8,180.8 707.9,176.6 708.0,178.6 708.1,179.8 708.2,185.5 708.3,183.6 708.4,188.6 708.5,196.0 708.6,192.3 708.7,186.6 708.8,184.1 709.0,188.9 709.1,191.6 709.2,191.6 709.3,187.0 709.4,177.5 709.5,185.9 709.6,186.8 709.7,183.8 709.8,185.9 709.9,188.3 710.0,197.0 710.1,194.1 710.2,194.4 710.3,188.0 710.4,190.7 710.5,187.7 710.6,190.8 710.7,188.4 710.8,176.7 710.9,183.6 711.0,183.9 711.1,189.7 711.2,190.9 711.3,185.7 711.5,189.6 711.6,185.6 711.7,186.8 711.8,185.0 711.9,196.1 712.0,183.0 712.1,178.1 712.2,183.0 712.3,184.6 712.4,184.6 712.5,179.8 712.6,182.6 712.7,182.5 712.8,185.3 712.9,181.5 713.0,188.4 713.1,187.6 713.2,190.2 713.3,190.6 713.4,181.5 713.5,186.7 713.6,185.9 713.7,191.6 713.9,183.7 714.0,194.6 714.1,183.6 714.2,184.2 714.3,186.8 714.4,187.7 714.5,180.5 714.6,180.5 714.7,180.1 714.8,191.7 714.9,182.3 715.0,195.0 715.1,189.8 715.2,190.0 715.3,183.8 715.4,190.3 715.5,193.4 715.6,195.6 715.7,187.4 715.8,185.1 715.9,188.6 716.0,194.7 716.1,190.5 716.2,184.8 716.4,188.1 716.5,196.6 716.6,190.0 716.7,188.2 716.8,191.4 716.9,183.7 717.0,184.6 717.1,186.1 717.2,182.7 717.3,183.4 717.4,188.5 717.5,186.6 717.6,188.0 717.7,190.9 717.8,186.1 717.9,194.7 718.0,183.3 718.1,186.1 718.2,184.7 718.3,182.1 718.4,183.3 718.5,180.3 718.6,175.4 718.8,181.0 718.9,188.0 719.0,186.2 719.1,186.1 719.2,184.9 719.3,183.3 719.4,179.1 719.5,181.8 719.6,181.6 719.7,180.1 719.8,187.3 719.9,190.4 720.0,185.3 720.1,180.1 720.2,182.2 720.3,177.1 720.4,176.1 720.5,182.9 720.6,184.7 720.7,186.6 720.8,187.3 720.9,182.2 721.0,189.5 721.1,186.0 721.3,185.4 721.4,185.9 721.5,190.3 721.6,190.8 721.7,186.1 721.8,187.7 721.9,188.9 722.0,191.3 722.1,193.0 722.2,191.5 722.3,186.4 722.4,187.9 722.5,186.0 722.6,182.2 722.7,186.9 722.8,186.4 722.9,182.5 723.0,187.1 723.1,197.0 723.2,192.6 723.3,196.8 723.4,195.2 723.5,190.2 723.7,194.2 723.8,190.0 723.9,181.4 724.0,186.2 724.1,186.4 724.2,182.0 724.3,188.6 724.4,186.9 724.5,184.1 724.6,190.5 724.7,192.4 724.8,196.7 724.9,195.0 725.0,192.5 725.1,193.1 725.2,191.0 725.3,186.6 725.4,193.5 725.5,185.1 725.6,183.5 725.7,184.6 725.8,185.4 725.9,191.6 726.1,187.6 726.2,183.4 726.3,182.6 726.4,191.1 726.5,186.0 726.6,194.0 726.7,193.9 726.8,190.9 726.9,186.7 727.0,189.4 727.1,187.3 727.2,188.8 727.3,182.2 727.4,192.7 727.5,189.1 727.6,185.5 727.7,182.6 727.8,195.5 727.9,189.9 728.0,194.0 728.1,186.1 728.2,191.1 728.3,185.5 728.4,180.4 728.6,179.2 728.7,185.5 728.8,184.5 728.9,175.9 729.0,186.8 729.1,186.1 729.2,191.0 729.3,184.5 729.4,188.6 729.5,183.6 729.6,194.4 729.7,188.7 729.8,181.2 729.9,193.9 730.0,192.7 730.1,190.3 730.2,199.2 730.3,201.4 730.4,199.9 730.5,195.7 730.6,192.5 730.7,196.6 730.8,193.6 731.0,192.3 731.1,195.5 731.2,190.4 731.3,189.7 731.4,195.2 731.5,189.6 731.6,193.1 731.7,194.8 731.8,191.9 731.9,188.3 732.0,193.2 732.1,193.6 732.2,183.8 732.3,181.3 732.4,189.1 732.5,184.1 732.6,191.7 732.7,192.6 732.8,188.1 732.9,189.7 733.0,186.9 733.1,193.8 733.2,195.7 733.3,195.9 733.5,193.3 733.6,189.2 733.7,189.7 733.8,184.2 733.9,190.0 734.0,189.3 734.1,197.7 734.2,198.9 734.3,192.3 734.4,195.0 734.5,197.4 734.6,197.8 734.7,196.9 734.8,196.3 734.9,190.3 735.0,188.9 735.1,195.9 735.2,182.7 735.3,190.0 735.4,192.5 735.5,188.2 735.6,188.2 735.7,197.8 735.9,192.9 736.0,191.1 736.1,191.5 736.2,189.1 736.3,189.5 736.4,181.7 736.5,185.1 736.6,185.3 736.7,181.6 736.8,179.2 736.9,187.2 737.0,188.6 737.1,186.1 737.2,178.5 737.3,191.2 737.4,190.1 737.5,196.0 737.6,190.0 737.7,197.2 737.8,190.1 737.9,184.9 738.0,183.0 738.1,188.6 738.2,185.8 738.4,188.4 738.5,193.8 738.6,189.6 738.7,185.7 738.8,189.1 738.9,192.4 739.0,191.5 739.1,186.7 739.2,193.9 739.3,188.8 739.4,196.8 739.5,187.0 739.6,193.7 739.7,191.0 739.8,185.4 739.9,188.8 740.0,197.5 740.1,199.4 740.2,195.8 740.3,193.5 740.4,193.7 740.5,192.3 740.6,196.0 740.8,202.5 740.9,186.1 741.0,198.9 741.1,192.9 741.2,199.2 741.3,199.0 741.4,201.8 741.5,195.8 741.6,190.3 741.7,192.5 741.8,191.9 741.9,195.0 742.0,202.0 742.1,202.3 742.2,198.5 742.3,199.1 742.4,205.9 742.5,200.9 742.6,192.4 742.7,185.9 742.8,185.2 742.9,197.3 743.0,197.6 743.2,199.4 743.3,203.8 743.4,198.9 743.5,198.0 743.6,193.5 743.7,198.2 743.8,196.7 743.9,199.1 744.0,188.8 744.1,186.8 744.2,199.7 744.3,197.5 744.4,187.4 744.5,186.0 744.6,196.9 744.7,195.5 744.8,190.5 744.9,197.3 745.0,192.3 745.1,196.7 745.2,195.0 745.3,202.1 745.4,189.0 745.5,197.9 745.7,192.0 745.8,188.9 745.9,188.8 746.0,192.5 746.1,190.3 746.2,186.2 746.3,193.7 746.4,194.8 746.5,193.1 746.6,194.0 746.7,192.8 746.8,195.1 746.9,194.3 747.0,184.7 747.1,198.4 747.2,197.9 747.3,196.7 747.4,180.1 747.5,192.1 747.6,187.2 747.7,195.7 747.8,195.1 747.9,190.0 748.1,201.4 748.2,199.2 748.3,194.8 748.4,201.9 748.5,198.6 748.6,199.1 748.7,197.1 748.8,189.7 748.9,189.5 749.0,196.9 749.1,191.9 749.2,189.8 749.3,195.6 749.4,194.9 749.5,187.8 749.6,189.3 749.7,188.3 749.8,193.1 749.9,200.3 750.0,201.9 750.1,197.6 750.2,194.7 750.3,208.2 750.4,191.8 750.6,188.3 750.7,193.9 750.8,195.1 750.9,194.5 751.0,201.6 751.1,191.5 751.2,197.2 751.3,194.9 751.4,197.1 751.5,190.9 751.6,195.9 751.7,194.6 751.8,194.2 751.9,197.2 752.0,187.6 752.1,181.0 752.2,186.3 752.3,193.9 752.4,187.4 752.5,177.3 752.6,189.8 752.7,189.8 752.8,199.0 753.0,197.1 753.1,199.9 753.2,193.7 753.3,193.4 753.4,190.3 753.5,187.2 753.6,193.2 753.7,185.5 753.8,193.6 753.9,186.5 754.0,183.3 754.1,198.3 754.2,193.6 754.3,191.8 754.4,193.1 754.5,191.8 754.6,196.0 754.7,192.1 754.8,190.9 754.9,183.9 755.0,200.8 755.1,205.1 755.2,208.2 755.3,204.3 755.5,205.9 755.6,206.9 755.7,204.7 755.8,201.2 755.9,194.6 756.0,201.7 756.1,190.9 756.2,192.2 756.3,196.8 756.4,203.5 756.5,198.6 756.6,189.3 756.7,199.0 756.8,201.3 756.9,200.6 757.0,198.4 757.1,204.5 757.2,183.0 757.3,200.9 757.4,207.1 757.5,203.9 757.6,208.2 757.7,208.2 757.9,207.5 758.0,204.1 758.1,208.2 758.2,208.2 758.3,205.3 758.4,205.6 758.5,208.2 758.6,208.2 758.7,205.2 758.8,208.2 758.9,208.2 759.0,208.2 759.1,206.4 759.2,206.2 759.3,206.8 759.4,208.2 759.5,208.2 759.6,196.3 759.7,204.2 759.8,204.0 759.9,208.2 760.0,208.2 760.1,208.2 760.2,198.4 760.4,205.4 760.5,205.0 760.6,203.4 760.7,208.2 760.8,195.7 760.9,204.3 761.0,200.5 761.1,202.1 761.2,197.8 761.3,200.8 761.4,203.5 761.5,197.3 761.6,208.2 761.7,208.2 761.8,207.7 761.9,208.2 762.0,208.2 762.1,196.6 762.2,198.8 762.3,199.6 762.4,193.1 762.5,199.5 762.6,188.2 762.8,199.8 762.9,194.0 763.0,198.1 763.1,201.2 763.2,196.7 763.3,199.0 763.4,199.8 763.5,194.2 763.6,192.9 763.7,192.2 763.8,201.0 763.9,194.7 764.0,202.8 764.1,199.4 764.2,198.6 764.3,195.7 764.4,189.5 764.5,184.9 764.6,178.2 764.7,180.2 764.8,183.7 764.9,177.5 765.0,177.0 765.2,183.3 765.3,189.2 765.4,184.9 765.5,177.6 765.6,185.7 765.7,189.2 765.8,187.5 765.9,195.1 766.0,191.2 766.1,187.3 766.2,182.5 766.3,185.2 766.4,185.4 766.5,188.4 766.6,182.1 766.7,193.1 766.8,188.5 766.9,195.3 767.0,192.2 767.1,188.9 767.2,193.6 767.3,188.3 767.4,187.4 767.5,186.4 767.7,189.2 767.8,186.1 767.9,191.2 768.0,195.6 768.1,192.5 768.2,191.2 768.3,196.8 768.4,200.1 768.5,194.6 768.6,190.2 768.7,196.2 768.8,187.0 768.9,183.4 769.0,188.9 769.1,184.6 769.2,187.9 769.3,189.9 769.4,188.0 769.5,197.0 769.6,193.8 769.7,197.3 769.8,193.6 769.9,185.0 770.1,196.8 770.2,195.2 770.3,197.4 770.4,193.9 770.5,192.5 770.6,192.8 770.7,191.3 770.8,188.3 770.9,191.5 771.0,196.5 771.1,187.9 771.2,192.3 771.3,196.1 771.4,193.4 771.5,189.3 771.6,192.7 771.7,190.9 771.8,190.1 771.9,183.8 772.0,192.6 772.1,190.2 772.2,183.0 772.3,190.8 772.4,190.0 772.6,191.0 772.7,194.9 772.8,190.1 772.9,189.1 773.0,186.5 773.1,192.6 773.2,195.2 773.3,189.4 773.4,194.8 773.5,193.9 773.6,188.9 773.7,195.8 773.8,196.8 773.9,194.3 774.0,186.3 774.1,193.1 774.2,195.8 774.3,188.2 774.4,195.5 774.5,198.1 774.6,194.0 774.7,192.8 774.8,189.1 775.0,189.1 775.1,185.1 775.2,187.9 775.3,184.0 775.4,181.2 775.5,191.7 775.6,184.2 775.7,186.3 775.8,190.9 775.9,194.1 776.0,191.2" fill="none" stroke="#4C72B0" stroke-width="1.0" stroke-opacity="0.62" stroke-linejoin="round"/>
<polyline points="571.0,71.7 571.1,72.2 571.2,72.1 571.3,69.2 571.4,64.9 571.5,69.9 571.6,71.5 571.7,67.9 571.8,70.2 571.9,66.1 572.0,64.9 572.2,61.0 572.3,60.9 572.4,64.5 572.5,57.3 572.6,59.8 572.7,64.2 572.8,65.0 572.9,59.9 573.0,66.3 573.1,63.7 573.2,61.0 573.3,60.8 573.4,62.6 573.5,63.0 573.6,56.1 573.7,62.5 573.8,64.5 573.9,63.2 574.0,59.1 574.1,63.1 574.2,57.3 574.3,57.2 574.4,63.9 574.6,63.9 574.7,61.1 574.8,60.6 574.9,67.3 575.0,64.8 575.1,68.8 575.2,63.3 575.3,61.4 575.4,61.5 575.5,59.6 575.6,60.0 575.7,59.5 575.8,58.9 575.9,61.0 576.0,60.4 576.1,67.7 576.2,60.6 576.3,63.5 576.4,61.0 576.5,61.8 576.6,62.1 576.7,57.2 576.8,58.7 576.9,60.6 577.1,53.0 577.2,56.9 577.3,54.3 577.4,56.8 577.5,58.6 577.6,60.3 577.7,58.4 577.8,59.1 577.9,59.2 578.0,64.6 578.1,61.0 578.2,61.8 578.3,70.9 578.4,69.4 578.5,67.1 578.6,64.6 578.7,62.4 578.8,63.7 578.9,65.4 579.0,76.7 579.1,68.6 579.2,65.7 579.3,67.2 579.5,63.2 579.6,62.7 579.7,61.1 579.8,62.9 579.9,64.2 580.0,62.6 580.1,66.7 580.2,65.9 580.3,65.1 580.4,63.1 580.5,63.2 580.6,63.8 580.7,69.7 580.8,65.0 580.9,67.7 581.0,63.5 581.1,66.2 581.2,66.9 581.3,69.7 581.4,67.0 581.5,70.0 581.6,76.5 581.7,69.4 581.8,65.9 582.0,67.9 582.1,71.1 582.2,73.6 582.3,69.4 582.4,68.0 582.5,70.8 582.6,72.7 582.7,71.6 582.8,71.7 582.9,77.6 583.0,74.6 583.1,72.6 583.2,72.0 583.3,67.7 583.4,71.1 583.5,71.1 583.6,70.8 583.7,72.5 583.8,72.0 583.9,68.7 584.0,68.3 584.1,74.9 584.2,78.9 584.4,78.6 584.5,76.9 584.6,79.3 584.7,81.3 584.8,79.6 584.9,79.1 585.0,81.2 585.1,77.2 585.2,80.3 585.3,73.8 585.4,76.9 585.5,74.6 585.6,78.2 585.7,76.6 585.8,78.3 585.9,77.2 586.0,74.4 586.1,73.7 586.2,71.3 586.3,68.2 586.4,69.8 586.5,71.0 586.6,67.5 586.8,68.9 586.9,68.0 587.0,71.1 587.1,73.0 587.2,73.1 587.3,71.4 587.4,74.9 587.5,74.5 587.6,72.6 587.7,74.4 587.8,75.2 587.9,74.2 588.0,72.6 588.1,70.5 588.2,74.8 588.3,71.6 588.4,70.1 588.5,75.4 588.6,74.7 588.7,69.1 588.8,66.8 588.9,69.8 589.0,68.1 589.1,72.2 589.3,73.8 589.4,68.8 589.5,69.1 589.6,68.0 589.7,59.6 589.8,68.9 589.9,62.5 590.0,71.8 590.1,71.8 590.2,70.7 590.3,69.2 590.4,73.4 590.5,75.8 590.6,80.8 590.7,72.0 590.8,76.8 590.9,72.4 591.0,76.0 591.1,79.3 591.2,79.0 591.3,72.5 591.4,79.9 591.5,75.2 591.7,74.3 591.8,79.5 591.9,70.0 592.0,69.8 592.1,69.1 592.2,72.0 592.3,70.2 592.4,75.3 592.5,72.4 592.6,77.7 592.7,74.6 592.8,74.6 592.9,69.8 593.0,70.1 593.1,75.7 593.2,72.9 593.3,72.9 593.4,70.8 593.5,69.7 593.6,76.9 593.7,68.9 593.8,66.0 593.9,70.3 594.0,78.0 594.2,75.7 594.3,80.9 594.4,80.7 594.5,82.4 594.6,81.7 594.7,77.1 594.8,78.5 594.9,79.0 595.0,78.4 595.1,80.6 595.2,80.4 595.3,82.8 595.4,81.8 595.5,82.0 595.6,75.9 595.7,78.2 595.8,81.2 595.9,79.5 596.0,81.9 596.1,86.1 596.2,75.9 596.3,77.5 596.4,77.0 596.6,81.7 596.7,80.7 596.8,82.9 596.9,85.3 597.0,82.9 597.1,81.0 597.2,78.9 597.3,80.5 597.4,79.0 597.5,72.2 597.6,78.8 597.7,76.8 597.8,76.7 597.9,82.2 598.0,79.4 598.1,83.0 598.2,88.8 598.3,83.8 598.4,88.6 598.5,83.1 598.6,80.6 598.7,82.7 598.8,80.2 598.9,85.0 599.1,85.1 599.2,82.0 599.3,85.4 599.4,82.5 599.5,79.6 599.6,72.7 599.7,79.3 599.8,78.6 599.9,77.6 600.0,80.0 600.1,77.5 600.2,79.9 600.3,77.1 600.4,78.4 600.5,83.8 600.6,87.1 600.7,84.7 600.8,82.3 600.9,86.1 601.0,87.7 601.1,87.6 601.2,86.4 601.3,88.5 601.5,86.5 601.6,85.9 601.7,91.5 601.8,97.3 601.9,93.3 602.0,95.7 602.1,93.9 602.2,93.6 602.3,95.2 602.4,91.9 602.5,90.5 602.6,86.8 602.7,88.5 602.8,90.9 602.9,92.0 603.0,89.3 603.1,95.5 603.2,90.2 603.3,89.8 603.4,93.0 603.5,90.8 603.6,87.8 603.7,89.6 603.8,87.0 604.0,87.1 604.1,86.2 604.2,86.3 604.3,84.1 604.4,86.5 604.5,88.4 604.6,86.9 604.7,90.4 604.8,96.3 604.9,93.8 605.0,94.3 605.1,99.5 605.2,96.1 605.3,94.1 605.4,95.3 605.5,93.8 605.6,85.9 605.7,87.2 605.8,93.3 605.9,91.3 606.0,90.5 606.1,92.6 606.2,93.9 606.4,94.7 606.5,94.4 606.6,89.2 606.7,89.9 606.8,94.2 606.9,97.2 607.0,101.0 607.1,96.7 607.2,98.0 607.3,97.1 607.4,94.4 607.5,99.4 607.6,91.3 607.7,96.4 607.8,96.2 607.9,96.1 608.0,102.1 608.1,96.9 608.2,97.2 608.3,94.9 608.4,100.0 608.5,98.6 608.6,98.8 608.8,97.7 608.9,98.8 609.0,94.2 609.1,97.7 609.2,98.1 609.3,96.1 609.4,91.9 609.5,98.1 609.6,99.2 609.7,96.0 609.8,96.0 609.9,95.6 610.0,94.8 610.1,94.8 610.2,100.4 610.3,95.0 610.4,95.4 610.5,93.6 610.6,99.7 610.7,99.7 610.8,97.5 610.9,97.2 611.0,97.5 611.1,97.3 611.3,95.5 611.4,95.3 611.5,98.3 611.6,89.7 611.7,95.6 611.8,99.1 611.9,101.1 612.0,97.5 612.1,104.2 612.2,103.8 612.3,106.0 612.4,102.8 612.5,101.3 612.6,97.7 612.7,103.4 612.8,99.2 612.9,103.8 613.0,105.3 613.1,106.7 613.2,99.6 613.3,96.3 613.4,98.2 613.5,105.3 613.7,102.8 613.8,99.3 613.9,98.9 614.0,105.1 614.1,104.1 614.2,109.1 614.3,107.8 614.4,104.1 614.5,99.3 614.6,107.3 614.7,103.3 614.8,99.5 614.9,103.2 615.0,104.3 615.1,107.3 615.2,100.7 615.3,102.4 615.4,102.0 615.5,101.7 615.6,100.1 615.7,103.9 615.8,100.3 615.9,98.6 616.0,98.6 616.2,100.4 616.3,100.5 616.4,98.7 616.5,99.8 616.6,100.9 616.7,106.6 616.8,105.9 616.9,103.2 617.0,107.8 617.1,104.8 617.2,99.0 617.3,100.8 617.4,109.8 617.5,103.3 617.6,106.1 617.7,106.0 617.8,102.2 617.9,102.4 618.0,100.6 618.1,108.5 618.2,110.6 618.3,103.9 618.4,103.2 618.6,98.8 618.7,104.6 618.8,102.7 618.9,101.7 619.0,114.1 619.1,106.8 619.2,110.1 619.3,110.3 619.4,106.6 619.5,107.3 619.6,100.9 619.7,112.6 619.8,109.5 619.9,103.6 620.0,98.6 620.1,110.4 620.2,103.9 620.3,107.7 620.4,101.6 620.5,108.2 620.6,108.8 620.7,106.5 620.8,110.2 620.9,110.8 621.1,112.0 621.2,114.4 621.3,108.5 621.4,100.6 621.5,114.5 621.6,111.2 621.7,98.7 621.8,103.2 621.9,106.6 622.0,107.7 622.1,111.7 622.2,105.0 622.3,114.4 622.4,104.6 622.5,111.4 622.6,110.5 622.7,104.3 622.8,113.5 622.9,105.5 623.0,117.1 623.1,118.2 623.2,126.2 623.3,118.5 623.5,107.8 623.6,116.1 623.7,118.0 623.8,127.6 623.9,121.8 624.0,117.0 624.1,119.0 624.2,116.3 624.3,116.2 624.4,114.8 624.5,122.7 624.6,121.5 624.7,119.8 624.8,125.8 624.9,120.1 625.0,122.8 625.1,120.5 625.2,111.7 625.3,114.3 625.4,114.7 625.5,116.3 625.6,116.9 625.7,116.9 625.9,115.8 626.0,123.5 626.1,121.8 626.2,111.4 626.3,106.0 626.4,109.6 626.5,111.8 626.6,116.4 626.7,117.0 626.8,118.2 626.9,110.9 627.0,107.7 627.1,115.8 627.2,117.1 627.3,114.8 627.4,114.5 627.5,115.9 627.6,126.6 627.7,116.7 627.8,113.6 627.9,122.1 628.0,117.5 628.1,112.1 628.2,111.7 628.4,108.4 628.5,104.4 628.6,107.6 628.7,104.9 628.8,117.5 628.9,120.3 629.0,121.9 629.1,112.9 629.2,114.1 629.3,120.6 629.4,113.2 629.5,113.5 629.6,100.1 629.7,109.8 629.8,106.1 629.9,115.3 630.0,112.1 630.1,112.9 630.2,121.1 630.3,126.1 630.4,123.7 630.5,121.3 630.6,118.4 630.8,117.9 630.9,113.4 631.0,116.5 631.1,121.3 631.2,113.1 631.3,115.4 631.4,121.9 631.5,117.0 631.6,122.6 631.7,105.9 631.8,115.8 631.9,115.2 632.0,114.9 632.1,127.0 632.2,120.5 632.3,123.8 632.4,122.4 632.5,131.4 632.6,122.6 632.7,127.7 632.8,118.9 632.9,118.8 633.0,113.9 633.1,110.6 633.3,125.0 633.4,109.2 633.5,115.6 633.6,113.6 633.7,115.0 633.8,112.3 633.9,121.7 634.0,123.0 634.1,123.4 634.2,115.4 634.3,114.6 634.4,106.5 634.5,113.4 634.6,116.3 634.7,120.6 634.8,121.1 634.9,126.0 635.0,132.1 635.1,131.6 635.2,130.8 635.3,134.2 635.4,125.1 635.5,124.6 635.7,124.1 635.8,119.0 635.9,116.9 636.0,129.7 636.1,124.9 636.2,129.3 636.3,138.0 636.4,135.8 636.5,133.0 636.6,134.8 636.7,133.0 636.8,133.0 636.9,124.9 637.0,138.9 637.1,140.8 637.2,138.9 637.3,136.1 637.4,143.6 637.5,120.3 637.6,138.8 637.7,124.5 637.8,127.4 637.9,121.9 638.0,125.0 638.2,126.9 638.3,133.0 638.4,125.9 638.5,129.6 638.6,143.4 638.7,138.7 638.8,142.7 638.9,134.6 639.0,141.4 639.1,136.3 639.2,137.3 639.3,143.7 639.4,139.3 639.5,134.3 639.6,137.4 639.7,146.4 639.8,148.2 639.9,146.9 640.0,154.2 640.1,153.6 640.2,135.2 640.3,146.4 640.4,141.7 640.6,156.3 640.7,145.2 640.8,139.0 640.9,149.0 641.0,143.3 641.1,144.7 641.2,140.2 641.3,139.4 641.4,138.2 641.5,138.2 641.6,145.0 641.7,150.2 641.8,136.7 641.9,144.8 642.0,145.0 642.1,134.0 642.2,147.8 642.3,150.9 642.4,142.4 642.5,150.8 642.6,152.2 642.7,143.5 642.8,150.9 642.9,152.0 643.1,143.6 643.2,134.4 643.3,150.8 643.4,137.3 643.5,135.0 643.6,129.0 643.7,135.6 643.8,142.9 643.9,137.1 644.0,143.0 644.1,127.7 644.2,135.0 644.3,139.9 644.4,127.4 644.5,123.6 644.6,128.1 644.7,137.2 644.8,125.3 644.9,128.9 645.0,129.8 645.1,130.1 645.2,124.9 645.3,126.2 645.5,127.6 645.6,125.2 645.7,122.5 645.8,123.2 645.9,125.6 646.0,123.1 646.1,119.4 646.2,131.0 646.3,134.6 646.4,128.8 646.5,116.0 646.6,125.1 646.7,126.0 646.8,121.7 646.9,123.1 647.0,119.1 647.1,124.3 647.2,124.2 647.3,126.2 647.4,126.3 647.5,131.4 647.6,138.0 647.7,138.1 647.9,139.8 648.0,140.4 648.1,147.6 648.2,144.4 648.3,130.2 648.4,140.6 648.5,133.5 648.6,129.0 648.7,130.9 648.8,139.2 648.9,136.8 649.0,140.4 649.1,140.4 649.2,139.5 649.3,133.2 649.4,137.2 649.5,146.4 649.6,143.0 649.7,144.4 649.8,142.3 649.9,142.8 650.0,149.1 650.1,140.3 650.2,137.3 650.4,144.6 650.5,136.5 650.6,143.4 650.7,150.9 650.8,146.5 650.9,143.0 651.0,143.8 651.1,141.5 651.2,152.3 651.3,136.3 651.4,135.5 651.5,141.5 651.6,144.1 651.7,133.0 651.8,137.6 651.9,138.9 652.0,143.8 652.1,142.9 652.2,135.4 652.3,138.8 652.4,132.2 652.5,139.8 652.6,146.5 652.8,134.6 652.9,139.9 653.0,133.8 653.1,140.3 653.2,138.7 653.3,145.2 653.4,139.6 653.5,150.1 653.6,134.9 653.7,137.7 653.8,127.8 653.9,126.1 654.0,126.6 654.1,143.7 654.2,140.3 654.3,137.7 654.4,140.7 654.5,142.1 654.6,151.5 654.7,155.6 654.8,148.4 654.9,134.9 655.0,146.7 655.1,139.4 655.3,135.3 655.4,134.8 655.5,147.2 655.6,136.6 655.7,147.6 655.8,134.8 655.9,148.3 656.0,148.6 656.1,142.5 656.2,156.8 656.3,153.0 656.4,147.9 656.5,148.5 656.6,142.9 656.7,143.8 656.8,144.0 656.9,142.0 657.0,143.7 657.1,138.5 657.2,149.5 657.3,141.9 657.4,142.4 657.5,144.8 657.7,164.3 657.8,151.1 657.9,147.8 658.0,151.8 658.1,143.5 658.2,153.0 658.3,133.6 658.4,143.1 658.5,147.3 658.6,151.4 658.7,154.2 658.8,152.9 658.9,149.0 659.0,150.7 659.1,146.3 659.2,151.1 659.3,146.8 659.4,153.8 659.5,147.2 659.6,150.7 659.7,135.9 659.8,135.1 659.9,134.9 660.0,129.2 660.2,132.2 660.3,141.2 660.4,141.4 660.5,148.1 660.6,141.3 660.7,131.1 660.8,136.4 660.9,146.8 661.0,146.8 661.1,141.5 661.2,142.2 661.3,158.2 661.4,150.0 661.5,147.0 661.6,147.7 661.7,145.3 661.8,147.0 661.9,155.2 662.0,150.5 662.1,153.7 662.2,152.5 662.3,142.3 662.4,149.2 662.6,156.8 662.7,148.3 662.8,145.2 662.9,148.2 663.0,147.1 663.1,149.8 663.2,141.0 663.3,135.4 663.4,139.1 663.5,145.4 663.6,147.8 663.7,152.2 663.8,158.1 663.9,154.0 664.0,167.8 664.1,145.9 664.2,145.2 664.3,144.5 664.4,157.0 664.5,147.0 664.6,155.3 664.7,151.4 664.8,150.1 665.0,151.2 665.1,152.7 665.2,157.8 665.3,154.1 665.4,149.9 665.5,171.8 665.6,157.7 665.7,157.7 665.8,154.8 665.9,144.0 666.0,151.8 666.1,147.0 666.2,146.8 666.3,147.8 666.4,148.8 666.5,157.3 666.6,162.4 666.7,167.7 666.8,159.3 666.9,165.0 667.0,166.6 667.1,160.2 667.2,160.6 667.3,161.4 667.5,151.1 667.6,158.5 667.7,164.0 667.8,159.5 667.9,166.9 668.0,160.2 668.1,157.8 668.2,153.8 668.3,154.1 668.4,156.1 668.5,150.5 668.6,150.5 668.7,154.5 668.8,156.4 668.9,154.6 669.0,149.7 669.1,159.3 669.2,162.1 669.3,167.9 669.4,173.8 669.5,174.5 669.6,180.9 669.7,161.7 669.9,175.5 670.0,170.2 670.1,166.4 670.2,168.5 670.3,170.0 670.4,162.5 670.5,159.9 670.6,158.3 670.7,167.0 670.8,166.4 670.9,166.7 671.0,159.5 671.1,159.2 671.2,163.1 671.3,166.1 671.4,170.3 671.5,180.2 671.6,178.8 671.7,175.8 671.8,173.6 671.9,167.2 672.0,166.6 672.1,172.0 672.2,167.5 672.4,165.8 672.5,168.8 672.6,155.1 672.7,153.8 672.8,158.5 672.9,155.8 673.0,158.9 673.1,172.2 673.2,171.7 673.3,176.8 673.4,168.1 673.5,163.9 673.6,161.5 673.7,159.7 673.8,156.5 673.9,162.6 674.0,166.8 674.1,159.1 674.2,173.6 674.3,182.4 674.4,179.1 674.5,173.9 674.6,167.5 674.8,172.2 674.9,173.9 675.0,159.8 675.1,163.7 675.2,158.6 675.3,159.2 675.4,169.4 675.5,168.9 675.6,164.5 675.7,175.1 675.8,154.3 675.9,167.1 676.0,161.8 676.1,167.2 676.2,162.6 676.3,158.5 676.4,157.7 676.5,170.6 676.6,161.0 676.7,166.9 676.8,176.3 676.9,166.7 677.0,174.9 677.1,168.3 677.3,170.4 677.4,171.7 677.5,174.9 677.6,168.0 677.7,169.2 677.8,168.5 677.9,156.8 678.0,164.7 678.1,151.9 678.2,162.4 678.3,159.3 678.4,157.0 678.5,160.6 678.6,154.2 678.7,160.2 678.8,170.4 678.9,160.6 679.0,170.3 679.1,163.9 679.2,161.0 679.3,156.2 679.4,172.2 679.5,169.4 679.7,172.5 679.8,177.6 679.9,171.5 680.0,169.3 680.1,165.9 680.2,180.7 680.3,164.7 680.4,168.3 680.5,174.0 680.6,173.9 680.7,183.1 680.8,171.7 680.9,175.6 681.0,170.3 681.1,173.8 681.2,171.2 681.3,164.4 681.4,163.7 681.5,165.3 681.6,162.0 681.7,160.5 681.8,157.6 681.9,164.5 682.0,165.4 682.2,165.2 682.3,166.6 682.4,170.1 682.5,168.3 682.6,162.7 682.7,167.6 682.8,158.9 682.9,149.8 683.0,160.4 683.1,151.7 683.2,166.3 683.3,155.5 683.4,172.2 683.5,161.2 683.6,163.3 683.7,175.4 683.8,171.0 683.9,178.1 684.0,155.3 684.1,157.2 684.2,163.2 684.3,173.2 684.4,180.3 684.6,164.0 684.7,160.4 684.8,155.8 684.9,161.8 685.0,165.8 685.1,172.4 685.2,169.0 685.3,167.8 685.4,167.0 685.5,164.7 685.6,159.2 685.7,161.3 685.8,163.5 685.9,159.3 686.0,163.9 686.1,164.9 686.2,172.0 686.3,166.9 686.4,166.9 686.5,169.5 686.6,175.1 686.7,158.3 686.8,163.4 687.0,160.1 687.1,157.9 687.2,162.8 687.3,146.1 687.4,157.9 687.5,157.5 687.6,154.8 687.7,171.7 687.8,155.5 687.9,169.2 688.0,166.2 688.1,174.4 688.2,160.8 688.3,160.4 688.4,167.5 688.5,161.1 688.6,157.1 688.7,167.6 688.8,160.4 688.9,171.4 689.0,164.5 689.1,154.3 689.2,164.5 689.3,167.8 689.5,160.7 689.6,171.7 689.7,165.2 689.8,158.5 689.9,170.3 690.0,162.6 690.1,149.9 690.2,154.4 690.3,163.3 690.4,155.7 690.5,160.4 690.6,154.1 690.7,147.2 690.8,154.2 690.9,154.5 691.0,156.9 691.1,161.3 691.2,163.6 691.3,159.3 691.4,155.6 691.5,158.6 691.6,149.8 691.7,155.4 691.9,160.9 692.0,160.2 692.1,147.4 692.2,151.2 692.3,160.6 692.4,168.2 692.5,168.6 692.6,165.0 692.7,164.5 692.8,164.4 692.9,158.7 693.0,169.1 693.1,160.5 693.2,158.7 693.3,164.0 693.4,167.8 693.5,171.8 693.6,169.1 693.7,169.3 693.8,163.5 693.9,154.4 694.0,159.5 694.1,151.9 694.2,163.4 694.4,163.5 694.5,155.9 694.6,167.6 694.7,163.6 694.8,171.1 694.9,161.9 695.0,166.9 695.1,166.6 695.2,167.0 695.3,166.5 695.4,160.3 695.5,160.1 695.6,150.5 695.7,165.3 695.8,157.5 695.9,164.7 696.0,158.2 696.1,160.5 696.2,163.6 696.3,159.5 696.4,164.0 696.5,164.9 696.6,166.8 696.8,167.6 696.9,161.0 697.0,172.6 697.1,156.3 697.2,157.9 697.3,162.2 697.4,150.8 697.5,152.6 697.6,158.7 697.7,159.7 697.8,151.9 697.9,159.6 698.0,158.6 698.1,159.8 698.2,147.5 698.3,157.9 698.4,141.7 698.5,147.9 698.6,143.5 698.7,136.9 698.8,157.7 698.9,160.6 699.0,164.9 699.1,166.7 699.3,153.1 699.4,136.4 699.5,141.9 699.6,138.1 699.7,132.3 699.8,137.4 699.9,158.0 700.0,147.0 700.1,145.9 700.2,149.6 700.3,163.1 700.4,155.1 700.5,143.1 700.6,147.6 700.7,152.9 700.8,148.9 700.9,149.4 701.0,151.0 701.1,156.2 701.2,155.2 701.3,159.1 701.4,157.8 701.5,161.4 701.7,157.6 701.8,160.3 701.9,159.3 702.0,163.3 702.1,160.0 702.2,162.6 702.3,150.5 702.4,158.8 702.5,151.2 702.6,152.9 702.7,156.5 702.8,159.6 702.9,160.0 703.0,153.4 703.1,157.4 703.2,157.3 703.3,170.5 703.4,143.5 703.5,156.9 703.6,158.2 703.7,158.1 703.8,144.6 703.9,149.8 704.1,151.8 704.2,153.8 704.3,155.8 704.4,153.8 704.5,145.6 704.6,154.8 704.7,152.2 704.8,146.0 704.9,141.4 705.0,147.1 705.1,150.2 705.2,152.3 705.3,147.7 705.4,156.4 705.5,150.1 705.6,145.7 705.7,136.6 705.8,149.1 705.9,145.0 706.0,145.7 706.1,154.1 706.2,146.0 706.3,148.6 706.4,152.4 706.6,150.4 706.7,138.9 706.8,147.4 706.9,141.1 707.0,145.1 707.1,148.9 707.2,141.3 707.3,144.4 707.4,145.3 707.5,146.1 707.6,145.6 707.7,147.7 707.8,142.8 707.9,144.4 708.0,144.4 708.1,149.0 708.2,142.5 708.3,147.8 708.4,145.9 708.5,151.5 708.6,139.3 708.7,136.1 708.8,139.8 709.0,145.2 709.1,141.7 709.2,128.7 709.3,133.3 709.4,133.1 709.5,128.1 709.6,129.1 709.7,132.7 709.8,138.3 709.9,141.5 710.0,139.4 710.1,139.5 710.2,136.4 710.3,136.9 710.4,133.5 710.5,133.2 710.6,128.7 710.7,135.3 710.8,145.8 710.9,139.8 711.0,142.0 711.1,134.4 711.2,140.1 711.3,136.8 711.5,137.6 711.6,127.8 711.7,130.4 711.8,129.5 711.9,129.2 712.0,135.3 712.1,147.5 712.2,128.0 712.3,145.1 712.4,135.0 712.5,132.8 712.6,138.1 712.7,131.5 712.8,133.2 712.9,134.0 713.0,130.6 713.1,140.0 713.2,134.3 713.3,123.2 713.4,132.1 713.5,122.8 713.6,120.0 713.7,127.8 713.9,139.2 714.0,131.1 714.1,132.0 714.2,135.0 714.3,130.3 714.4,139.0 714.5,130.7 714.6,132.1 714.7,137.0 714.8,131.1 714.9,126.6 715.0,128.2 715.1,134.7 715.2,140.5 715.3,137.8 715.4,133.2 715.5,135.9 715.6,131.6 715.7,118.7 715.8,130.3 715.9,137.2 716.0,130.8 716.1,127.7 716.2,135.9 716.4,135.2 716.5,141.2 716.6,142.3 716.7,139.3 716.8,130.0 716.9,132.3 717.0,137.7 717.1,129.0 717.2,131.6 717.3,134.1 717.4,127.3 717.5,127.2 717.6,125.5 717.7,122.2 717.8,119.5 717.9,122.2 718.0,130.5 718.1,131.2 718.2,126.4 718.3,135.4 718.4,130.9 718.5,135.8 718.6,124.7 718.8,119.7 718.9,121.2 719.0,125.3 719.1,124.6 719.2,129.1 719.3,126.0 719.4,137.3 719.5,143.2 719.6,139.7 719.7,141.1 719.8,137.6 719.9,137.2 720.0,138.7 720.1,135.8 720.2,133.8 720.3,131.8 720.4,123.4 720.5,117.0 720.6,126.1 720.7,125.3 720.8,125.7 720.9,124.0 721.0,122.4 721.1,114.5 721.3,121.6 721.4,122.9 721.5,124.3 721.6,132.3 721.7,132.2 721.8,139.9 721.9,130.7 722.0,130.5 722.1,125.3 722.2,123.2 722.3,137.6 722.4,122.5 722.5,119.7 722.6,125.3 722.7,126.5 722.8,118.2 722.9,118.8 723.0,123.3 723.1,126.5 723.2,123.2 723.3,115.9 723.4,116.6 723.5,121.4 723.7,115.8 723.8,119.7 723.9,135.4 724.0,132.3 724.1,131.0 724.2,124.8 724.3,116.8 724.4,125.6 724.5,124.7 724.6,117.8 724.7,124.1 724.8,125.2 724.9,117.7 725.0,119.7 725.1,119.6 725.2,121.8 725.3,126.2 725.4,122.0 725.5,121.4 725.6,125.2 725.7,117.2 725.8,121.5 725.9,118.1 726.1,124.0 726.2,128.1 726.3,128.4 726.4,129.6 726.5,128.2 726.6,131.9 726.7,139.2 726.8,133.6 726.9,127.4 727.0,133.3 727.1,122.7 727.2,122.4 727.3,129.2 727.4,123.3 727.5,135.7 727.6,132.3 727.7,133.4 727.8,131.1 727.9,132.8 728.0,135.4 728.1,138.5 728.2,134.2 728.3,128.5 728.4,126.2 728.6,114.1 728.7,118.1 728.8,116.1 728.9,114.7 729.0,117.6 729.1,115.0 729.2,118.0 729.3,124.5 729.4,127.3 729.5,124.8 729.6,125.0 729.7,125.4 729.8,126.8 729.9,125.3 730.0,125.6 730.1,124.4 730.2,127.9 730.3,121.4 730.4,119.8 730.5,114.7 730.6,116.5 730.7,107.4 730.8,108.6 731.0,111.2 731.1,115.4 731.2,111.5 731.3,113.5 731.4,107.0 731.5,106.7 731.6,109.7 731.7,115.2 731.8,112.8 731.9,109.5 732.0,114.7 732.1,114.0 732.2,108.3 732.3,108.0 732.4,111.6 732.5,119.8 732.6,112.7 732.7,109.3 732.8,117.5 732.9,108.8 733.0,111.3 733.1,106.9 733.2,110.0 733.3,109.5 733.5,115.2 733.6,107.2 733.7,109.2 733.8,112.0 733.9,108.0 734.0,111.7 734.1,104.0 734.2,102.6 734.3,112.9 734.4,111.4 734.5,106.4 734.6,109.9 734.7,107.0 734.8,111.8 734.9,102.7 735.0,107.0 735.1,105.2 735.2,105.5 735.3,103.6 735.4,106.2 735.5,106.0 735.6,103.0 735.7,101.1 735.9,101.7 736.0,104.1 736.1,101.2 736.2,106.1 736.3,102.1 736.4,101.0 736.5,106.3 736.6,103.4 736.7,108.6 736.8,111.2 736.9,107.7 737.0,110.2 737.1,106.6 737.2,99.2 737.3,99.9 737.4,97.7 737.5,98.4 737.6,94.4 737.7,103.4 737.8,95.1 737.9,103.6 738.0,101.2 738.1,99.6 738.2,103.3 738.4,101.5 738.5,97.0 738.6,100.1 738.7,104.6 738.8,99.1 738.9,104.0 739.0,100.0 739.1,101.3 739.2,106.3 739.3,99.2 739.4,100.4 739.5,99.1 739.6,99.9 739.7,103.7 739.8,107.5 739.9,102.5 740.0,105.3 740.1,100.4 740.2,107.1 740.3,103.0 740.4,99.8 740.5,98.0 740.6,92.1 740.8,93.9 740.9,101.6 741.0,96.0 741.1,96.8 741.2,102.7 741.3,96.4 741.4,101.7 741.5,98.6 741.6,99.4 741.7,97.0 741.8,96.2 741.9,97.7 742.0,95.7 742.1,93.7 742.2,99.4 742.3,97.8 742.4,95.1 742.5,92.5 742.6,90.6 742.7,86.6 742.8,93.0 742.9,84.2 743.0,85.6 743.2,85.9 743.3,90.7 743.4,89.9 743.5,88.3 743.6,85.8 743.7,87.0 743.8,88.4 743.9,89.9 744.0,88.8 744.1,94.6 744.2,92.0 744.3,94.3 744.4,89.9 744.5,89.9 744.6,86.2 744.7,84.7 744.8,86.5 744.9,84.6 745.0,86.7 745.1,83.1 745.2,90.6 745.3,92.3 745.4,91.0 745.5,89.4 745.7,86.9 745.8,83.0 745.9,90.5 746.0,85.3 746.1,89.2 746.2,88.5 746.3,95.1 746.4,92.3 746.5,88.7 746.6,98.4 746.7,93.3 746.8,94.3 746.9,89.9 747.0,90.0 747.1,91.7 747.2,87.3 747.3,88.4 747.4,88.6 747.5,92.3 747.6,89.7 747.7,92.4 747.8,88.0 747.9,90.8 748.1,88.2 748.2,84.3 748.3,83.5 748.4,83.4 748.5,86.7 748.6,86.1 748.7,89.0 748.8,92.0 748.9,84.1 749.0,91.2 749.1,90.1 749.2,93.6 749.3,97.3 749.4,90.6 749.5,92.0 749.6,87.5 749.7,85.7 749.8,90.0 749.9,91.8 750.0,94.5 750.1,93.8 750.2,97.1 750.3,95.2 750.4,94.1 750.6,91.7 750.7,94.1 750.8,94.4 750.9,93.5 751.0,96.2 751.1,95.4 751.2,94.4 751.3,94.0 751.4,91.7 751.5,96.6 751.6,98.3 751.7,97.0 751.8,96.7 751.9,95.7 752.0,99.0 752.1,90.9 752.2,93.0 752.3,94.7 752.4,97.6 752.5,90.4 752.6,88.9 752.7,96.2 752.8,88.2 753.0,91.7 753.1,86.1 753.2,94.5 753.3,87.9 753.4,84.0 753.5,87.8 753.6,84.0 753.7,87.1 753.8,83.9 753.9,81.0 754.0,89.7 754.1,86.4 754.2,90.7 754.3,91.6 754.4,89.3 754.5,85.1 754.6,84.0 754.7,84.1 754.8,85.5 754.9,85.6 755.0,88.0 755.1,89.2 755.2,88.3 755.3,95.2 755.5,86.9 755.6,92.6 755.7,93.2 755.8,85.1 755.9,87.7 756.0,82.4 756.1,86.1 756.2,85.1 756.3,79.8 756.4,86.0 756.5,78.3 756.6,81.1 756.7,88.0 756.8,87.4 756.9,87.7 757.0,77.9 757.1,80.0 757.2,79.7 757.3,85.4 757.4,82.8 757.5,93.4 757.6,85.9 757.7,85.3 757.9,79.6 758.0,80.6 758.1,86.2 758.2,83.3 758.3,84.7 758.4,85.5 758.5,87.7 758.6,78.6 758.7,88.7 758.8,89.9 758.9,86.5 759.0,80.1 759.1,87.8 759.2,82.2 759.3,81.5 759.4,83.0 759.5,81.5 759.6,74.8 759.7,85.5 759.8,84.1 759.9,84.8 760.0,85.2 760.1,82.3 760.2,88.8 760.4,85.5 760.5,86.1 760.6,84.4 760.7,83.1 760.8,84.2 760.9,82.8 761.0,78.4 761.1,80.2 761.2,79.5 761.3,84.0 761.4,80.9 761.5,82.8 761.6,84.2 761.7,84.0 761.8,86.3 761.9,85.6 762.0,77.1 762.1,89.4 762.2,85.7 762.3,76.7 762.4,74.7 762.5,69.6 762.6,75.6 762.8,76.6 762.9,78.9 763.0,84.5 763.1,83.7 763.2,86.6 763.3,88.4 763.4,77.5 763.5,81.8 763.6,84.0 763.7,80.5 763.8,77.0 763.9,75.7 764.0,79.9 764.1,74.6 764.2,80.6 764.3,76.5 764.4,76.2 764.5,79.8 764.6,75.3 764.7,78.7 764.8,77.5 764.9,78.1 765.0,80.1 765.2,90.7 765.3,84.0 765.4,86.8 765.5,85.5 765.6,82.7 765.7,90.3 765.8,83.1 765.9,88.5 766.0,84.7 766.1,83.4 766.2,91.1 766.3,80.7 766.4,87.2 766.5,84.2 766.6,86.6 766.7,85.0 766.8,85.9 766.9,80.8 767.0,77.2 767.1,84.5 767.2,75.7 767.3,74.2 767.4,74.4 767.5,75.7 767.7,74.2 767.8,73.8 767.9,79.5 768.0,85.5 768.1,78.8 768.2,81.0 768.3,76.1 768.4,81.3 768.5,82.7 768.6,82.3 768.7,86.0 768.8,80.6 768.9,77.6 769.0,84.0 769.1,81.9 769.2,82.3 769.3,85.8 769.4,79.2 769.5,82.0 769.6,76.4 769.7,74.8 769.8,74.7 769.9,76.6 770.1,71.5 770.2,69.8 770.3,79.2 770.4,78.0 770.5,80.6 770.6,81.0 770.7,75.1 770.8,78.8 770.9,73.8 771.0,72.7 771.1,77.7 771.2,78.8 771.3,77.3 771.4,78.6 771.5,81.3 771.6,76.0 771.7,80.6 771.8,83.2 771.9,80.0 772.0,85.1 772.1,77.5 772.2,80.9 772.3,75.7 772.4,80.5 772.6,83.8 772.7,79.8 772.8,78.3 772.9,80.2 773.0,81.4 773.1,79.4 773.2,83.6 773.3,78.9 773.4,78.6 773.5,75.6 773.6,69.1 773.7,69.2 773.8,59.7 773.9,73.1 774.0,76.1 774.1,73.2 774.2,76.2 774.3,78.3 774.4,79.6 774.5,85.1 774.6,82.4 774.7,83.9 774.8,74.5 775.0,75.1 775.1,73.8 775.2,68.0 775.3,72.3 775.4,73.6 775.5,78.0 775.6,74.7 775.7,73.4 775.8,74.1 775.9,75.7 776.0,75.3" fill="none" stroke="#55A868" stroke-width="1.0" stroke-opacity="0.62" stroke-linejoin="round"/>
<polyline points="571.0,87.4 571.1,91.2 571.2,89.5 571.3,92.0 571.4,91.4 571.5,89.2 571.6,87.1 571.7,88.1 571.8,90.1 571.9,90.2 572.0,88.8 572.2,90.7 572.3,91.2 572.4,93.2 572.5,94.6 572.6,90.3 572.7,97.0 572.8,90.6 572.9,89.3 573.0,90.0 573.1,91.7 573.2,88.8 573.3,88.3 573.4,87.6 573.5,86.2 573.6,86.3 573.7,84.2 573.8,90.0 573.9,90.9 574.0,97.2 574.1,93.5 574.2,92.4 574.3,92.6 574.4,94.3 574.6,96.0 574.7,89.6 574.8,92.9 574.9,89.7 575.0,90.3 575.1,89.4 575.2,98.2 575.3,95.1 575.4,92.5 575.5,90.5 575.6,93.3 575.7,95.0 575.8,87.2 575.9,94.2 576.0,91.0 576.1,91.0 576.2,97.0 576.3,98.4 576.4,95.2 576.5,90.2 576.6,95.3 576.7,90.9 576.8,95.0 576.9,95.5 577.1,94.8 577.2,92.7 577.3,95.3 577.4,91.9 577.5,93.1 577.6,93.6 577.7,96.3 577.8,92.9 577.9,94.6 578.0,91.3 578.1,90.7 578.2,89.7 578.3,90.7 578.4,92.2 578.5,94.6 578.6,92.5 578.7,94.6 578.8,100.9 578.9,95.7 579.0,90.8 579.1,92.7 579.2,94.8 579.3,93.3 579.5,99.2 579.6,98.8 579.7,98.3 579.8,99.9 579.9,96.5 580.0,98.1 580.1,99.5 580.2,99.8 580.3,99.9 580.4,92.6 580.5,96.4 580.6,96.1 580.7,94.8 580.8,95.8 580.9,94.5 581.0,95.1 581.1,95.6 581.2,100.4 581.3,101.2 581.4,100.4 581.5,99.3 581.6,97.6 581.7,98.7 581.8,97.3 582.0,99.5 582.1,103.2 582.2,103.0 582.3,98.9 582.4,96.7 582.5,93.3 582.6,98.2 582.7,95.8 582.8,98.8 582.9,97.5 583.0,95.0 583.1,96.2 583.2,101.6 583.3,102.8 583.4,103.7 583.5,100.1 583.6,105.3 583.7,97.3 583.8,96.7 583.9,96.7 584.0,100.5 584.1,97.0 584.2,94.5 584.4,100.6 584.5,101.0 584.6,103.5 584.7,98.2 584.8,104.0 584.9,110.4 585.0,101.3 585.1,102.8 585.2,105.3 585.3,105.4 585.4,105.9 585.5,103.3 585.6,104.3 585.7,108.7 585.8,108.3 585.9,105.5 586.0,112.5 586.1,108.0 586.2,113.6 586.3,114.4 586.4,114.0 586.5,113.0 586.6,117.0 586.8,113.9 586.9,114.7 587.0,115.1 587.1,118.4 587.2,109.2 587.3,112.0 587.4,112.9 587.5,109.3 587.6,109.9 587.7,108.9 587.8,111.7 587.9,109.8 588.0,108.7 588.1,107.3 588.2,110.3 588.3,110.1 588.4,110.6 588.5,112.5 588.6,115.4 588.7,116.9 588.8,115.3 588.9,114.2 589.0,108.3 589.1,111.6 589.3,106.2 589.4,107.7 589.5,110.0 589.6,110.7 589.7,112.4 589.8,114.7 589.9,109.4 590.0,109.7 590.1,112.1 590.2,109.8 590.3,115.0 590.4,119.2 590.5,115.8 590.6,117.0 590.7,119.1 590.8,116.1 590.9,114.8 591.0,114.3 591.1,115.7 591.2,116.6 591.3,121.1 591.4,119.6 591.5,115.3 591.7,117.2 591.8,119.1 591.9,119.7 592.0,114.6 592.1,119.7 592.2,117.2 592.3,119.4 592.4,110.5 592.5,114.3 592.6,118.9 592.7,118.3 592.8,119.9 592.9,118.7 593.0,123.3 593.1,127.7 593.2,124.6 593.3,122.1 593.4,124.9 593.5,128.0 593.6,130.1 593.7,124.2 593.8,129.9 593.9,132.9 594.0,132.6 594.2,133.7 594.3,127.4 594.4,128.1 594.5,130.3 594.6,123.3 594.7,123.6 594.8,129.6 594.9,134.5 595.0,132.2 595.1,126.3 595.2,126.3 595.3,132.9 595.4,129.7 595.5,131.5 595.6,129.4 595.7,131.8 595.8,130.3 595.9,130.5 596.0,126.0 596.1,126.7 596.2,131.4 596.3,134.2 596.4,108.2 596.6,135.9 596.7,131.1 596.8,132.4 596.9,132.3 597.0,130.8 597.1,127.9 597.2,132.5 597.3,135.6 597.4,134.3 597.5,139.0 597.6,133.2 597.7,134.9 597.8,135.9 597.9,133.6 598.0,131.6 598.1,129.5 598.2,131.8 598.3,131.7 598.4,131.4 598.5,133.2 598.6,133.8 598.7,134.7 598.8,137.0 598.9,139.4 599.1,137.9 599.2,137.2 599.3,139.5 599.4,138.2 599.5,137.7 599.6,139.1 599.7,136.3 599.8,142.2 599.9,138.3 600.0,136.8 600.1,135.9 600.2,135.8 600.3,139.7 600.4,132.2 600.5,137.4 600.6,136.6 600.7,137.0 600.8,139.0 600.9,137.2 601.0,142.6 601.1,142.6 601.2,140.0 601.3,143.8 601.5,136.1 601.6,139.2 601.7,139.9 601.8,141.8 601.9,141.0 602.0,134.6 602.1,136.8 602.2,139.7 602.3,138.5 602.4,133.3 602.5,137.6 602.6,138.0 602.7,138.9 602.8,139.7 602.9,143.5 603.0,138.4 603.1,141.7 603.2,141.8 603.3,145.0 603.4,138.1 603.5,139.9 603.6,136.7 603.7,135.1 603.8,141.0 604.0,137.1 604.1,139.9 604.2,142.9 604.3,138.7 604.4,142.0 604.5,139.0 604.6,139.4 604.7,143.0 604.8,140.4 604.9,145.4 605.0,143.7 605.1,144.7 605.2,142.9 605.3,145.4 605.4,147.4 605.5,144.5 605.6,145.1 605.7,150.0 605.8,147.1 605.9,143.3 606.0,148.8 606.1,146.1 606.2,148.9 606.4,144.0 606.5,144.1 606.6,148.8 606.7,152.5 606.8,149.9 606.9,147.9 607.0,142.1 607.1,142.8 607.2,147.4 607.3,143.5 607.4,148.8 607.5,144.8 607.6,141.4 607.7,144.2 607.8,146.2 607.9,151.1 608.0,148.3 608.1,150.1 608.2,143.1 608.3,146.5 608.4,142.8 608.5,143.9 608.6,143.7 608.8,145.0 608.9,141.0 609.0,145.0 609.1,144.8 609.2,147.5 609.3,152.1 609.4,149.4 609.5,150.3 609.6,148.6 609.7,148.5 609.8,150.4 609.9,144.0 610.0,144.8 610.1,149.8 610.2,153.7 610.3,152.7 610.4,147.6 610.5,151.8 610.6,142.5 610.7,152.3 610.8,151.3 610.9,150.1 611.0,151.9 611.1,153.0 611.3,152.1 611.4,151.6 611.5,155.0 611.6,155.1 611.7,156.0 611.8,152.1 611.9,153.2 612.0,150.3 612.1,149.1 612.2,147.2 612.3,146.8 612.4,146.2 612.5,143.3 612.6,141.2 612.7,142.3 612.8,140.8 612.9,141.7 613.0,148.7 613.1,152.7 613.2,155.8 613.3,155.5 613.4,156.2 613.5,149.7 613.7,149.2 613.8,146.5 613.9,149.5 614.0,151.4 614.1,150.5 614.2,153.7 614.3,150.6 614.4,144.6 614.5,150.2 614.6,153.9 614.7,149.5 614.8,155.7 614.9,146.1 615.0,146.7 615.1,145.5 615.2,149.0 615.3,149.3 615.4,148.5 615.5,150.1 615.6,148.9 615.7,154.3 615.8,151.5 615.9,152.3 616.0,155.4 616.2,158.0 616.3,154.3 616.4,151.8 616.5,152.6 616.6,158.4 616.7,155.6 616.8,150.6 616.9,155.7 617.0,160.0 617.1,155.2 617.2,150.7 617.3,151.4 617.4,156.7 617.5,155.9 617.6,156.2 617.7,160.0 617.8,156.5 617.9,157.3 618.0,159.1 618.1,161.2 618.2,159.8 618.3,157.9 618.4,151.9 618.6,158.0 618.7,156.7 618.8,158.2 618.9,159.0 619.0,158.6 619.1,164.1 619.2,153.3 619.3,154.6 619.4,155.6 619.5,155.8 619.6,153.8 619.7,157.0 619.8,152.9 619.9,146.4 620.0,147.5 620.1,150.3 620.2,158.4 620.3,161.1 620.4,157.9 620.5,155.4 620.6,157.3 620.7,154.0 620.8,152.6 620.9,151.9 621.1,145.5 621.2,148.7 621.3,151.2 621.4,151.5 621.5,154.4 621.6,142.3 621.7,151.3 621.8,149.7 621.9,157.0 622.0,155.5 622.1,150.0 622.2,149.2 622.3,149.7 622.4,149.1 622.5,151.6 622.6,156.4 622.7,153.1 622.8,149.5 622.9,148.9 623.0,146.0 623.1,148.9 623.2,141.4 623.3,154.0 623.5,151.3 623.6,153.7 623.7,156.9 623.8,152.5 623.9,165.6 624.0,158.5 624.1,157.5 624.2,157.3 624.3,154.4 624.4,157.7 624.5,156.6 624.6,156.7 624.7,158.7 624.8,157.6 624.9,159.2 625.0,158.2 625.1,160.0 625.2,164.5 625.3,165.0 625.4,164.7 625.5,160.8 625.6,165.2 625.7,164.9 625.9,154.5 626.0,167.8 626.1,163.2 626.2,161.1 626.3,167.5 626.4,167.8 626.5,168.5 626.6,156.9 626.7,165.4 626.8,163.5 626.9,166.2 627.0,159.7 627.1,161.6 627.2,170.4 627.3,158.6 627.4,154.3 627.5,155.0 627.6,160.1 627.7,158.0 627.8,151.9 627.9,155.2 628.0,167.8 628.1,166.1 628.2,176.9 628.4,169.5 628.5,166.5 628.6,161.8 628.7,171.2 628.8,168.5 628.9,167.9 629.0,169.8 629.1,171.6 629.2,167.9 629.3,169.0 629.4,167.8 629.5,168.5 629.6,170.5 629.7,172.8 629.8,169.8 629.9,168.5 630.0,170.4 630.1,164.2 630.2,175.7 630.3,174.4 630.4,169.2 630.5,168.2 630.6,172.6 630.8,172.2 630.9,175.9 631.0,181.5 631.1,176.9 631.2,179.1 631.3,173.3 631.4,171.0 631.5,180.4 631.6,172.0 631.7,174.2 631.8,170.4 631.9,178.6 632.0,178.0 632.1,183.2 632.2,182.4 632.3,177.2 632.4,183.1 632.5,180.6 632.6,190.4 632.7,195.7 632.8,185.4 632.9,184.9 633.0,191.7 633.1,190.3 633.3,179.8 633.4,177.8 633.5,180.0 633.6,184.4 633.7,179.6 633.8,178.3 633.9,183.1 634.0,178.3 634.1,182.1 634.2,184.6 634.3,180.4 634.4,177.3 634.5,171.8 634.6,167.8 634.7,174.9 634.8,170.9 634.9,178.3 635.0,174.5 635.1,175.7 635.2,176.2 635.3,176.2 635.4,174.7 635.5,169.3 635.7,176.5 635.8,175.5 635.9,177.2 636.0,176.6 636.1,176.4 636.2,184.4 636.3,174.8 636.4,172.7 636.5,177.0 636.6,174.0 636.7,170.9 636.8,175.0 636.9,169.9 637.0,166.7 637.1,171.3 637.2,171.5 637.3,166.1 637.4,170.0 637.5,174.9 637.6,173.3 637.7,162.7 637.8,167.6 637.9,171.4 638.0,166.5 638.2,166.6 638.3,168.3 638.4,170.4 638.5,171.5 638.6,175.4 638.7,170.9 638.8,176.5 638.9,173.4 639.0,169.8 639.1,165.0 639.2,163.3 639.3,159.2 639.4,157.8 639.5,156.6 639.6,159.5 639.7,153.4 639.8,160.8 639.9,164.2 640.0,161.5 640.1,167.5 640.2,167.5 640.3,167.3 640.4,174.2 640.6,167.1 640.7,166.4 640.8,175.8 640.9,173.5 641.0,169.6 641.1,174.1 641.2,174.0 641.3,170.2 641.4,171.4 641.5,170.4 641.6,173.8 641.7,183.8 641.8,177.7 641.9,182.9 642.0,180.9 642.1,185.4 642.2,185.3 642.3,174.7 642.4,180.3 642.5,180.1 642.6,176.3 642.7,173.2 642.8,176.5 642.9,176.1 643.1,179.0 643.2,181.7 643.3,173.2 643.4,190.1 643.5,175.6 643.6,180.0 643.7,184.3 643.8,181.8 643.9,183.4 644.0,176.7 644.1,175.7 644.2,192.6 644.3,180.6 644.4,180.8 644.5,185.8 644.6,185.2 644.7,176.2 644.8,182.1 644.9,180.1 645.0,184.1 645.1,182.5 645.2,180.7 645.3,179.0 645.5,188.3 645.6,180.4 645.7,180.2 645.8,186.2 645.9,181.2 646.0,188.1 646.1,179.5 646.2,179.0 646.3,181.1 646.4,180.1 646.5,181.6 646.6,184.0 646.7,184.8 646.8,183.6 646.9,187.4 647.0,178.1 647.1,193.2 647.2,180.5 647.3,182.5 647.4,185.4 647.5,193.4 647.6,185.0 647.7,192.0 647.9,185.6 648.0,186.6 648.1,193.3 648.2,198.2 648.3,193.6 648.4,202.2 648.5,203.8 648.6,195.9 648.7,195.4 648.8,184.6 648.9,182.7 649.0,183.7 649.1,188.7 649.2,183.3 649.3,184.0 649.4,196.8 649.5,203.8 649.6,203.3 649.7,197.7 649.8,202.8 649.9,197.9 650.0,198.6 650.1,198.2 650.2,203.8 650.4,203.8 650.5,203.8 650.6,202.7 650.7,190.2 650.8,192.0 650.9,203.2 651.0,193.3 651.1,193.3 651.2,191.3 651.3,192.5 651.4,190.1 651.5,200.9 651.6,197.1 651.7,189.3 651.8,195.5 651.9,187.1 652.0,184.8 652.1,193.7 652.2,194.1 652.3,193.4 652.4,203.8 652.5,203.8 652.6,203.8 652.8,203.8 652.9,199.1 653.0,185.7 653.1,183.2 653.2,175.1 653.3,178.7 653.4,176.7 653.5,187.3 653.6,188.7 653.7,199.4 653.8,179.0 653.9,182.9 654.0,181.6 654.1,183.3 654.2,181.7 654.3,176.9 654.4,180.2 654.5,175.0 654.6,176.6 654.7,176.8 654.8,181.5 654.9,180.2 655.0,165.1 655.1,180.8 655.3,188.8 655.4,179.3 655.5,165.2 655.6,160.9 655.7,163.8 655.8,164.1 655.9,171.8 656.0,170.2 656.1,173.7 656.2,180.4 656.3,180.7 656.4,167.8 656.5,178.0 656.6,163.9 656.7,163.0 656.8,170.2 656.9,165.4 657.0,172.7 657.1,166.4 657.2,156.0 657.3,164.0 657.4,161.8 657.5,161.4 657.7,165.6 657.8,166.8 657.9,169.3 658.0,162.0 658.1,176.4 658.2,164.1 658.3,167.1 658.4,157.6 658.5,152.1 658.6,157.0 658.7,168.2 658.8,160.2 658.9,164.3 659.0,167.2 659.1,157.9 659.2,157.2 659.3,162.6 659.4,152.0 659.5,153.3 659.6,151.3 659.7,158.7 659.8,167.9 659.9,159.4 660.0,165.2 660.2,165.0 660.3,155.2 660.4,161.4 660.5,160.9 660.6,169.8 660.7,159.2 660.8,154.1 660.9,156.4 661.0,153.1 661.1,150.9 661.2,165.9 661.3,170.2 661.4,174.5 661.5,174.2 661.6,170.9 661.7,163.6 661.8,162.2 661.9,164.2 662.0,159.7 662.1,164.8 662.2,162.7 662.3,155.9 662.4,157.0 662.6,161.0 662.7,150.5 662.8,157.8 662.9,145.6 663.0,151.3 663.1,145.8 663.2,135.7 663.3,146.4 663.4,135.8 663.5,142.7 663.6,138.9 663.7,132.1 663.8,138.7 663.9,142.2 664.0,144.8 664.1,149.6 664.2,149.5 664.3,145.5 664.4,144.9 664.5,145.8 664.6,146.9 664.7,151.9 664.8,144.3 665.0,162.1 665.1,153.6 665.2,148.1 665.3,143.7 665.4,127.3 665.5,124.2 665.6,139.8 665.7,128.6 665.8,144.0 665.9,133.3 666.0,144.6 666.1,137.6 666.2,148.5 666.3,142.5 666.4,147.1 666.5,151.7 666.6,147.3 666.7,145.6 666.8,134.3 666.9,145.1 667.0,149.7 667.1,147.1 667.2,157.9 667.3,148.7 667.5,150.5 667.6,145.4 667.7,158.0 667.8,148.2 667.9,133.8 668.0,147.7 668.1,144.1 668.2,143.5 668.3,145.1 668.4,149.0 668.5,150.7 668.6,141.0 668.7,144.5 668.8,143.5 668.9,147.5 669.0,149.1 669.1,138.2 669.2,139.0 669.3,148.3 669.4,146.0 669.5,130.7 669.6,137.1 669.7,135.5 669.9,130.6 670.0,132.2 670.1,140.0 670.2,142.1 670.3,140.5 670.4,148.2 670.5,147.8 670.6,129.9 670.7,153.4 670.8,141.9 670.9,142.9 671.0,146.0 671.1,146.3 671.2,148.2 671.3,141.7 671.4,140.4 671.5,129.4 671.6,128.5 671.7,133.0 671.8,134.6 671.9,140.6 672.0,146.4 672.1,145.6 672.2,141.1 672.4,136.3 672.5,133.2 672.6,138.1 672.7,130.7 672.8,128.6 672.9,119.5 673.0,125.3 673.1,121.8 673.2,136.7 673.3,139.9 673.4,141.6 673.5,137.8 673.6,153.1 673.7,144.4 673.8,146.4 673.9,146.6 674.0,142.3 674.1,159.6 674.2,153.7 674.3,150.0 674.4,152.2 674.5,141.2 674.6,132.3 674.8,140.3 674.9,121.3 675.0,120.5 675.1,131.7 675.2,125.7 675.3,118.9 675.4,124.7 675.5,119.2 675.6,125.9 675.7,121.6 675.8,138.4 675.9,133.3 676.0,135.8 676.1,144.2 676.2,137.4 676.3,137.6 676.4,132.6 676.5,148.0 676.6,134.4 676.7,145.3 676.8,143.1 676.9,141.1 677.0,137.7 677.1,138.2 677.3,137.1 677.4,134.0 677.5,140.7 677.6,144.7 677.7,141.9 677.8,139.1 677.9,134.1 678.0,134.1 678.1,140.1 678.2,136.2 678.3,139.7 678.4,135.7 678.5,145.1 678.6,154.6 678.7,159.4 678.8,146.7 678.9,134.1 679.0,133.4 679.1,141.7 679.2,125.5 679.3,123.8 679.4,124.0 679.5,122.1 679.7,123.3 679.8,120.5 679.9,143.9 680.0,141.3 680.1,130.5 680.2,135.5 680.3,133.8 680.4,132.9 680.5,133.4 680.6,119.0 680.7,143.1 680.8,136.1 680.9,131.8 681.0,122.7 681.1,121.6 681.2,138.5 681.3,123.2 681.4,124.0 681.5,131.3 681.6,119.3 681.7,125.7 681.8,122.6 681.9,126.0 682.0,124.3 682.2,123.5 682.3,124.5 682.4,118.9 682.5,120.4 682.6,132.4 682.7,123.2 682.8,113.2 682.9,120.6 683.0,122.9 683.1,125.0 683.2,126.7 683.3,127.4 683.4,136.5 683.5,125.3 683.6,133.9 683.7,123.4 683.8,134.5 683.9,126.9 684.0,135.4 684.1,137.7 684.2,130.5 684.3,122.1 684.4,128.0 684.6,142.9 684.7,121.3 684.8,126.2 684.9,135.7 685.0,119.3 685.1,132.1 685.2,130.6 685.3,120.9 685.4,125.0 685.5,139.5 685.6,122.4 685.7,131.8 685.8,138.8 685.9,140.1 686.0,136.1 686.1,136.0 686.2,142.6 686.3,139.6 686.4,130.4 686.5,132.4 686.6,125.3 686.7,141.6 686.8,135.9 687.0,136.0 687.1,141.8 687.2,128.0 687.3,132.8 687.4,130.6 687.5,135.8 687.6,133.3 687.7,135.3 687.8,131.1 687.9,139.5 688.0,142.4 688.1,144.2 688.2,147.8 688.3,132.5 688.4,144.8 688.5,130.8 688.6,133.7 688.7,131.7 688.8,127.5 688.9,139.2 689.0,136.4 689.1,140.6 689.2,122.3 689.3,137.6 689.5,141.9 689.6,129.4 689.7,133.2 689.8,134.1 689.9,130.2 690.0,126.2 690.1,125.7 690.2,131.1 690.3,138.1 690.4,133.7 690.5,135.3 690.6,129.1 690.7,134.2 690.8,137.5 690.9,130.6 691.0,138.5 691.1,140.6 691.2,126.8 691.3,129.1 691.4,142.3 691.5,131.2 691.6,134.1 691.7,121.9 691.9,129.8 692.0,128.6 692.1,141.6 692.2,138.7 692.3,126.4 692.4,131.1 692.5,136.2 692.6,128.3 692.7,136.6 692.8,135.8 692.9,137.3 693.0,145.2 693.1,140.0 693.2,135.3 693.3,138.4 693.4,142.6 693.5,132.9 693.6,125.8 693.7,136.7 693.8,134.6 693.9,136.6 694.0,118.1 694.1,134.3 694.2,130.7 694.4,138.0 694.5,130.1 694.6,125.1 694.7,138.8 694.8,135.5 694.9,137.5 695.0,131.7 695.1,132.3 695.2,124.4 695.3,145.2 695.4,135.7 695.5,145.3 695.6,135.2 695.7,141.1 695.8,134.5 695.9,139.3 696.0,114.9 696.1,123.3 696.2,126.8 696.3,124.5 696.4,129.5 696.5,120.4 696.6,132.0 696.8,134.7 696.9,124.7 697.0,129.7 697.1,131.4 697.2,136.0 697.3,130.8 697.4,137.8 697.5,128.3 697.6,127.3 697.7,120.8 697.8,133.9 697.9,135.1 698.0,130.5 698.1,145.9 698.2,133.6 698.3,147.4 698.4,143.9 698.5,152.1 698.6,146.6 698.7,136.0 698.8,142.8 698.9,149.5 699.0,141.4 699.1,131.6 699.3,131.5 699.4,141.3 699.5,147.5 699.6,143.2 699.7,152.2 699.8,152.9 699.9,151.5 700.0,150.4 700.1,147.4 700.2,150.9 700.3,143.1 700.4,153.9 700.5,139.3 700.6,149.3 700.7,150.4 700.8,151.3 700.9,155.6 701.0,156.3 701.1,144.2 701.2,146.7 701.3,135.7 701.4,135.2 701.5,133.3 701.7,146.7 701.8,143.8 701.9,156.4 702.0,147.5 702.1,146.7 702.2,147.6 702.3,152.9 702.4,143.2 702.5,150.6 702.6,138.5 702.7,134.6 702.8,127.0 702.9,137.2 703.0,129.3 703.1,149.1 703.2,139.9 703.3,149.6 703.4,154.1 703.5,145.9 703.6,152.7 703.7,166.6 703.8,151.0 703.9,149.4 704.1,150.3 704.2,148.0 704.3,152.5 704.4,146.6 704.5,151.6 704.6,153.8 704.7,144.8 704.8,146.3 704.9,150.0 705.0,144.7 705.1,143.8 705.2,152.2 705.3,146.6 705.4,164.3 705.5,147.8 705.6,152.6 705.7,153.3 705.8,156.7 705.9,152.4 706.0,153.5 706.1,142.0 706.2,151.8 706.3,155.3 706.4,160.1 706.6,156.4 706.7,157.7 706.8,164.3 706.9,142.3 707.0,145.0 707.1,133.1 707.2,135.8 707.3,138.3 707.4,136.7 707.5,142.5 707.6,149.6 707.7,146.1 707.8,162.4 707.9,156.6 708.0,153.3 708.1,151.4 708.2,147.0 708.3,158.5 708.4,150.2 708.5,152.9 708.6,154.8 708.7,147.2 708.8,161.1 709.0,158.4 709.1,150.6 709.2,134.9 709.3,151.5 709.4,134.8 709.5,151.7 709.6,137.4 709.7,145.1 709.8,147.6 709.9,151.1 710.0,157.6 710.1,158.1 710.2,160.1 710.3,160.1 710.4,165.0 710.5,145.6 710.6,152.2 710.7,141.7 710.8,148.2 710.9,140.6 711.0,139.8 711.1,151.2 711.2,154.5 711.3,151.6 711.5,150.4 711.6,155.1 711.7,166.4 711.8,141.6 711.9,148.0 712.0,144.5 712.1,139.0 712.2,141.3 712.3,154.0 712.4,142.2 712.5,139.8 712.6,139.6 712.7,131.8 712.8,131.7 712.9,145.7 713.0,134.4 713.1,129.7 713.2,139.3 713.3,145.6 713.4,132.1 713.5,131.5 713.6,141.9 713.7,137.9 713.9,136.2 714.0,132.7 714.1,133.4 714.2,135.7 714.3,141.0 714.4,135.7 714.5,133.8 714.6,145.6 714.7,139.9 714.8,141.2 714.9,146.3 715.0,151.2 715.1,144.9 715.2,144.6 715.3,146.4 715.4,165.8 715.5,152.0 715.6,145.0 715.7,142.0 715.8,143.5 715.9,136.2 716.0,138.0 716.1,146.2 716.2,137.6 716.4,137.1 716.5,129.2 716.6,138.9 716.7,138.7 716.8,134.1 716.9,124.4 717.0,140.6 717.1,133.4 717.2,141.0 717.3,141.9 717.4,142.1 717.5,135.3 717.6,140.8 717.7,141.1 717.8,136.8 717.9,140.5 718.0,130.9 718.1,133.1 718.2,136.9 718.3,120.6 718.4,132.5 718.5,124.4 718.6,132.8 718.8,127.5 718.9,124.6 719.0,131.4 719.1,130.0 719.2,130.7 719.3,139.4 719.4,130.1 719.5,144.4 719.6,139.6 719.7,129.2 719.8,134.6 719.9,132.9 720.0,126.5 720.1,127.5 720.2,113.1 720.3,117.0 720.4,112.9 720.5,106.7 720.6,122.1 720.7,110.5 720.8,115.0 720.9,115.3 721.0,113.2 721.1,121.4 721.3,115.8 721.4,113.6 721.5,117.5 721.6,122.9 721.7,128.2 721.8,123.0 721.9,122.0 722.0,121.2 722.1,120.7 722.2,117.7 722.3,124.4 722.4,137.5 722.5,130.8 722.6,122.2 722.7,133.7 722.8,122.6 722.9,120.1 723.0,124.6 723.1,128.4 723.2,109.8 723.3,118.8 723.4,122.1 723.5,133.2 723.7,135.8 723.8,132.2 723.9,134.0 724.0,133.5 724.1,123.3 724.2,120.4 724.3,125.0 724.4,126.4 724.5,130.6 724.6,118.6 724.7,125.5 724.8,123.2 724.9,125.2 725.0,125.7 725.1,122.8 725.2,130.5 725.3,128.8 725.4,128.4 725.5,129.1 725.6,127.5 725.7,130.8 725.8,126.8 725.9,121.5 726.1,130.9 726.2,132.5 726.3,140.9 726.4,141.8 726.5,129.9 726.6,135.2 726.7,136.6 726.8,134.3 726.9,133.1 727.0,134.0 727.1,118.8 727.2,132.8 727.3,137.7 727.4,134.0 727.5,133.9 727.6,132.1 727.7,136.9 727.8,134.5 727.9,132.0 728.0,118.6 728.1,126.4 728.2,129.5 728.3,111.6 728.4,114.7 728.6,116.1 728.7,119.0 728.8,111.8 728.9,128.6 729.0,124.7 729.1,128.9 729.2,119.0 729.3,129.1 729.4,119.5 729.5,125.7 729.6,115.0 729.7,117.6 729.8,121.4 729.9,120.5 730.0,119.1 730.1,119.9 730.2,118.0 730.3,124.6 730.4,110.7 730.5,115.5 730.6,120.5 730.7,118.9 730.8,115.6 731.0,116.2 731.1,126.2 731.2,104.6 731.3,119.5 731.4,120.9 731.5,117.2 731.6,123.0 731.7,119.9 731.8,116.6 731.9,126.6 732.0,114.7 732.1,119.7 732.2,106.6 732.3,110.4 732.4,112.9 732.5,97.0 732.6,100.9 732.7,120.0 732.8,112.9 732.9,127.7 733.0,112.5 733.1,116.8 733.2,116.0 733.3,118.5 733.5,116.0 733.6,116.9 733.7,114.3 733.8,108.7 733.9,114.8 734.0,105.8 734.1,116.7 734.2,114.3 734.3,110.2 734.4,120.9 734.5,112.1 734.6,119.6 734.7,116.0 734.8,103.0 734.9,112.7 735.0,114.2 735.1,116.8 735.2,112.5 735.3,117.8 735.4,120.4 735.5,122.0 735.6,111.4 735.7,113.8 735.9,111.8 736.0,110.7 736.1,114.7 736.2,106.9 736.3,110.3 736.4,115.4 736.5,110.2 736.6,120.3 736.7,110.9 736.8,111.0 736.9,114.6 737.0,110.9 737.1,108.3 737.2,105.8 737.3,105.1 737.4,108.5 737.5,103.6 737.6,123.8 737.7,114.6 737.8,107.3 737.9,110.6 738.0,105.8 738.1,100.0 738.2,100.1 738.4,103.1 738.5,103.3 738.6,102.6 738.7,106.5 738.8,110.6 738.9,112.5 739.0,109.3 739.1,109.5 739.2,117.1 739.3,109.2 739.4,114.4 739.5,101.9 739.6,105.3 739.7,106.3 739.8,98.1 739.9,96.0 740.0,94.9 740.1,98.0 740.2,103.2 740.3,104.5 740.4,107.7 740.5,103.9 740.6,101.2 740.8,111.1 740.9,117.1 741.0,113.5 741.1,113.3 741.2,110.7 741.3,106.9 741.4,112.6 741.5,104.3 741.6,101.1 741.7,107.0 741.8,96.1 741.9,102.8 742.0,101.5 742.1,99.1 742.2,98.1 742.3,93.8 742.4,95.4 742.5,96.4 742.6,96.6 742.7,100.4 742.8,96.0 742.9,94.4 743.0,94.1 743.2,84.7 743.3,84.1 743.4,89.4 743.5,95.3 743.6,86.9 743.7,92.3 743.8,95.2 743.9,97.2 744.0,91.2 744.1,99.1 744.2,96.5 744.3,88.1 744.4,93.0 744.5,91.9 744.6,94.2 744.7,86.4 744.8,94.8 744.9,92.9 745.0,88.5 745.1,94.8 745.2,97.8 745.3,89.0 745.4,93.3 745.5,90.4 745.7,93.3 745.8,81.1 745.9,83.5 746.0,87.9 746.1,88.6 746.2,80.1 746.3,88.2 746.4,76.1 746.5,89.8 746.6,84.0 746.7,78.0 746.8,83.4 746.9,76.7 747.0,80.2 747.1,76.3 747.2,77.7 747.3,76.8 747.4,76.1 747.5,82.4 747.6,78.7 747.7,71.2 747.8,80.0 747.9,75.6 748.1,81.5 748.2,80.6 748.3,79.3 748.4,74.6 748.5,73.2 748.6,76.8 748.7,76.2 748.8,75.8 748.9,77.5 749.0,72.0 749.1,76.9 749.2,75.6 749.3,75.9 749.4,76.1 749.5,74.2 749.6,65.2 749.7,77.2 749.8,74.4 749.9,77.2 750.0,82.4 750.1,74.6 750.2,77.0 750.3,83.8 750.4,74.0 750.6,77.7 750.7,78.2 750.8,79.7 750.9,74.1 751.0,70.3 751.1,77.5 751.2,67.5 751.3,66.3 751.4,68.5 751.5,75.8 751.6,74.2 751.7,78.2 751.8,83.2 751.9,76.1 752.0,84.4 752.1,78.0 752.2,79.5 752.3,79.7 752.4,74.2 752.5,75.6 752.6,69.6 752.7,70.6 752.8,69.8 753.0,78.1 753.1,79.0 753.2,77.3 753.3,75.4 753.4,75.7 753.5,68.9 753.6,73.6 753.7,75.1 753.8,70.3 753.9,72.2 754.0,74.6 754.1,76.3 754.2,80.0 754.3,79.3 754.4,81.8 754.5,77.4 754.6,79.9 754.7,74.8 754.8,75.4 754.9,78.5 755.0,76.9 755.1,79.5 755.2,80.0 755.3,81.4 755.5,72.2 755.6,81.2 755.7,77.8 755.8,79.5 755.9,82.1 756.0,84.9 756.1,73.6 756.2,72.5 756.3,73.6 756.4,77.9 756.5,77.2 756.6,77.9 756.7,75.7 756.8,74.4 756.9,69.2 757.0,78.6 757.1,72.6 757.2,74.1 757.3,78.6 757.4,77.4 757.5,72.8 757.6,75.9 757.7,75.0 757.9,74.3 758.0,70.5 758.1,60.0 758.2,59.8 758.3,60.7 758.4,68.4 758.5,59.3 758.6,66.2 758.7,63.4 758.8,66.6 758.9,62.4 759.0,65.9 759.1,56.9 759.2,57.1 759.3,62.3 759.4,60.7 759.5,65.6 759.6,64.4 759.7,64.3 759.8,64.5 759.9,65.2 760.0,64.5 760.1,66.7 760.2,69.9 760.4,63.6 760.5,66.9 760.6,74.7 760.7,68.4 760.8,70.7 760.9,69.6 761.0,77.6 761.1,63.0 761.2,75.6 761.3,69.6 761.4,71.2 761.5,64.9 761.6,62.6 761.7,69.3 761.8,62.1 761.9,59.1 762.0,60.7 762.1,60.5 762.2,59.2 762.3,55.3 762.4,53.3 762.5,52.0 762.6,55.6 762.8,52.8 762.9,52.8 763.0,54.8 763.1,60.1 763.2,60.9 763.3,60.4 763.4,53.5 763.5,50.8 763.6,54.3 763.7,44.9 763.8,53.7 763.9,50.0 764.0,54.8 764.1,59.3 764.2,52.8 764.3,52.1 764.4,54.0 764.5,51.8 764.6,52.2 764.7,42.7 764.8,45.7 764.9,49.3 765.0,46.1 765.2,54.9 765.3,47.4 765.4,49.2 765.5,49.2 765.6,46.4 765.7,43.6 765.8,43.5 765.9,47.1 766.0,41.6 766.1,48.4 766.2,49.4 766.3,45.2 766.4,47.4 766.5,43.9 766.6,41.9 766.7,40.5 766.8,45.0 766.9,42.8 767.0,41.0 767.1,42.0 767.2,41.5 767.3,42.7 767.4,46.3 767.5,43.3 767.7,42.3 767.8,41.4 767.9,40.4 768.0,42.1 768.1,40.7 768.2,35.4 768.3,39.7 768.4,44.4 768.5,46.4 768.6,43.3 768.7,35.0 768.8,40.0 768.9,39.4 769.0,30.8 769.1,37.1 769.2,39.3 769.3,36.5 769.4,40.3 769.5,33.9 769.6,35.3 769.7,37.4 769.8,38.1 769.9,38.1 770.1,34.5 770.2,31.6 770.3,38.6 770.4,30.5 770.5,31.5 770.6,40.7 770.7,44.2 770.8,40.4 770.9,38.3 771.0,36.5 771.1,39.3 771.2,37.8 771.3,38.1 771.4,35.6 771.5,39.1 771.6,38.4 771.7,39.3 771.8,36.3 771.9,31.5 772.0,30.6 772.1,36.6 772.2,29.8 772.3,27.4 772.4,32.4 772.6,30.2 772.7,26.5 772.8,28.9 772.9,27.8 773.0,28.0 773.1,30.7 773.2,31.7 773.3,37.2 773.4,33.4 773.5,44.2 773.6,36.6 773.7,35.1 773.8,37.0 773.9,39.2 774.0,35.1 774.1,31.7 774.2,36.3 774.3,34.3 774.4,35.1 774.5,36.5 774.6,37.2 774.7,32.9 774.8,37.7 775.0,32.9 775.1,36.2 775.2,35.1 775.3,35.2 775.4,33.3 775.5,37.2 775.6,33.3 775.7,39.0 775.8,33.1 775.9,37.4 776.0,32.6" fill="none" stroke="#C44E52" stroke-width="1.0" stroke-opacity="0.64" stroke-linejoin="round"/>
<text x="565.00" y="216.65" font-size="6.5" text-anchor="end" >0.00</text>
<text x="565.00" y="186.65" font-size="6.5" text-anchor="end" >0.02</text>
<text x="565.00" y="156.65" font-size="6.5" text-anchor="end" >0.04</text>
<text x="565.00" y="126.65" font-size="6.5" text-anchor="end" >0.06</text>
<text x="565.00" y="96.65" font-size="6.5" text-anchor="end" >0.08</text>
<text x="565.00" y="66.65" font-size="6.5" text-anchor="end" >0.10</text>
<text x="565.00" y="36.65" font-size="6.5" text-anchor="end" >0.12</text>
<text transform="translate(545.8,120) rotate(-90)" font-size="7" text-anchor="middle">APE (unit-less)</text>
<text x="578.50" y="229.20" font-size="6.5" text-anchor="middle" >15</text>
<text x="611.08" y="229.20" font-size="6.5" text-anchor="middle" >20</text>
<text x="643.67" y="229.20" font-size="6.5" text-anchor="middle" >25</text>
<text x="676.25" y="229.20" font-size="6.5" text-anchor="middle" >30</text>
<text x="708.83" y="229.20" font-size="6.5" text-anchor="middle" >35</text>
<text x="741.42" y="229.20" font-size="6.5" text-anchor="middle" >40</text>
<text x="774.00" y="229.20" font-size="6.5" text-anchor="middle" >45</text>
<text x="672.8" y="238" font-size="7" text-anchor="middle"><tspan font-style="italic">t</tspan> (s)</text>
<text x="724.8" y="239.6" class="cap" fill="#2a2a2a" font-size="7.3" text-anchor="start" font-family="'DejaVu Serif','Liberation Serif',serif" textLength="59" lengthAdjust="spacingAndGlyphs">+1.3418391*10<tspan font-size="4.6" dy="-3">9</tspan></text>
<text x="673.20" y="9.60" font-size="7.15" text-anchor="middle" >APE w.r.t. full transformation (unit-less)</text>
<text x="673.20" y="17.80" font-size="7.15" text-anchor="middle" >(with SE(3) Umeyama alignment)</text>
<rect x="573.3" y="23.8" width="72.5" height="30" rx="1.3" fill="#EAEAF2" fill-opacity="0.8" stroke="#cccccc" stroke-width="0.6"/>
<line x1="575.8" y1="29.5" x2="589.5" y2="29.5" stroke="#4C72B0" stroke-width="1.2" stroke-opacity="0.75"/>
<text x="594.00" y="31.90" font-size="6.5" text-anchor="start" >ORB-SLAM2.txt</text>
<line x1="575.8" y1="38.8" x2="589.5" y2="38.8" stroke="#55A868" stroke-width="1.2" stroke-opacity="0.75"/>
<text x="594.00" y="41.20" font-size="6.5" text-anchor="start" >ORB-SLAM3.txt</text>
<line x1="575.8" y1="48.1" x2="589.5" y2="48.1" stroke="#C44E52" stroke-width="1.2" stroke-opacity="0.75"/>
<text x="594.00" y="50.50" font-size="6.5" text-anchor="start" >Proposed.txt</text>
<text class="cap" x="121.3" y="289.3" font-size="19.2" text-anchor="middle" font-family="'Liberation Serif','DejaVu Serif',serif" fill="#111">(<tspan font-weight="bold">a</tspan>)</text>
<text class="cap" x="390.8" y="289.3" font-size="19.2" text-anchor="middle" font-family="'Liberation Serif','DejaVu Serif',serif" fill="#111">(<tspan font-weight="bold">b</tspan>)</text>
<text class="cap" x="659.8" y="289.3" font-size="19.2" text-anchor="middle" font-family="'Liberation Serif','DejaVu Serif',serif" fill="#111">(<tspan font-weight="bold">c</tspan>)</text>
</svg>
</body></html>
